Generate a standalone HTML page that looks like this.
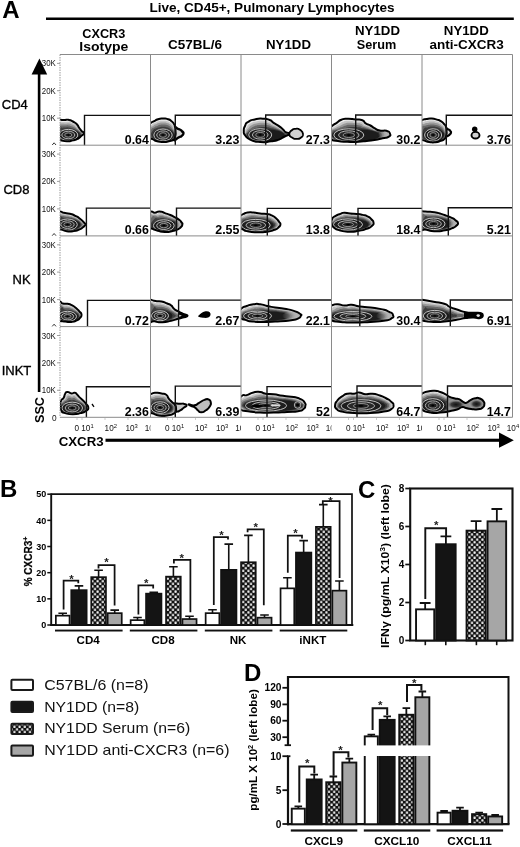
<!DOCTYPE html>
<html><head><meta charset="utf-8"><title>Figure</title>
<style>html,body{margin:0;padding:0;background:#fff}svg{display:block;will-change:transform}text{font-family:"Liberation Sans", sans-serif}</style></head><body>
<svg width="520" height="847" viewBox="0 0 520 847">
<rect width="520" height="847" fill="#fff"/>
<defs>
<pattern id="chk" width="5.2" height="5.2" patternUnits="userSpaceOnUse"><rect width="5.2" height="5.2" fill="#111"/><rect x="0.3" y="0.3" width="2.2" height="2.2" rx="0.6" fill="#f0f0f0"/><rect x="2.9" y="2.9" width="2.2" height="2.2" rx="0.6" fill="#f0f0f0"/></pattern>
<clipPath id="cp00"><rect x="60.00" y="54.50" width="90.50" height="90.70"/></clipPath>
<clipPath id="cp01"><rect x="150.50" y="54.50" width="90.50" height="90.70"/></clipPath>
<clipPath id="cp02"><rect x="241.00" y="54.50" width="90.50" height="90.70"/></clipPath>
<clipPath id="cp03"><rect x="331.50" y="54.50" width="90.50" height="90.70"/></clipPath>
<clipPath id="cp04"><rect x="422.00" y="54.50" width="90.50" height="90.70"/></clipPath>
<clipPath id="cp10"><rect x="60.00" y="145.20" width="90.50" height="90.70"/></clipPath>
<clipPath id="cp11"><rect x="150.50" y="145.20" width="90.50" height="90.70"/></clipPath>
<clipPath id="cp12"><rect x="241.00" y="145.20" width="90.50" height="90.70"/></clipPath>
<clipPath id="cp13"><rect x="331.50" y="145.20" width="90.50" height="90.70"/></clipPath>
<clipPath id="cp14"><rect x="422.00" y="145.20" width="90.50" height="90.70"/></clipPath>
<clipPath id="cp20"><rect x="60.00" y="235.90" width="90.50" height="90.70"/></clipPath>
<clipPath id="cp21"><rect x="150.50" y="235.90" width="90.50" height="90.70"/></clipPath>
<clipPath id="cp22"><rect x="241.00" y="235.90" width="90.50" height="90.70"/></clipPath>
<clipPath id="cp23"><rect x="331.50" y="235.90" width="90.50" height="90.70"/></clipPath>
<clipPath id="cp24"><rect x="422.00" y="235.90" width="90.50" height="90.70"/></clipPath>
<clipPath id="cp30"><rect x="60.00" y="326.60" width="90.50" height="90.70"/></clipPath>
<clipPath id="cp31"><rect x="150.50" y="326.60" width="90.50" height="90.70"/></clipPath>
<clipPath id="cp32"><rect x="241.00" y="326.60" width="90.50" height="90.70"/></clipPath>
<clipPath id="cp33"><rect x="331.50" y="326.60" width="90.50" height="90.70"/></clipPath>
<clipPath id="cp34"><rect x="422.00" y="326.60" width="90.50" height="90.70"/></clipPath>
<clipPath id="cl0"><rect x="58.00" y="418" width="92.50" height="16"/></clipPath>
<clipPath id="cl1"><rect x="148.50" y="418" width="92.50" height="16"/></clipPath>
<clipPath id="cl2"><rect x="239.00" y="418" width="92.50" height="16"/></clipPath>
<clipPath id="cl3"><rect x="329.50" y="418" width="92.50" height="16"/></clipPath>
<clipPath id="cl4"><rect x="420.00" y="418" width="100.00" height="16"/></clipPath>
<radialGradient id="rg"><stop offset="0" stop-color="#111"/><stop offset="0.45" stop-color="#3a3a3a"/><stop offset="1" stop-color="#c8c8c8" stop-opacity="0"/></radialGradient>
<linearGradient id="lg" x1="0" x2="1" y1="0" y2="0"><stop offset="0" stop-color="#aaa" stop-opacity="0"/><stop offset="0.8" stop-color="#b4b4b4" stop-opacity="1"/></linearGradient>
</defs>
<text x="2.3" y="18.2" font-size="24" font-weight="bold" fill="#000">A</text>
<text x="149.5" y="11.8" font-size="13" font-weight="bold" textLength="245" lengthAdjust="spacingAndGlyphs">Live, CD45+, Pulmonary Lymphocytes</text>
<rect x="46" y="17.5" width="467.8" height="2.5" fill="#000"/>
<text x="103.80" y="37.50" font-size="13" font-weight="bold" text-anchor="middle" textLength="43.0" lengthAdjust="spacingAndGlyphs" >CXCR3</text>
<text x="103.80" y="51.00" font-size="13" font-weight="bold" text-anchor="middle" textLength="49.0" lengthAdjust="spacingAndGlyphs" >Isotype</text>
<text x="195.00" y="48.80" font-size="13" font-weight="bold" text-anchor="middle" textLength="54.0" lengthAdjust="spacingAndGlyphs" >C57BL/6</text>
<text x="288.50" y="48.80" font-size="13" font-weight="bold" text-anchor="middle" textLength="45.0" lengthAdjust="spacingAndGlyphs" >NY1DD</text>
<text x="377.50" y="35.00" font-size="13" font-weight="bold" text-anchor="middle" textLength="45.0" lengthAdjust="spacingAndGlyphs" >NY1DD</text>
<text x="376.50" y="48.80" font-size="13" font-weight="bold" text-anchor="middle" textLength="39.5" lengthAdjust="spacingAndGlyphs" >Serum</text>
<text x="466.30" y="35.00" font-size="13" font-weight="bold" text-anchor="middle" textLength="45.0" lengthAdjust="spacingAndGlyphs" >NY1DD</text>
<text x="466.60" y="48.80" font-size="13" font-weight="bold" text-anchor="middle" textLength="74.3" lengthAdjust="spacingAndGlyphs" >anti-CXCR3</text>
<text x="27.8" y="108.5" font-size="13" text-anchor="end" stroke="#000" stroke-width="0.35">CD4</text>
<text x="29.4" y="193.5" font-size="13" text-anchor="end" stroke="#000" stroke-width="0.35">CD8</text>
<text x="30.6" y="283.5" font-size="13" text-anchor="end" stroke="#000" stroke-width="0.35">NK</text>
<text x="31.3" y="375.4" font-size="13" text-anchor="end" stroke="#000" stroke-width="0.35">INKT</text>
<rect x="37.8" y="72" width="2.6" height="320" fill="#000"/>
<path d="M39.4,58.5 L47.2,74.5 L31.6,74.5 Z" fill="#000"/>
<rect x="105.5" y="438.7" width="396" height="3.1" fill="#000"/>
<path d="M513.8,440.2 L499,432.6 L499,447.8 Z" fill="#000"/>
<text transform="translate(44.3,423) rotate(-90)" font-size="13" font-weight="bold" textLength="26" lengthAdjust="spacingAndGlyphs">SSC</text>
<text x="58.7" y="445.6" font-size="13" font-weight="bold" textLength="45" lengthAdjust="spacingAndGlyphs">CXCR3</text>
<g clip-path="url(#cp00)">
<clipPath id="b1"><path d="M50.0,121.0C51.3,114.8 51.4,120.1 56.0,119.8C60.6,119.5 59.6,120.0 63.7,120.0C67.8,120.0 65.2,119.3 68.3,119.8C71.4,120.3 70.1,120.0 72.9,121.5C75.7,123.0 74.7,122.1 76.8,124.2C78.9,126.3 77.6,125.5 79.1,127.7C80.6,129.9 79.8,129.0 81.4,130.8C83.0,132.6 83.9,131.4 83.9,133.1C83.9,134.8 83.3,134.0 81.4,135.8C79.5,137.6 81.1,137.0 78.3,138.5C75.5,140.0 76.7,139.5 72.9,140.4C69.1,141.3 71.1,141.3 66.8,141.2C62.5,141.1 64.9,141.1 60.0,140.2C55.1,139.3 55.3,144.9 52.0,138.5C48.7,132.1 48.7,127.2 50.0,121.0Z"/></clipPath><g clip-path="url(#b1)"><path d="M50.0,121.0C51.3,114.8 51.4,120.1 56.0,119.8C60.6,119.5 59.6,120.0 63.7,120.0C67.8,120.0 65.2,119.3 68.3,119.8C71.4,120.3 70.1,120.0 72.9,121.5C75.7,123.0 74.7,122.1 76.8,124.2C78.9,126.3 77.6,125.5 79.1,127.7C80.6,129.9 79.8,129.0 81.4,130.8C83.0,132.6 83.9,131.4 83.9,133.1C83.9,134.8 83.3,134.0 81.4,135.8C79.5,137.6 81.1,137.0 78.3,138.5C75.5,140.0 76.7,139.5 72.9,140.4C69.1,141.3 71.1,141.3 66.8,141.2C62.5,141.1 64.9,141.1 60.0,140.2C55.1,139.3 55.3,144.9 52.0,138.5C48.7,132.1 48.7,127.2 50.0,121.0Z" fill="#eeeeee"/><path d="M52.5,122.9C54.0,117.4 53.7,122.2 57.7,121.8C61.6,121.5 60.8,122.0 64.3,121.9C67.9,121.9 65.6,121.4 68.3,121.8C71.0,122.2 69.8,121.9 72.4,123.1C74.9,124.3 74.0,123.6 75.9,125.3C77.9,127.1 76.7,126.4 78.3,128.3C79.9,130.2 79.1,129.4 80.7,131.0C82.3,132.7 82.9,131.6 83.0,133.2C83.2,134.8 82.7,134.0 81.1,135.8C79.5,137.5 81.0,136.9 78.2,138.5C75.5,140.0 76.7,139.5 72.9,140.4C69.1,141.3 71.0,141.2 66.8,141.1C62.6,141.0 64.8,141.0 60.2,140.1C55.7,139.1 55.8,144.0 53.2,138.3C50.6,132.5 51.0,128.4 52.5,122.9Z" fill="#c6c6c6"/><path d="M54.7,124.6C56.3,119.8 55.8,124.0 59.1,123.7C62.5,123.4 61.8,123.7 64.9,123.7C67.9,123.6 66.0,123.2 68.3,123.5C70.7,123.8 69.6,123.7 71.9,124.6C74.2,125.6 73.3,125.0 75.2,126.4C77.0,127.8 75.9,127.2 77.5,128.8C79.2,130.4 78.5,129.7 80.1,131.3C81.6,132.8 82.0,131.8 82.3,133.3C82.5,134.8 82.2,134.1 80.8,135.8C79.5,137.5 80.8,136.9 78.2,138.5C75.5,140.0 76.7,139.5 72.9,140.4C69.1,141.2 71.0,141.2 66.8,141.0C62.7,140.9 64.7,140.9 60.4,139.9C56.2,138.9 56.1,143.2 54.2,138.1C52.3,132.9 53.1,129.4 54.7,124.6Z" fill="#989898"/><path d="M57.0,126.4C58.8,122.3 57.9,125.9 60.7,125.6C63.5,125.3 62.9,125.6 65.4,125.5C68.0,125.4 66.4,125.2 68.4,125.4C70.4,125.6 69.4,125.5 71.4,126.2C73.4,126.9 72.5,126.4 74.3,127.5C76.1,128.5 75.1,128.0 76.8,129.3C78.5,130.7 77.9,130.1 79.4,131.5C81.0,132.8 81.0,132.0 81.4,133.4C81.8,134.9 81.7,134.1 80.6,135.8C79.5,137.4 80.7,136.9 78.1,138.4C75.5,140.0 76.6,139.6 72.9,140.4C69.1,141.2 70.9,141.1 66.9,140.9C62.8,140.7 64.5,140.8 60.7,139.8C56.8,138.8 56.6,142.3 55.3,137.8C54.1,133.4 55.2,130.5 57.0,126.4Z" fill="#686868"/><path d="M59.6,128.4C61.6,125.1 60.3,128.0 62.5,127.7C64.6,127.5 64.1,127.6 66.1,127.5C68.1,127.4 66.8,127.3 68.4,127.4C70.0,127.6 69.2,127.5 70.9,127.9C72.5,128.3 71.7,128.0 73.4,128.7C75.1,129.4 74.2,128.9 75.9,130.0C77.7,131.0 77.1,130.5 78.7,131.7C80.2,132.9 80.0,132.2 80.5,133.6C81.1,134.9 81.1,134.1 80.3,135.7C79.4,137.4 80.5,136.9 78.0,138.4C75.6,140.0 76.6,139.6 72.9,140.4C69.2,141.2 70.9,141.1 66.9,140.8C62.9,140.6 64.4,140.8 60.9,139.7C57.5,138.6 57.0,141.3 56.6,137.6C56.1,133.8 57.7,131.7 59.6,128.4Z" fill="#3c3c3c"/><ellipse cx="68.5" cy="135.2" rx="11.5" ry="5.6" fill="#1c1c1c"/><ellipse cx="68.3" cy="135.0" rx="9.5" ry="5.6" fill="#1e1e1e" stroke="#c4c4c4" stroke-width="1.0"/><ellipse cx="68.3" cy="135.0" rx="6.5" ry="3.8" fill="#282828" stroke="#b4b4b4" stroke-width="1.0"/><ellipse cx="68.3" cy="135.0" rx="3.6" ry="2.1" fill="#1e1e1e" stroke="#9c9c9c" stroke-width="0.9"/><ellipse cx="68.3" cy="135.0" rx="1.2" ry="0.7" fill="#000"/></g><path d="M50.0,121.0C51.3,114.8 51.4,120.1 56.0,119.8C60.6,119.5 59.6,120.0 63.7,120.0C67.8,120.0 65.2,119.3 68.3,119.8C71.4,120.3 70.1,120.0 72.9,121.5C75.7,123.0 74.7,122.1 76.8,124.2C78.9,126.3 77.6,125.5 79.1,127.7C80.6,129.9 79.8,129.0 81.4,130.8C83.0,132.6 83.9,131.4 83.9,133.1C83.9,134.8 83.3,134.0 81.4,135.8C79.5,137.6 81.1,137.0 78.3,138.5C75.5,140.0 76.7,139.5 72.9,140.4C69.1,141.3 71.1,141.3 66.8,141.2C62.5,141.1 64.9,141.1 60.0,140.2C55.1,139.3 55.3,144.9 52.0,138.5C48.7,132.1 48.7,127.2 50.0,121.0Z" fill="none" stroke="#000" stroke-width="2" stroke-linejoin="round"/>
</g>
<path d="M84.50,145.20 V115.40 H150.50" fill="none" stroke="#111" stroke-width="1.4"/>
<text x="148.90" y="143.70" font-size="12.4" font-weight="bold" text-anchor="end">0.64</text>
<g clip-path="url(#cp01)">
<path d="M173.0,128.0C174.9,124.7 175.7,128.0 178.8,129.2C181.9,130.4 180.7,130.1 182.2,131.5C183.7,132.9 183.5,132.1 183.4,133.5C183.3,134.9 183.3,134.5 181.8,135.8C180.3,137.1 181.7,136.2 178.8,137.3C175.9,138.4 174.9,142.1 173.0,139.0C171.1,135.9 171.1,131.3 173.0,128.0Z" fill="#d4d4d4" stroke="#000" stroke-width="2.40" stroke-linejoin="round"/>
<clipPath id="b2"><path d="M146.0,128.0C147.2,123.7 148.0,125.4 150.7,123.1C153.4,120.8 151.8,122.5 154.2,121.2C156.6,119.9 154.9,120.1 158.0,119.2C161.1,118.3 160.1,118.6 163.4,118.6C166.7,118.6 165.3,118.3 168.0,119.2C170.7,120.1 169.6,119.7 171.5,121.2C173.4,122.7 172.6,121.9 173.8,123.8C175.0,125.7 174.4,124.6 175.0,127.0C175.6,129.4 175.4,128.0 175.5,131.0C175.6,134.0 176.0,133.1 175.3,136.0C174.6,138.9 175.6,137.9 173.4,139.6C171.2,141.3 172.1,140.4 168.8,141.2C165.5,142.0 167.3,141.9 163.4,141.9C159.5,141.9 160.8,142.1 157.2,141.2C153.6,140.3 156.0,140.9 152.6,139.2C149.2,137.5 149.2,139.7 147.0,136.0C144.8,132.3 144.8,132.3 146.0,128.0Z"/></clipPath><g clip-path="url(#b2)"><path d="M146.0,128.0C147.2,123.7 148.0,125.4 150.7,123.1C153.4,120.8 151.8,122.5 154.2,121.2C156.6,119.9 154.9,120.1 158.0,119.2C161.1,118.3 160.1,118.6 163.4,118.6C166.7,118.6 165.3,118.3 168.0,119.2C170.7,120.1 169.6,119.7 171.5,121.2C173.4,122.7 172.6,121.9 173.8,123.8C175.0,125.7 174.4,124.6 175.0,127.0C175.6,129.4 175.4,128.0 175.5,131.0C175.6,134.0 176.0,133.1 175.3,136.0C174.6,138.9 175.6,137.9 173.4,139.6C171.2,141.3 172.1,140.4 168.8,141.2C165.5,142.0 167.3,141.9 163.4,141.9C159.5,141.9 160.8,142.1 157.2,141.2C153.6,140.3 156.0,140.9 152.6,139.2C149.2,137.5 149.2,139.7 147.0,136.0C144.8,132.3 144.8,132.3 146.0,128.0Z" fill="#eeeeee"/><path d="M147.7,128.7C149.1,124.9 149.6,126.4 152.1,124.4C154.6,122.5 153.1,123.9 155.3,122.8C157.5,121.7 156.0,121.9 158.7,121.2C161.4,120.5 160.5,120.7 163.4,120.7C166.3,120.7 165.0,120.5 167.4,121.2C169.8,121.9 168.8,121.6 170.5,122.8C172.3,124.1 171.5,123.4 172.7,125.0C173.9,126.6 173.3,125.6 174.0,127.7C174.8,129.7 174.6,128.4 174.9,131.2C175.3,134.0 175.7,133.2 175.0,136.0C174.4,138.7 175.2,137.8 173.1,139.4C170.9,141.1 171.9,140.3 168.7,141.0C165.4,141.8 167.2,141.7 163.4,141.7C159.6,141.7 160.9,141.9 157.4,141.0C153.9,140.1 156.1,140.7 153.0,139.1C149.9,137.4 149.9,139.4 148.1,135.9C146.4,132.5 146.4,132.5 147.7,128.7Z" fill="#c6c6c6"/><path d="M149.3,129.3C150.7,125.9 151.1,127.3 153.4,125.7C155.7,124.0 154.3,125.2 156.2,124.3C158.2,123.4 156.9,123.5 159.3,123.0C161.6,122.4 160.8,122.6 163.4,122.6C165.9,122.5 164.8,122.4 166.9,123.0C169.0,123.5 168.1,123.3 169.7,124.3C171.3,125.3 170.5,124.7 171.7,126.0C172.9,127.4 172.2,126.5 173.1,128.3C174.0,130.0 173.8,128.8 174.4,131.4C175.0,133.9 175.4,133.3 174.8,136.0C174.2,138.6 174.8,137.7 172.7,139.3C170.6,140.9 171.6,140.1 168.5,140.9C165.4,141.6 167.1,141.6 163.4,141.6C159.7,141.5 160.9,141.7 157.5,140.8C154.2,140.0 156.1,140.6 153.3,138.9C150.5,137.3 150.5,139.1 149.1,135.9C147.8,132.7 147.8,132.7 149.3,129.3Z" fill="#989898"/><path d="M150.9,130.0C152.4,127.0 152.6,128.3 154.8,126.9C156.9,125.6 155.6,126.6 157.3,125.9C159.0,125.2 157.9,125.3 159.9,124.8C161.9,124.4 161.2,124.5 163.4,124.5C165.5,124.5 164.5,124.4 166.3,124.8C168.1,125.3 167.3,125.0 168.8,125.8C170.2,126.6 169.5,126.1 170.7,127.2C171.8,128.2 171.1,127.4 172.2,128.9C173.3,130.4 173.1,129.2 173.8,131.5C174.6,133.9 175.0,133.4 174.5,135.9C174.1,138.5 174.5,137.5 172.4,139.1C170.3,140.7 171.4,140.0 168.4,140.7C165.4,141.5 166.9,141.4 163.4,141.4C159.8,141.4 161.0,141.5 157.7,140.7C154.5,139.8 156.2,140.4 153.7,138.8C151.2,137.2 151.1,138.7 150.2,135.8C149.2,132.9 149.4,132.9 150.9,130.0Z" fill="#686868"/><path d="M152.7,130.7C154.3,128.2 154.4,129.4 156.3,128.3C158.2,127.3 157.0,128.0 158.4,127.6C159.8,127.1 158.9,127.2 160.6,126.9C162.2,126.6 161.6,126.7 163.4,126.7C165.1,126.7 164.2,126.6 165.7,126.9C167.2,127.2 166.5,127.0 167.7,127.5C169.0,128.0 168.4,127.7 169.5,128.4C170.6,129.1 169.9,128.5 171.2,129.6C172.4,130.7 172.2,129.6 173.2,131.7C174.3,133.8 174.7,133.5 174.3,135.9C173.9,138.3 174.0,137.4 172.0,139.0C170.0,140.5 171.1,139.8 168.2,140.6C165.4,141.3 166.8,141.2 163.4,141.2C160.0,141.2 161.0,141.3 157.9,140.5C154.8,139.6 156.3,140.2 154.1,138.6C151.9,137.0 151.8,138.4 151.3,135.7C150.9,133.1 151.0,133.2 152.7,130.7Z" fill="#3c3c3c"/><ellipse cx="163.3" cy="135.0" rx="10.8" ry="6.0" fill="#1c1c1c"/><ellipse cx="163.0" cy="135.0" rx="9.2" ry="6.0" fill="#1e1e1e" stroke="#c4c4c4" stroke-width="1.0"/><ellipse cx="163.0" cy="135.0" rx="6.3" ry="4.1" fill="#282828" stroke="#b4b4b4" stroke-width="1.0"/><ellipse cx="163.0" cy="135.0" rx="3.5" ry="2.3" fill="#1e1e1e" stroke="#9c9c9c" stroke-width="0.9"/><ellipse cx="163.0" cy="135.0" rx="1.2" ry="0.8" fill="#000"/></g><path d="M146.0,128.0C147.2,123.7 148.0,125.4 150.7,123.1C153.4,120.8 151.8,122.5 154.2,121.2C156.6,119.9 154.9,120.1 158.0,119.2C161.1,118.3 160.1,118.6 163.4,118.6C166.7,118.6 165.3,118.3 168.0,119.2C170.7,120.1 169.6,119.7 171.5,121.2C173.4,122.7 172.6,121.9 173.8,123.8C175.0,125.7 174.4,124.6 175.0,127.0C175.6,129.4 175.4,128.0 175.5,131.0C175.6,134.0 176.0,133.1 175.3,136.0C174.6,138.9 175.6,137.9 173.4,139.6C171.2,141.3 172.1,140.4 168.8,141.2C165.5,142.0 167.3,141.9 163.4,141.9C159.5,141.9 160.8,142.1 157.2,141.2C153.6,140.3 156.0,140.9 152.6,139.2C149.2,137.5 149.2,139.7 147.0,136.0C144.8,132.3 144.8,132.3 146.0,128.0Z" fill="none" stroke="#000" stroke-width="2" stroke-linejoin="round"/>
</g>
<path d="M175.30,145.20 V115.20 H241.00" fill="none" stroke="#111" stroke-width="1.4"/>
<text x="239.40" y="143.70" font-size="12.4" font-weight="bold" text-anchor="end">3.23</text>
<g clip-path="url(#cp02)">
<clipPath id="b3"><path d="M243.8,131.0C243.7,127.8 243.6,129.0 245.0,126.0C246.4,123.0 244.7,124.2 248.0,122.0C251.3,119.8 249.8,120.5 254.8,119.4C259.8,118.3 258.0,118.5 262.9,118.7C267.8,118.9 266.0,118.6 269.6,120.0C273.2,121.4 270.5,120.8 273.6,122.8C276.7,124.8 275.9,123.9 279.0,126.1C282.1,128.3 280.8,127.5 283.0,129.5C285.2,131.5 283.7,131.0 285.5,132.2C287.3,133.4 286.8,132.4 288.5,133.0C290.2,133.6 290.7,133.3 290.5,134.0C290.3,134.7 290.3,134.0 288.0,135.0C285.7,136.0 286.7,135.5 283.7,137.0C280.7,138.5 283.2,138.2 279.0,139.6C274.8,141.0 277.3,140.5 271.0,141.3C264.7,142.1 266.9,142.5 260.2,142.0C253.5,141.5 255.7,141.9 250.8,139.8C245.9,137.7 247.7,138.5 245.4,135.6C243.1,132.7 243.9,134.2 243.8,131.0Z"/></clipPath><g clip-path="url(#b3)"><path d="M243.8,131.0C243.7,127.8 243.6,129.0 245.0,126.0C246.4,123.0 244.7,124.2 248.0,122.0C251.3,119.8 249.8,120.5 254.8,119.4C259.8,118.3 258.0,118.5 262.9,118.7C267.8,118.9 266.0,118.6 269.6,120.0C273.2,121.4 270.5,120.8 273.6,122.8C276.7,124.8 275.9,123.9 279.0,126.1C282.1,128.3 280.8,127.5 283.0,129.5C285.2,131.5 283.7,131.0 285.5,132.2C287.3,133.4 286.8,132.4 288.5,133.0C290.2,133.6 290.7,133.3 290.5,134.0C290.3,134.7 290.3,134.0 288.0,135.0C285.7,136.0 286.7,135.5 283.7,137.0C280.7,138.5 283.2,138.2 279.0,139.6C274.8,141.0 277.3,140.5 271.0,141.3C264.7,142.1 266.9,142.5 260.2,142.0C253.5,141.5 255.7,141.9 250.8,139.8C245.9,137.7 247.7,138.5 245.4,135.6C243.1,132.7 243.9,134.2 243.8,131.0Z" fill="#eeeeee"/><path d="M245.1,131.2C245.5,128.3 245.3,129.5 247.0,126.9C248.7,124.3 247.0,125.4 250.1,123.6C253.2,121.7 251.8,122.3 256.2,121.4C260.6,120.5 259.0,120.7 263.3,120.8C267.6,121.0 266.0,120.8 269.2,121.9C272.3,123.0 269.9,122.5 272.8,124.1C275.7,125.8 274.8,125.0 277.9,126.8C281.1,128.7 279.8,128.0 282.1,129.8C284.5,131.6 283.1,131.2 284.9,132.3C286.7,133.4 286.1,132.5 287.5,133.1C289.0,133.7 289.3,133.4 289.3,134.1C289.2,134.7 289.1,134.0 287.3,135.0C285.4,136.0 286.5,135.5 283.7,137.0C280.9,138.5 283.2,138.2 279.0,139.6C274.7,141.0 277.2,140.5 271.0,141.3C264.8,142.0 267.0,142.3 260.4,141.8C253.7,141.3 256.0,141.8 251.1,139.7C246.3,137.6 247.8,138.4 245.8,135.6C243.8,132.8 244.7,134.1 245.1,131.2Z" fill="#c6c6c6"/><path d="M246.2,131.5C247.1,128.8 246.9,129.9 248.8,127.7C250.8,125.5 249.1,126.5 252.0,125.0C254.9,123.5 253.6,124.0 257.5,123.2C261.4,122.5 259.9,122.6 263.7,122.7C267.4,122.8 266.0,122.7 268.8,123.5C271.6,124.4 269.3,124.0 272.1,125.3C274.8,126.6 273.9,125.9 277.0,127.5C280.1,129.1 278.9,128.4 281.4,130.1C283.9,131.7 282.6,131.3 284.4,132.4C286.2,133.4 285.4,132.6 286.7,133.2C287.9,133.8 288.1,133.5 288.1,134.1C288.1,134.7 288.1,134.1 286.7,135.0C285.2,136.0 286.3,135.5 283.7,137.0C281.2,138.5 283.2,138.2 279.0,139.6C274.7,141.0 277.1,140.5 270.9,141.2C264.8,141.9 267.0,142.2 260.5,141.6C254.0,141.1 256.2,141.6 251.4,139.6C246.6,137.6 247.9,138.3 246.2,135.6C244.5,132.9 245.3,134.1 246.2,131.5Z" fill="#989898"/><path d="M247.4,131.7C248.8,129.4 248.5,130.3 250.7,128.5C252.9,126.8 251.3,127.6 254.0,126.4C256.7,125.3 255.5,125.7 258.8,125.1C262.2,124.6 260.9,124.7 264.0,124.7C267.2,124.8 265.9,124.7 268.4,125.3C270.8,125.9 268.8,125.6 271.3,126.6C273.9,127.5 272.9,127.0 276.0,128.2C279.1,129.5 278.0,128.9 280.6,130.3C283.2,131.7 282.1,131.5 283.9,132.5C285.6,133.4 284.7,132.7 285.7,133.3C286.8,133.9 286.9,133.6 286.9,134.2C287.0,134.8 287.1,134.1 286.0,135.0C284.9,136.0 286.1,135.5 283.7,137.0C281.4,138.5 283.2,138.2 279.0,139.6C274.7,141.0 277.0,140.6 270.9,141.2C264.8,141.8 267.1,142.0 260.7,141.5C254.2,140.9 256.4,141.5 251.7,139.5C247.0,137.6 248.0,138.2 246.6,135.6C245.2,133.0 246.0,134.0 247.4,131.7Z" fill="#686868"/><path d="M248.7,132.0C250.7,129.9 250.3,130.8 252.9,129.5C255.4,128.2 253.8,128.8 256.2,128.1C258.7,127.3 257.6,127.6 260.3,127.2C263.1,126.9 261.9,127.0 264.4,127.0C267.0,127.0 265.9,126.9 267.9,127.3C269.9,127.6 268.1,127.4 270.5,128.0C272.8,128.5 271.8,128.1 274.9,129.0C277.9,129.9 276.9,129.5 279.7,130.6C282.5,131.8 281.6,131.6 283.2,132.6C284.9,133.5 283.9,132.8 284.7,133.4C285.5,134.0 285.4,133.7 285.6,134.3C285.8,134.8 285.9,134.1 285.3,135.0C284.6,136.0 285.8,135.5 283.7,137.0C281.6,138.5 283.3,138.2 279.0,139.6C274.7,141.0 276.9,140.6 270.9,141.1C264.8,141.7 267.1,141.8 260.8,141.3C254.5,140.7 256.6,141.3 252.0,139.4C247.4,137.5 248.1,138.1 247.1,135.6C246.0,133.1 246.8,134.0 248.7,132.0Z" fill="#3c3c3c"/><ellipse cx="266.0" cy="135.3" rx="18.5" ry="6.0" fill="#1c1c1c"/><ellipse cx="260.2" cy="134.9" rx="11.5" ry="6.2" fill="#1e1e1e" stroke="#c4c4c4" stroke-width="1.0"/><ellipse cx="260.2" cy="134.9" rx="7.8" ry="4.2" fill="#282828" stroke="#b4b4b4" stroke-width="1.0"/><ellipse cx="260.2" cy="134.9" rx="4.4" ry="2.4" fill="#1e1e1e" stroke="#9c9c9c" stroke-width="0.9"/><ellipse cx="260.2" cy="134.9" rx="1.5" ry="0.8" fill="#000"/></g><path d="M243.8,131.0C243.7,127.8 243.6,129.0 245.0,126.0C246.4,123.0 244.7,124.2 248.0,122.0C251.3,119.8 249.8,120.5 254.8,119.4C259.8,118.3 258.0,118.5 262.9,118.7C267.8,118.9 266.0,118.6 269.6,120.0C273.2,121.4 270.5,120.8 273.6,122.8C276.7,124.8 275.9,123.9 279.0,126.1C282.1,128.3 280.8,127.5 283.0,129.5C285.2,131.5 283.7,131.0 285.5,132.2C287.3,133.4 286.8,132.4 288.5,133.0C290.2,133.6 290.7,133.3 290.5,134.0C290.3,134.7 290.3,134.0 288.0,135.0C285.7,136.0 286.7,135.5 283.7,137.0C280.7,138.5 283.2,138.2 279.0,139.6C274.8,141.0 277.3,140.5 271.0,141.3C264.7,142.1 266.9,142.5 260.2,142.0C253.5,141.5 255.7,141.9 250.8,139.8C245.9,137.7 247.7,138.5 245.4,135.6C243.1,132.7 243.9,134.2 243.8,131.0Z" fill="none" stroke="#000" stroke-width="2" stroke-linejoin="round"/>
<path d="M289.3,134.3C289.1,132.0 289.4,132.3 291.5,130.5C293.6,128.7 292.7,129.0 295.5,128.8C298.3,128.6 297.5,128.1 300.0,129.8C302.5,131.5 302.7,131.2 303.0,133.8C303.3,136.4 303.2,135.8 301.0,137.5C298.8,139.2 299.5,138.9 296.5,138.9C293.5,138.9 294.4,139.0 292.0,137.5C289.6,136.0 289.5,136.6 289.3,134.3Z" fill="#d0d0d0" stroke="#000" stroke-width="1.80" stroke-linejoin="round"/>
</g>
<path d="M265.70,145.20 V115.00 H331.50" fill="none" stroke="#111" stroke-width="1.4"/>
<text x="329.90" y="143.70" font-size="12.4" font-weight="bold" text-anchor="end">27.3</text>
<g clip-path="url(#cp03)">
<clipPath id="b4"><path d="M326.0,132.0C326.7,127.9 328.4,129.2 332.0,126.1C335.6,123.0 333.6,124.9 336.7,122.8C339.8,120.7 337.8,121.2 341.4,119.8C345.0,118.4 342.8,118.8 347.5,118.7C352.2,118.6 350.7,118.9 355.6,119.4C360.5,119.9 358.9,119.0 362.3,120.3C365.7,121.6 363.0,121.7 365.7,123.4C368.4,125.1 367.5,123.9 370.4,125.5C373.3,127.1 371.3,126.5 374.4,128.2C377.5,129.9 375.8,129.7 379.8,130.6C383.8,131.5 383.1,129.8 386.5,130.8C389.9,131.8 389.2,131.5 389.9,133.5C390.6,135.5 391.0,135.3 388.5,136.9C386.0,138.5 387.2,137.2 382.5,138.2C377.8,139.2 380.7,139.0 374.4,140.0C368.1,141.0 371.7,140.7 363.6,141.3C355.5,141.9 358.7,142.0 350.2,141.9C341.7,141.8 344.7,142.0 338.0,140.9C331.3,139.8 334.0,141.5 330.0,138.5C326.0,135.5 325.3,136.1 326.0,132.0Z"/></clipPath><g clip-path="url(#b4)"><path d="M326.0,132.0C326.7,127.9 328.4,129.2 332.0,126.1C335.6,123.0 333.6,124.9 336.7,122.8C339.8,120.7 337.8,121.2 341.4,119.8C345.0,118.4 342.8,118.8 347.5,118.7C352.2,118.6 350.7,118.9 355.6,119.4C360.5,119.9 358.9,119.0 362.3,120.3C365.7,121.6 363.0,121.7 365.7,123.4C368.4,125.1 367.5,123.9 370.4,125.5C373.3,127.1 371.3,126.5 374.4,128.2C377.5,129.9 375.8,129.7 379.8,130.6C383.8,131.5 383.1,129.8 386.5,130.8C389.9,131.8 389.2,131.5 389.9,133.5C390.6,135.5 391.0,135.3 388.5,136.9C386.0,138.5 387.2,137.2 382.5,138.2C377.8,139.2 380.7,139.0 374.4,140.0C368.1,141.0 371.7,140.7 363.6,141.3C355.5,141.9 358.7,142.0 350.2,141.9C341.7,141.8 344.7,142.0 338.0,140.9C331.3,139.8 334.0,141.5 330.0,138.5C326.0,135.5 325.3,136.1 326.0,132.0Z" fill="#eeeeee"/><path d="M327.6,132.2C328.7,128.4 330.4,129.6 334.2,126.9C337.9,124.3 335.8,125.9 338.8,124.2C341.8,122.4 340.0,122.8 343.2,121.7C346.5,120.6 344.4,120.9 348.6,120.8C352.7,120.7 351.3,121.0 355.6,121.4C360.0,121.8 358.5,121.0 361.5,122.1C364.6,123.2 362.2,123.2 364.7,124.6C367.3,126.0 366.3,125.0 369.2,126.3C372.0,127.7 370.1,127.1 373.3,128.6C376.5,130.1 375.1,130.0 378.8,130.8C382.5,131.6 381.5,130.2 384.5,131.1C387.5,132.0 387.1,131.7 387.8,133.6C388.5,135.5 388.8,135.3 386.7,136.8C384.6,138.3 385.8,137.1 381.6,138.1C377.4,139.1 380.1,138.9 374.1,139.9C368.1,141.0 371.4,140.6 363.5,141.2C355.6,141.9 358.6,141.9 350.3,141.8C342.0,141.6 345.1,141.8 338.6,140.7C332.1,139.6 334.6,141.2 330.9,138.4C327.2,135.5 326.5,136.0 327.6,132.2Z" fill="#c6c6c6"/><path d="M329.1,132.3C330.5,128.8 332.2,130.0 336.1,127.7C340.0,125.4 337.8,126.8 340.7,125.4C343.7,124.0 341.9,124.4 344.9,123.5C347.8,122.6 346.0,122.8 349.6,122.7C353.2,122.6 351.9,122.8 355.7,123.2C359.5,123.5 358.1,122.9 360.9,123.7C363.6,124.6 361.4,124.6 363.8,125.7C366.2,126.8 365.2,126.0 368.1,127.1C370.9,128.2 369.1,127.7 372.4,129.0C375.6,130.3 374.4,130.2 377.9,131.0C381.4,131.8 380.1,130.4 382.8,131.4C385.4,132.3 385.2,131.9 385.9,133.7C386.7,135.5 386.8,135.3 385.1,136.7C383.4,138.2 384.6,137.0 380.8,138.0C377.0,139.0 379.6,138.8 373.8,139.8C368.0,140.9 371.2,140.6 363.5,141.2C355.7,141.8 358.6,141.8 350.4,141.6C342.3,141.4 345.4,141.7 339.1,140.5C332.9,139.4 335.1,141.0 331.7,138.3C328.3,135.6 327.6,135.9 329.1,132.3Z" fill="#989898"/><path d="M330.6,132.5C332.5,129.3 334.1,130.4 338.2,128.5C342.3,126.6 340.0,127.8 342.8,126.7C345.6,125.7 344.0,126.0 346.6,125.3C349.2,124.7 347.6,124.9 350.6,124.8C353.7,124.7 352.6,124.8 355.7,125.0C358.9,125.3 357.8,124.9 360.1,125.4C362.5,126.0 360.6,126.0 362.9,126.8C365.2,127.6 364.1,127.0 366.9,127.9C369.7,128.7 368.0,128.3 371.4,129.4C374.7,130.5 373.8,130.4 377.0,131.2C380.2,131.9 378.6,130.7 380.9,131.6C383.2,132.5 383.1,132.1 384.0,133.8C384.8,135.5 384.7,135.3 383.4,136.6C382.1,138.0 383.2,136.9 379.9,137.9C376.6,139.0 379.0,138.7 373.5,139.8C368.0,140.8 371.0,140.6 363.4,141.1C355.8,141.7 358.5,141.7 350.6,141.5C342.7,141.2 345.7,141.5 339.7,140.4C333.7,139.3 335.6,140.8 332.5,138.2C329.5,135.6 328.7,135.7 330.6,132.5Z" fill="#686868"/><path d="M332.3,132.7C334.6,129.8 336.2,130.9 340.5,129.4C344.7,127.9 342.3,128.9 345.0,128.2C347.7,127.5 346.3,127.7 348.5,127.3C350.7,126.9 349.3,127.1 351.8,127.0C354.2,126.9 353.3,127.0 355.8,127.1C358.3,127.2 357.3,127.0 359.3,127.3C361.4,127.7 359.8,127.6 361.9,128.1C364.0,128.6 362.8,128.2 365.6,128.8C368.4,129.3 366.8,128.9 370.2,129.8C373.7,130.7 373.1,130.7 375.9,131.4C378.8,132.1 376.9,131.1 378.8,131.9C380.8,132.8 380.9,132.4 381.8,133.9C382.7,135.5 382.4,135.3 381.5,136.6C380.6,137.9 381.8,136.8 379.0,137.8C376.2,138.9 378.4,138.6 373.1,139.7C367.9,140.8 370.8,140.5 363.3,141.1C355.8,141.6 358.4,141.6 350.7,141.3C343.0,141.0 346.1,141.3 340.3,140.2C334.6,139.1 336.2,140.6 333.5,138.1C330.8,135.6 329.9,135.6 332.3,132.7Z" fill="#3c3c3c"/><ellipse cx="356.0" cy="135.3" rx="24.0" ry="6.0" fill="#1c1c1c"/><ellipse cx="348.8" cy="135.1" rx="15.0" ry="6.3" fill="#1e1e1e" stroke="#c4c4c4" stroke-width="1.0"/><ellipse cx="348.8" cy="135.1" rx="10.2" ry="4.3" fill="#282828" stroke="#b4b4b4" stroke-width="1.0"/><ellipse cx="348.8" cy="135.1" rx="5.7" ry="2.4" fill="#1e1e1e" stroke="#9c9c9c" stroke-width="0.9"/><ellipse cx="348.8" cy="135.1" rx="2.0" ry="0.8" fill="#000"/><ellipse cx="383.5" cy="134.5" rx="5.5" ry="3.2" fill="url(#lg)"/></g><path d="M326.0,132.0C326.7,127.9 328.4,129.2 332.0,126.1C335.6,123.0 333.6,124.9 336.7,122.8C339.8,120.7 337.8,121.2 341.4,119.8C345.0,118.4 342.8,118.8 347.5,118.7C352.2,118.6 350.7,118.9 355.6,119.4C360.5,119.9 358.9,119.0 362.3,120.3C365.7,121.6 363.0,121.7 365.7,123.4C368.4,125.1 367.5,123.9 370.4,125.5C373.3,127.1 371.3,126.5 374.4,128.2C377.5,129.9 375.8,129.7 379.8,130.6C383.8,131.5 383.1,129.8 386.5,130.8C389.9,131.8 389.2,131.5 389.9,133.5C390.6,135.5 391.0,135.3 388.5,136.9C386.0,138.5 387.2,137.2 382.5,138.2C377.8,139.2 380.7,139.0 374.4,140.0C368.1,141.0 371.7,140.7 363.6,141.3C355.5,141.9 358.7,142.0 350.2,141.9C341.7,141.8 344.7,142.0 338.0,140.9C331.3,139.8 334.0,141.5 330.0,138.5C326.0,135.5 325.3,136.1 326.0,132.0Z" fill="none" stroke="#000" stroke-width="2" stroke-linejoin="round"/>
</g>
<path d="M355.70,145.20 V115.00 H422.00" fill="none" stroke="#111" stroke-width="1.4"/>
<text x="420.40" y="143.70" font-size="12.4" font-weight="bold" text-anchor="end">30.2</text>
<g clip-path="url(#cp04)">
<path d="M444.0,128.5C445.5,126.0 446.4,128.7 448.5,129.6C450.6,130.5 449.6,130.1 450.4,131.2C451.2,132.3 451.2,131.7 450.9,132.8C450.6,133.9 450.9,133.4 449.6,134.6C448.3,135.8 448.9,135.5 447.0,136.3C445.1,137.1 445.0,139.6 444.0,137.0C443.0,134.4 442.5,131.0 444.0,128.5Z" fill="#dcdcdc" stroke="#000" stroke-width="2.20" stroke-linejoin="round"/>
<clipPath id="b5"><path d="M415.0,124.0C416.9,118.5 418.0,122.0 421.7,120.4C425.4,118.8 422.9,119.7 426.2,119.1C429.5,118.5 427.9,118.4 431.5,118.6C435.1,118.8 433.8,118.7 436.9,119.6C440.0,120.5 438.5,119.8 440.8,121.2C443.1,122.6 442.1,122.0 443.8,123.8C445.5,125.6 444.9,124.1 445.8,126.5C446.7,128.9 446.3,128.2 446.5,131.0C446.7,133.8 446.9,132.4 446.3,135.0C445.7,137.6 446.4,136.9 444.6,138.8C442.8,140.7 443.9,139.7 440.8,140.8C437.7,141.9 439.3,141.8 435.4,142.2C431.5,142.6 433.1,142.5 429.2,141.9C425.3,141.3 428.2,142.0 423.8,140.4C419.4,138.8 418.9,142.5 416.0,137.0C413.1,131.5 413.1,129.5 415.0,124.0Z"/></clipPath><g clip-path="url(#b5)"><path d="M415.0,124.0C416.9,118.5 418.0,122.0 421.7,120.4C425.4,118.8 422.9,119.7 426.2,119.1C429.5,118.5 427.9,118.4 431.5,118.6C435.1,118.8 433.8,118.7 436.9,119.6C440.0,120.5 438.5,119.8 440.8,121.2C443.1,122.6 442.1,122.0 443.8,123.8C445.5,125.6 444.9,124.1 445.8,126.5C446.7,128.9 446.3,128.2 446.5,131.0C446.7,133.8 446.9,132.4 446.3,135.0C445.7,137.6 446.4,136.9 444.6,138.8C442.8,140.7 443.9,139.7 440.8,140.8C437.7,141.9 439.3,141.8 435.4,142.2C431.5,142.6 433.1,142.5 429.2,141.9C425.3,141.3 428.2,142.0 423.8,140.4C419.4,138.8 418.9,142.5 416.0,137.0C413.1,131.5 413.1,129.5 415.0,124.0Z" fill="#eeeeee"/><path d="M417.2,125.3C419.1,120.4 419.9,123.6 423.2,122.2C426.5,120.8 424.2,121.6 427.1,121.1C430.0,120.6 428.6,120.5 431.7,120.6C434.9,120.8 433.8,120.7 436.5,121.5C439.2,122.2 437.9,121.6 440.0,122.8C442.0,123.9 441.2,123.5 442.7,125.0C444.3,126.4 443.7,125.2 444.7,127.3C445.7,129.3 445.4,128.6 445.8,131.2C446.1,133.8 446.4,132.5 445.8,135.0C445.3,137.5 445.9,136.8 444.2,138.7C442.4,140.5 443.5,139.5 440.6,140.6C437.6,141.7 439.1,141.6 435.3,142.0C431.6,142.3 433.0,142.3 429.3,141.7C425.6,141.1 428.2,141.8 424.2,140.2C420.2,138.6 419.8,141.8 417.4,136.8C415.1,131.9 415.3,130.2 417.2,125.3Z" fill="#c6c6c6"/><path d="M419.2,126.5C421.1,122.2 421.6,125.0 424.5,123.8C427.4,122.6 425.4,123.3 427.9,122.9C430.4,122.4 429.2,122.4 432.0,122.5C434.7,122.6 433.7,122.5 436.1,123.1C438.5,123.7 437.3,123.2 439.2,124.2C441.1,125.2 440.3,124.7 441.8,126.0C443.3,127.2 442.6,126.1 443.7,127.9C444.8,129.8 444.5,129.1 445.1,131.4C445.7,133.8 445.8,132.6 445.4,135.0C445.0,137.4 445.5,136.7 443.8,138.5C442.2,140.4 443.3,139.4 440.4,140.5C437.6,141.6 438.9,141.5 435.3,141.8C431.6,142.1 433.0,142.1 429.5,141.5C425.9,140.9 428.2,141.6 424.6,140.0C421.0,138.4 420.5,141.2 418.7,136.7C416.9,132.2 417.3,130.8 419.2,126.5Z" fill="#989898"/><path d="M421.3,127.8C423.2,124.1 423.4,126.5 425.8,125.5C428.3,124.5 426.7,125.1 428.8,124.8C430.9,124.4 429.9,124.4 432.2,124.4C434.5,124.5 433.7,124.5 435.7,124.9C437.8,125.3 436.7,125.0 438.4,125.7C440.1,126.4 439.4,126.1 440.8,127.1C442.2,128.1 441.5,127.1 442.7,128.7C443.9,130.2 443.6,129.5 444.4,131.6C445.2,133.8 445.3,132.7 445.0,135.0C444.7,137.3 445.0,136.6 443.5,138.4C441.9,140.2 442.9,139.3 440.2,140.3C437.5,141.4 438.8,141.3 435.2,141.6C431.7,141.9 433.0,141.9 429.6,141.3C426.2,140.7 428.1,141.3 425.0,139.7C421.8,138.2 421.3,140.5 420.1,136.5C418.9,132.5 419.4,131.4 421.3,127.8Z" fill="#686868"/><path d="M423.7,129.1C425.6,126.2 425.3,128.2 427.4,127.4C429.4,126.7 428.1,127.1 429.8,126.8C431.4,126.5 430.6,126.6 432.5,126.6C434.3,126.6 433.6,126.6 435.3,126.8C437.0,127.1 436.1,126.9 437.5,127.3C439.0,127.8 438.3,127.6 439.7,128.3C441.0,129.0 440.2,128.3 441.5,129.5C442.8,130.7 442.6,130.0 443.6,131.9C444.6,133.7 444.7,132.9 444.5,135.0C444.3,137.1 444.5,136.5 443.0,138.3C441.5,140.0 442.6,139.1 440.0,140.2C437.4,141.2 438.6,141.1 435.2,141.4C431.8,141.7 433.0,141.7 429.7,141.1C426.5,140.4 428.1,141.1 425.4,139.5C422.7,137.9 422.2,139.8 421.6,136.4C421.0,132.9 421.7,132.1 423.7,129.1Z" fill="#3c3c3c"/><ellipse cx="433.5" cy="135.0" rx="10.5" ry="6.2" fill="#1c1c1c"/><ellipse cx="433.1" cy="135.0" rx="8.5" ry="6.2" fill="#1e1e1e" stroke="#c4c4c4" stroke-width="1.0"/><ellipse cx="433.1" cy="135.0" rx="5.8" ry="4.2" fill="#282828" stroke="#b4b4b4" stroke-width="1.0"/><ellipse cx="433.1" cy="135.0" rx="3.2" ry="2.4" fill="#1e1e1e" stroke="#9c9c9c" stroke-width="0.9"/><ellipse cx="433.1" cy="135.0" rx="1.1" ry="0.8" fill="#000"/></g><path d="M415.0,124.0C416.9,118.5 418.0,122.0 421.7,120.4C425.4,118.8 422.9,119.7 426.2,119.1C429.5,118.5 427.9,118.4 431.5,118.6C435.1,118.8 433.8,118.7 436.9,119.6C440.0,120.5 438.5,119.8 440.8,121.2C443.1,122.6 442.1,122.0 443.8,123.8C445.5,125.6 444.9,124.1 445.8,126.5C446.7,128.9 446.3,128.2 446.5,131.0C446.7,133.8 446.9,132.4 446.3,135.0C445.7,137.6 446.4,136.9 444.6,138.8C442.8,140.7 443.9,139.7 440.8,140.8C437.7,141.9 439.3,141.8 435.4,142.2C431.5,142.6 433.1,142.5 429.2,141.9C425.3,141.3 428.2,142.0 423.8,140.4C419.4,138.8 418.9,142.5 416.0,137.0C413.1,131.5 413.1,129.5 415.0,124.0Z" fill="none" stroke="#000" stroke-width="2" stroke-linejoin="round"/>
<ellipse cx="475.5" cy="135.2" rx="4" ry="3.3" fill="#d0d0d0" stroke="#000" stroke-width="1.9"/><circle cx="474.7" cy="129.3" r="2.7" fill="#000"/>
</g>
<path d="M446.30,145.20 V115.20 H512.50" fill="none" stroke="#111" stroke-width="1.4"/>
<text x="510.90" y="143.70" font-size="12.4" font-weight="bold" text-anchor="end">3.76</text>
<g clip-path="url(#cp10)">
<clipPath id="b6"><path d="M50.0,210.5C52.5,205.3 54.9,210.8 59.5,211.5C64.1,212.2 60.3,211.9 63.7,212.7C67.1,213.5 66.0,212.8 69.8,213.8C73.6,214.8 71.6,214.0 75.2,215.8C78.8,217.6 77.5,216.8 80.6,219.2C83.7,221.6 82.8,221.4 84.5,223.1C86.2,224.8 86.3,222.8 85.8,224.2C85.3,225.6 85.1,225.5 82.9,227.3C80.7,229.1 82.4,228.3 79.1,229.6C75.8,230.9 77.0,230.7 72.9,231.2C68.8,231.7 70.6,231.7 66.8,231.2C63.0,230.7 66.3,231.0 61.4,229.6C56.5,228.2 55.8,233.4 52.0,227.0C48.2,220.6 47.5,215.7 50.0,210.5Z"/></clipPath><g clip-path="url(#b6)"><path d="M50.0,210.5C52.5,205.3 54.9,210.8 59.5,211.5C64.1,212.2 60.3,211.9 63.7,212.7C67.1,213.5 66.0,212.8 69.8,213.8C73.6,214.8 71.6,214.0 75.2,215.8C78.8,217.6 77.5,216.8 80.6,219.2C83.7,221.6 82.8,221.4 84.5,223.1C86.2,224.8 86.3,222.8 85.8,224.2C85.3,225.6 85.1,225.5 82.9,227.3C80.7,229.1 82.4,228.3 79.1,229.6C75.8,230.9 77.0,230.7 72.9,231.2C68.8,231.7 70.6,231.7 66.8,231.2C63.0,230.7 66.3,231.0 61.4,229.6C56.5,228.2 55.8,233.4 52.0,227.0C48.2,220.6 47.5,215.7 50.0,210.5Z" fill="#eeeeee"/><path d="M52.4,212.4C54.9,207.8 56.6,212.5 60.5,213.1C64.4,213.6 61.1,213.4 64.2,214.0C67.2,214.6 66.1,214.0 69.6,214.9C73.1,215.7 71.2,215.0 74.6,216.6C78.0,218.1 76.8,217.3 79.8,219.5C82.8,221.8 81.9,221.6 83.5,223.2C85.1,224.8 85.1,222.9 84.6,224.2C84.2,225.6 84.2,225.5 82.2,227.2C80.2,228.9 81.8,228.1 78.6,229.4C75.5,230.7 76.7,230.4 72.7,231.0C68.8,231.5 70.6,231.5 66.8,231.0C63.1,230.6 66.1,231.0 61.4,229.6C56.8,228.2 55.9,232.6 52.9,226.9C49.9,221.1 49.8,217.0 52.4,212.4Z" fill="#c6c6c6"/><path d="M54.5,214.1C57.1,210.0 58.1,214.1 61.4,214.5C64.8,214.9 61.9,214.8 64.6,215.2C67.3,215.6 66.3,215.2 69.5,215.9C72.6,216.5 70.8,215.9 74.1,217.2C77.3,218.6 76.2,217.8 79.1,219.9C82.0,221.9 81.2,221.8 82.7,223.3C84.2,224.8 84.0,223.0 83.6,224.3C83.2,225.5 83.3,225.4 81.5,227.1C79.7,228.7 81.2,228.0 78.2,229.2C75.2,230.5 76.4,230.2 72.6,230.8C68.8,231.3 70.6,231.3 66.9,230.9C63.1,230.5 65.8,230.9 61.4,229.6C57.1,228.2 56.0,231.9 53.7,226.8C51.4,221.6 52.0,218.2 54.5,214.1Z" fill="#989898"/><path d="M56.8,215.9C59.4,212.4 59.6,215.8 62.4,216.0C65.1,216.2 62.7,216.2 65.0,216.4C67.3,216.7 66.5,216.4 69.3,216.9C72.1,217.4 70.5,216.8 73.5,217.9C76.5,219.0 75.6,218.4 78.4,220.2C81.1,222.0 80.4,222.0 81.8,223.4C83.1,224.8 82.8,223.1 82.5,224.3C82.2,225.5 82.4,225.4 80.8,227.0C79.3,228.5 80.6,227.8 77.8,229.0C75.0,230.2 76.0,230.0 72.4,230.6C68.8,231.1 70.5,231.1 66.9,230.7C63.2,230.4 65.6,230.9 61.5,229.6C57.4,228.2 56.1,231.2 54.6,226.6C53.0,222.1 54.2,219.4 56.8,215.9Z" fill="#686868"/><path d="M59.3,217.9C62.0,214.9 61.4,217.7 63.5,217.7C65.5,217.7 63.6,217.7 65.5,217.8C67.4,217.9 66.7,217.7 69.1,218.0C71.6,218.3 70.0,217.9 72.9,218.7C75.7,219.6 74.9,219.0 77.5,220.6C80.2,222.1 79.5,222.2 80.8,223.5C82.0,224.8 81.5,223.2 81.3,224.4C81.0,225.5 81.4,225.3 80.1,226.8C78.8,228.3 79.9,227.7 77.3,228.8C74.7,230.0 75.7,229.7 72.2,230.3C68.8,230.9 70.5,230.8 66.9,230.6C63.3,230.3 65.3,230.9 61.5,229.5C57.7,228.2 56.2,230.4 55.5,226.5C54.8,222.6 56.6,220.8 59.3,217.9Z" fill="#3c3c3c"/><ellipse cx="68.0" cy="224.8" rx="12.0" ry="5.6" fill="#1c1c1c"/><ellipse cx="67.5" cy="224.6" rx="9.8" ry="5.6" fill="#1e1e1e" stroke="#c4c4c4" stroke-width="1.0"/><ellipse cx="67.5" cy="224.6" rx="6.7" ry="3.8" fill="#282828" stroke="#b4b4b4" stroke-width="1.0"/><ellipse cx="67.5" cy="224.6" rx="3.7" ry="2.1" fill="#1e1e1e" stroke="#9c9c9c" stroke-width="0.9"/><ellipse cx="67.5" cy="224.6" rx="1.3" ry="0.7" fill="#000"/></g><path d="M50.0,210.5C52.5,205.3 54.9,210.8 59.5,211.5C64.1,212.2 60.3,211.9 63.7,212.7C67.1,213.5 66.0,212.8 69.8,213.8C73.6,214.8 71.6,214.0 75.2,215.8C78.8,217.6 77.5,216.8 80.6,219.2C83.7,221.6 82.8,221.4 84.5,223.1C86.2,224.8 86.3,222.8 85.8,224.2C85.3,225.6 85.1,225.5 82.9,227.3C80.7,229.1 82.4,228.3 79.1,229.6C75.8,230.9 77.0,230.7 72.9,231.2C68.8,231.7 70.6,231.7 66.8,231.2C63.0,230.7 66.3,231.0 61.4,229.6C56.5,228.2 55.8,233.4 52.0,227.0C48.2,220.6 47.5,215.7 50.0,210.5Z" fill="none" stroke="#000" stroke-width="2" stroke-linejoin="round"/>
</g>
<path d="M86.40,235.90 V208.10 H150.50" fill="none" stroke="#111" stroke-width="1.4"/>
<text x="148.90" y="234.40" font-size="12.4" font-weight="bold" text-anchor="end">0.66</text>
<g clip-path="url(#cp11)">
<clipPath id="b7"><path d="M144.0,213.0C145.9,208.3 147.1,211.6 150.7,211.5C154.3,211.4 152.0,212.7 154.9,212.7C157.8,212.7 156.2,211.3 159.5,211.4C162.8,211.5 161.3,211.9 164.9,213.1C168.5,214.3 167.0,213.6 170.3,215.0C173.6,216.4 172.1,215.8 174.9,217.3C177.7,218.8 176.6,217.9 178.8,219.6C181.0,221.3 180.3,220.6 181.5,222.3C182.7,224.0 182.6,222.9 182.3,224.6C182.0,226.3 182.4,225.6 180.7,227.3C179.0,229.0 180.2,228.3 177.2,229.6C174.2,230.9 175.9,230.4 171.8,231.2C167.7,232.0 169.5,232.0 164.9,231.9C160.3,231.8 162.1,231.8 158.0,230.8C153.9,229.8 156.9,230.6 152.6,228.8C148.3,227.0 147.9,230.8 145.0,225.5C142.1,220.2 142.1,217.7 144.0,213.0Z"/></clipPath><g clip-path="url(#b7)"><path d="M144.0,213.0C145.9,208.3 147.1,211.6 150.7,211.5C154.3,211.4 152.0,212.7 154.9,212.7C157.8,212.7 156.2,211.3 159.5,211.4C162.8,211.5 161.3,211.9 164.9,213.1C168.5,214.3 167.0,213.6 170.3,215.0C173.6,216.4 172.1,215.8 174.9,217.3C177.7,218.8 176.6,217.9 178.8,219.6C181.0,221.3 180.3,220.6 181.5,222.3C182.7,224.0 182.6,222.9 182.3,224.6C182.0,226.3 182.4,225.6 180.7,227.3C179.0,229.0 180.2,228.3 177.2,229.6C174.2,230.9 175.9,230.4 171.8,231.2C167.7,232.0 169.5,232.0 164.9,231.9C160.3,231.8 162.1,231.8 158.0,230.8C153.9,229.8 156.9,230.6 152.6,228.8C148.3,227.0 147.9,230.8 145.0,225.5C142.1,220.2 142.1,217.7 144.0,213.0Z" fill="#eeeeee"/><path d="M146.6,214.6C148.6,210.5 149.3,213.4 152.5,213.3C155.6,213.1 153.5,214.3 156.0,214.2C158.6,214.1 157.2,213.0 160.1,213.1C163.1,213.2 161.6,213.5 164.9,214.5C168.1,215.4 166.7,214.8 169.7,216.0C172.8,217.2 171.4,216.6 174.1,218.0C176.7,219.3 175.7,218.5 177.8,220.0C179.9,221.5 179.3,221.0 180.4,222.5C181.6,224.1 181.4,223.1 181.2,224.7C181.1,226.2 181.4,225.6 179.9,227.2C178.4,228.8 179.5,228.2 176.7,229.4C173.9,230.7 175.5,230.3 171.6,231.0C167.7,231.8 169.4,231.8 164.9,231.7C160.4,231.6 162.1,231.7 158.1,230.7C154.1,229.7 156.8,230.5 152.9,228.7C149.0,227.0 148.5,230.2 146.4,225.5C144.3,220.8 144.6,218.7 146.6,214.6Z" fill="#c6c6c6"/><path d="M149.0,216.0C151.1,212.5 151.3,215.0 154.0,214.9C156.7,214.7 154.8,215.6 157.0,215.5C159.2,215.5 158.1,214.6 160.7,214.7C163.2,214.7 162.0,214.9 164.8,215.7C167.7,216.4 166.4,216.0 169.2,216.9C172.1,217.9 170.8,217.4 173.3,218.6C175.8,219.7 174.8,219.0 176.9,220.4C178.9,221.8 178.3,221.3 179.4,222.7C180.6,224.1 180.3,223.2 180.3,224.7C180.2,226.2 180.5,225.6 179.2,227.1C177.8,228.7 178.8,228.0 176.2,229.3C173.6,230.5 175.2,230.1 171.4,230.9C167.6,231.6 169.3,231.7 164.9,231.6C160.5,231.5 162.1,231.6 158.2,230.7C154.3,229.7 156.6,230.4 153.1,228.7C149.6,226.9 149.0,229.7 147.7,225.5C146.3,221.3 146.9,219.6 149.0,216.0Z" fill="#989898"/><path d="M151.5,217.6C153.7,214.6 153.5,216.8 155.7,216.6C157.9,216.4 156.3,217.1 158.1,217.0C160.0,216.9 159.0,216.3 161.2,216.3C163.5,216.3 162.3,216.4 164.8,217.0C167.3,217.5 166.1,217.1 168.7,217.9C171.3,218.6 170.1,218.2 172.5,219.2C174.9,220.2 173.9,219.6 175.9,220.8C177.9,222.0 177.3,221.6 178.4,222.9C179.5,224.2 179.2,223.4 179.2,224.8C179.2,226.1 179.5,225.6 178.4,227.0C177.2,228.5 178.1,227.9 175.7,229.1C173.3,230.4 174.8,229.9 171.2,230.7C167.6,231.5 169.2,231.5 164.9,231.4C160.6,231.4 162.1,231.5 158.3,230.6C154.4,229.6 156.4,230.3 153.3,228.6C150.2,226.9 149.6,229.2 149.0,225.5C148.4,221.8 149.2,220.5 151.5,217.6Z" fill="#686868"/><path d="M154.2,219.2C156.6,216.9 155.8,218.7 157.5,218.4C159.2,218.2 157.8,218.7 159.3,218.5C160.7,218.4 160.1,218.1 161.9,218.1C163.7,218.0 162.6,218.1 164.7,218.4C166.8,218.7 165.8,218.5 168.1,218.9C170.4,219.4 169.4,219.1 171.6,219.9C173.8,220.7 172.9,220.2 174.8,221.2C176.7,222.3 176.1,221.9 177.2,223.1C178.3,224.3 178.0,223.5 178.1,224.8C178.2,226.1 178.5,225.6 177.5,226.9C176.6,228.3 177.4,227.8 175.2,229.0C173.0,230.2 174.4,229.8 171.0,230.5C167.5,231.3 169.1,231.3 164.9,231.3C160.7,231.3 162.1,231.4 158.4,230.5C154.6,229.6 156.2,230.2 153.6,228.5C151.0,226.9 150.3,228.6 150.5,225.5C150.7,222.4 151.9,221.6 154.2,219.2Z" fill="#3c3c3c"/><ellipse cx="164.5" cy="225.5" rx="12.5" ry="5.6" fill="#1c1c1c"/><ellipse cx="163.8" cy="225.6" rx="10.4" ry="5.8" fill="#1e1e1e" stroke="#c4c4c4" stroke-width="1.0"/><ellipse cx="163.8" cy="225.6" rx="7.1" ry="3.9" fill="#282828" stroke="#b4b4b4" stroke-width="1.0"/><ellipse cx="163.8" cy="225.6" rx="4.0" ry="2.2" fill="#1e1e1e" stroke="#9c9c9c" stroke-width="0.9"/><ellipse cx="163.8" cy="225.6" rx="1.4" ry="0.8" fill="#000"/><ellipse cx="178.0" cy="224.8" rx="4.0" ry="3.6" fill="url(#lg)"/></g><path d="M144.0,213.0C145.9,208.3 147.1,211.6 150.7,211.5C154.3,211.4 152.0,212.7 154.9,212.7C157.8,212.7 156.2,211.3 159.5,211.4C162.8,211.5 161.3,211.9 164.9,213.1C168.5,214.3 167.0,213.6 170.3,215.0C173.6,216.4 172.1,215.8 174.9,217.3C177.7,218.8 176.6,217.9 178.8,219.6C181.0,221.3 180.3,220.6 181.5,222.3C182.7,224.0 182.6,222.9 182.3,224.6C182.0,226.3 182.4,225.6 180.7,227.3C179.0,229.0 180.2,228.3 177.2,229.6C174.2,230.9 175.9,230.4 171.8,231.2C167.7,232.0 169.5,232.0 164.9,231.9C160.3,231.8 162.1,231.8 158.0,230.8C153.9,229.8 156.9,230.6 152.6,228.8C148.3,227.0 147.9,230.8 145.0,225.5C142.1,220.2 142.1,217.7 144.0,213.0Z" fill="none" stroke="#000" stroke-width="2" stroke-linejoin="round"/>
</g>
<path d="M176.50,235.90 V208.10 H241.00" fill="none" stroke="#111" stroke-width="1.4"/>
<text x="239.40" y="234.40" font-size="12.4" font-weight="bold" text-anchor="end">2.55</text>
<g clip-path="url(#cp12)">
<clipPath id="b8"><path d="M236.0,219.0C237.3,215.5 238.3,217.1 240.9,215.4C243.5,213.7 241.6,214.9 243.8,213.9C246.0,212.9 244.4,213.0 247.6,212.5C250.8,212.0 249.2,212.2 253.4,212.5C257.6,212.8 255.6,213.0 260.1,213.5C264.6,214.0 262.9,213.3 266.8,213.9C270.7,214.5 268.6,213.9 271.7,215.4C274.8,216.9 273.6,216.2 276.0,218.3C278.4,220.4 277.4,219.5 278.9,221.6C280.4,223.7 280.6,222.6 280.4,224.5C280.2,226.4 280.4,225.6 278.4,227.4C276.4,229.2 278.4,228.4 274.5,229.8C270.6,231.2 272.6,230.9 266.8,231.7C261.0,232.5 263.6,232.3 257.2,232.2C250.8,232.1 252.4,232.3 247.6,231.3C242.8,230.3 246.3,231.1 242.8,229.3C239.3,227.5 239.3,229.4 237.0,226.0C234.7,222.6 234.7,222.5 236.0,219.0Z"/></clipPath><g clip-path="url(#b8)"><path d="M236.0,219.0C237.3,215.5 238.3,217.1 240.9,215.4C243.5,213.7 241.6,214.9 243.8,213.9C246.0,212.9 244.4,213.0 247.6,212.5C250.8,212.0 249.2,212.2 253.4,212.5C257.6,212.8 255.6,213.0 260.1,213.5C264.6,214.0 262.9,213.3 266.8,213.9C270.7,214.5 268.6,213.9 271.7,215.4C274.8,216.9 273.6,216.2 276.0,218.3C278.4,220.4 277.4,219.5 278.9,221.6C280.4,223.7 280.6,222.6 280.4,224.5C280.2,226.4 280.4,225.6 278.4,227.4C276.4,229.2 278.4,228.4 274.5,229.8C270.6,231.2 272.6,230.9 266.8,231.7C261.0,232.5 263.6,232.3 257.2,232.2C250.8,232.1 252.4,232.3 247.6,231.3C242.8,230.3 246.3,231.1 242.8,229.3C239.3,227.5 239.3,229.4 237.0,226.0C234.7,222.6 234.7,222.5 236.0,219.0Z" fill="#eeeeee"/><path d="M237.7,219.5C239.3,216.3 240.0,217.8 242.5,216.4C245.0,214.9 243.1,215.9 245.2,215.1C247.2,214.3 245.8,214.3 248.6,213.9C251.5,213.5 250.1,213.6 253.8,213.9C257.5,214.1 255.8,214.3 259.8,214.7C263.8,215.1 262.3,214.5 265.8,215.1C269.3,215.6 267.4,215.1 270.3,216.3C273.2,217.6 272.1,217.0 274.5,218.8C276.9,220.7 276.0,219.9 277.5,221.8C279.0,223.7 279.1,222.7 279.0,224.5C278.9,226.4 279.1,225.6 277.3,227.3C275.5,229.0 277.3,228.2 273.6,229.6C270.0,231.0 271.9,230.6 266.4,231.4C260.9,232.2 263.4,232.1 257.2,232.0C251.0,231.9 252.6,232.0 247.9,231.1C243.2,230.2 246.5,230.9 243.1,229.2C239.7,227.5 239.5,229.2 237.7,226.0C235.9,222.7 236.1,222.7 237.7,219.5Z" fill="#c6c6c6"/><path d="M239.2,219.9C241.0,217.0 241.5,218.5 243.9,217.2C246.3,216.0 244.5,216.8 246.4,216.2C248.3,215.5 247.0,215.5 249.6,215.2C252.2,214.9 250.8,214.9 254.1,215.1C257.4,215.3 255.9,215.4 259.5,215.8C263.1,216.1 261.7,215.6 264.9,216.1C268.1,216.6 266.3,216.1 269.0,217.2C271.8,218.3 270.7,217.7 273.1,219.3C275.5,221.0 274.7,220.3 276.3,222.0C277.8,223.8 277.7,222.9 277.8,224.6C277.8,226.3 277.9,225.6 276.3,227.2C274.7,228.8 276.3,228.0 272.9,229.4C269.4,230.7 271.2,230.4 266.0,231.2C260.8,232.0 263.1,231.8 257.2,231.7C251.2,231.7 252.8,231.8 248.2,230.9C243.6,230.1 246.6,230.8 243.4,229.1C240.1,227.5 239.8,229.0 238.4,225.9C237.0,222.9 237.3,222.8 239.2,219.9Z" fill="#989898"/><path d="M240.8,220.4C242.9,217.8 243.0,219.2 245.4,218.1C247.7,217.1 246.0,217.8 247.8,217.3C249.5,216.8 248.3,216.8 250.6,216.5C252.8,216.3 251.6,216.3 254.5,216.4C257.4,216.6 256.1,216.6 259.2,216.9C262.4,217.1 261.1,216.8 264.0,217.2C266.8,217.6 265.1,217.2 267.7,218.1C270.3,219.0 269.3,218.5 271.7,219.9C274.1,221.3 273.4,220.7 274.9,222.3C276.5,223.8 276.3,223.0 276.4,224.6C276.5,226.2 276.7,225.6 275.2,227.1C273.8,228.6 275.3,227.9 272.1,229.2C268.9,230.4 270.6,230.1 265.6,230.9C260.7,231.7 262.9,231.6 257.2,231.5C251.5,231.5 253.0,231.5 248.5,230.7C244.0,229.9 246.8,230.7 243.6,229.1C240.5,227.5 240.0,228.8 239.1,225.9C238.1,223.0 238.7,223.0 240.8,220.4Z" fill="#686868"/><path d="M242.5,220.9C244.9,218.7 244.8,219.9 247.0,219.1C249.2,218.3 247.7,218.9 249.2,218.5C250.8,218.2 249.8,218.2 251.7,218.0C253.6,217.8 252.5,217.9 254.9,217.9C257.3,217.9 256.2,218.0 258.9,218.1C261.5,218.3 260.5,218.1 262.9,218.4C265.4,218.7 263.8,218.4 266.2,219.0C268.6,219.7 267.7,219.3 270.1,220.4C272.5,221.6 271.9,221.1 273.5,222.5C275.1,223.9 274.8,223.2 275.0,224.7C275.2,226.1 275.3,225.5 274.1,227.0C272.8,228.4 274.1,227.7 271.2,228.9C268.2,230.1 269.8,229.8 265.2,230.6C260.5,231.4 262.6,231.3 257.2,231.3C251.7,231.2 253.2,231.3 248.8,230.5C244.4,229.8 246.9,230.5 243.9,229.0C240.9,227.4 240.3,228.6 239.8,225.9C239.3,223.2 240.1,223.2 242.5,220.9Z" fill="#3c3c3c"/><ellipse cx="257.0" cy="225.2" rx="16.5" ry="5.8" fill="#1c1c1c"/><ellipse cx="255.8" cy="225.2" rx="14.4" ry="5.8" fill="#1e1e1e" stroke="#c4c4c4" stroke-width="1.0"/><ellipse cx="255.8" cy="225.2" rx="9.8" ry="3.9" fill="#282828" stroke="#b4b4b4" stroke-width="1.0"/><ellipse cx="255.8" cy="225.2" rx="5.5" ry="2.2" fill="#1e1e1e" stroke="#9c9c9c" stroke-width="0.9"/><ellipse cx="255.8" cy="225.2" rx="1.9" ry="0.8" fill="#000"/></g><path d="M236.0,219.0C237.3,215.5 238.3,217.1 240.9,215.4C243.5,213.7 241.6,214.9 243.8,213.9C246.0,212.9 244.4,213.0 247.6,212.5C250.8,212.0 249.2,212.2 253.4,212.5C257.6,212.8 255.6,213.0 260.1,213.5C264.6,214.0 262.9,213.3 266.8,213.9C270.7,214.5 268.6,213.9 271.7,215.4C274.8,216.9 273.6,216.2 276.0,218.3C278.4,220.4 277.4,219.5 278.9,221.6C280.4,223.7 280.6,222.6 280.4,224.5C280.2,226.4 280.4,225.6 278.4,227.4C276.4,229.2 278.4,228.4 274.5,229.8C270.6,231.2 272.6,230.9 266.8,231.7C261.0,232.5 263.6,232.3 257.2,232.2C250.8,232.1 252.4,232.3 247.6,231.3C242.8,230.3 246.3,231.1 242.8,229.3C239.3,227.5 239.3,229.4 237.0,226.0C234.7,222.6 234.7,222.5 236.0,219.0Z" fill="none" stroke="#000" stroke-width="2" stroke-linejoin="round"/>
</g>
<path d="M267.30,235.90 V208.40 H331.50" fill="none" stroke="#111" stroke-width="1.4"/>
<text x="329.90" y="234.40" font-size="12.4" font-weight="bold" text-anchor="end">13.8</text>
<g clip-path="url(#cp13)">
<clipPath id="b9"><path d="M332.0,219.2C333.3,216.5 332.9,217.7 335.7,215.9C338.5,214.1 337.6,215.0 340.5,213.9C343.4,212.8 341.1,212.8 344.3,212.7C347.5,212.6 345.9,213.1 350.1,213.5C354.3,213.9 352.6,213.4 356.8,213.9C361.0,214.4 359.1,214.1 362.6,214.9C366.1,215.7 364.5,214.9 367.4,216.3C370.3,217.7 369.3,217.1 371.3,219.2C373.3,221.3 373.3,220.3 373.5,222.6C373.7,224.9 374.1,223.9 371.8,226.0C369.5,228.1 370.8,227.2 366.5,228.8C362.2,230.4 364.6,229.8 358.8,230.8C353.0,231.8 355.6,231.9 349.2,231.7C342.8,231.5 344.6,231.7 339.5,230.3C334.4,228.9 336.4,229.5 333.8,227.4C331.2,225.3 332.4,226.7 331.8,224.0C331.2,221.3 330.7,221.9 332.0,219.2Z"/></clipPath><g clip-path="url(#b9)"><path d="M332.0,219.2C333.3,216.5 332.9,217.7 335.7,215.9C338.5,214.1 337.6,215.0 340.5,213.9C343.4,212.8 341.1,212.8 344.3,212.7C347.5,212.6 345.9,213.1 350.1,213.5C354.3,213.9 352.6,213.4 356.8,213.9C361.0,214.4 359.1,214.1 362.6,214.9C366.1,215.7 364.5,214.9 367.4,216.3C370.3,217.7 369.3,217.1 371.3,219.2C373.3,221.3 373.3,220.3 373.5,222.6C373.7,224.9 374.1,223.9 371.8,226.0C369.5,228.1 370.8,227.2 366.5,228.8C362.2,230.4 364.6,229.8 358.8,230.8C353.0,231.8 355.6,231.9 349.2,231.7C342.8,231.5 344.6,231.7 339.5,230.3C334.4,228.9 336.4,229.5 333.8,227.4C331.2,225.3 332.4,226.7 331.8,224.0C331.2,221.3 330.7,221.9 332.0,219.2Z" fill="#eeeeee"/><path d="M333.1,219.5C334.8,217.1 334.2,218.2 337.0,216.6C339.8,215.1 338.9,215.8 341.5,214.9C344.2,214.0 342.1,214.1 345.0,213.9C347.9,213.8 346.4,214.2 350.2,214.6C353.9,214.9 352.5,214.5 356.2,214.9C360.0,215.3 358.3,215.1 361.6,215.8C364.8,216.5 363.2,215.7 366.0,217.0C368.8,218.2 367.8,217.6 370.0,219.5C372.1,221.4 372.0,220.6 372.4,222.7C372.8,224.8 373.2,224.0 371.0,225.9C368.9,227.9 370.2,227.1 366.0,228.7C361.8,230.2 364.1,229.7 358.5,230.6C352.9,231.5 355.5,231.5 349.3,231.4C343.1,231.2 345.0,231.4 339.9,230.1C334.9,228.7 336.8,229.4 334.2,227.3C331.6,225.3 332.5,226.6 332.1,224.0C331.8,221.4 331.5,222.0 333.1,219.5Z" fill="#c6c6c6"/><path d="M334.2,219.8C336.1,217.6 335.4,218.6 338.2,217.3C341.0,216.0 340.0,216.6 342.5,215.9C344.9,215.1 343.0,215.2 345.6,215.1C348.2,214.9 346.9,215.3 350.3,215.5C353.6,215.8 352.3,215.5 355.8,215.8C359.2,216.1 357.6,215.9 360.6,216.5C363.6,217.1 362.1,216.5 364.8,217.6C367.5,218.7 366.6,218.1 368.8,219.8C371.0,221.6 370.9,220.8 371.4,222.8C371.9,224.8 372.3,224.0 370.4,225.9C368.4,227.8 369.6,227.1 365.6,228.5C361.5,230.0 363.7,229.5 358.3,230.4C352.8,231.2 355.3,231.2 349.4,231.0C343.4,230.9 345.3,231.1 340.4,229.9C335.4,228.6 337.1,229.2 334.5,227.3C331.9,225.3 332.6,226.5 332.5,224.0C332.3,221.5 332.3,222.0 334.2,219.8Z" fill="#989898"/><path d="M335.2,220.1C337.5,218.1 336.7,219.1 339.4,218.0C342.2,216.9 341.2,217.4 343.4,216.8C345.7,216.3 344.0,216.3 346.3,216.2C348.6,216.1 347.4,216.4 350.3,216.5C353.3,216.7 352.1,216.5 355.2,216.7C358.3,217.0 356.9,216.8 359.6,217.3C362.4,217.8 360.8,217.3 363.5,218.2C366.1,219.2 365.2,218.6 367.5,220.2C369.8,221.7 369.6,221.0 370.4,222.9C371.1,224.7 371.4,224.0 369.6,225.8C367.9,227.7 369.0,227.0 365.1,228.4C361.2,229.8 363.2,229.4 358.0,230.1C352.7,230.9 355.2,230.9 349.4,230.7C343.7,230.6 345.6,230.8 340.8,229.6C335.9,228.5 337.5,229.1 334.8,227.2C332.2,225.3 332.7,226.4 332.8,224.0C332.9,221.6 333.0,222.1 335.2,220.1Z" fill="#686868"/><path d="M336.4,220.4C339.0,218.7 338.1,219.6 340.8,218.7C343.5,217.9 342.4,218.3 344.5,217.9C346.6,217.5 345.1,217.6 347.1,217.5C349.0,217.4 347.9,217.5 350.4,217.6C353.0,217.7 352.0,217.6 354.7,217.8C357.3,218.0 356.1,217.9 358.5,218.2C361.0,218.6 359.5,218.2 362.0,219.0C364.6,219.7 363.7,219.2 366.1,220.5C368.5,221.9 368.3,221.2 369.2,222.9C370.1,224.7 370.4,224.0 368.8,225.8C367.3,227.5 368.3,226.9 364.6,228.3C360.9,229.6 362.7,229.2 357.7,229.9C352.6,230.6 355.0,230.5 349.5,230.4C344.1,230.2 346.0,230.5 341.2,229.4C336.5,228.3 337.9,228.9 335.2,227.2C332.5,225.4 332.7,226.3 333.2,224.0C333.6,221.8 333.9,222.2 336.4,220.4Z" fill="#3c3c3c"/><ellipse cx="351.0" cy="224.4" rx="17.5" ry="5.6" fill="#1c1c1c"/><ellipse cx="348.0" cy="224.5" rx="14.5" ry="5.6" fill="#1e1e1e" stroke="#c4c4c4" stroke-width="1.0"/><ellipse cx="348.0" cy="224.5" rx="9.9" ry="3.8" fill="#282828" stroke="#b4b4b4" stroke-width="1.0"/><ellipse cx="348.0" cy="224.5" rx="5.5" ry="2.1" fill="#1e1e1e" stroke="#9c9c9c" stroke-width="0.9"/><ellipse cx="348.0" cy="224.5" rx="1.9" ry="0.7" fill="#000"/></g><path d="M332.0,219.2C333.3,216.5 332.9,217.7 335.7,215.9C338.5,214.1 337.6,215.0 340.5,213.9C343.4,212.8 341.1,212.8 344.3,212.7C347.5,212.6 345.9,213.1 350.1,213.5C354.3,213.9 352.6,213.4 356.8,213.9C361.0,214.4 359.1,214.1 362.6,214.9C366.1,215.7 364.5,214.9 367.4,216.3C370.3,217.7 369.3,217.1 371.3,219.2C373.3,221.3 373.3,220.3 373.5,222.6C373.7,224.9 374.1,223.9 371.8,226.0C369.5,228.1 370.8,227.2 366.5,228.8C362.2,230.4 364.6,229.8 358.8,230.8C353.0,231.8 355.6,231.9 349.2,231.7C342.8,231.5 344.6,231.7 339.5,230.3C334.4,228.9 336.4,229.5 333.8,227.4C331.2,225.3 332.4,226.7 331.8,224.0C331.2,221.3 330.7,221.9 332.0,219.2Z" fill="none" stroke="#000" stroke-width="2" stroke-linejoin="round"/>
</g>
<path d="M358.00,235.90 V208.40 H422.00" fill="none" stroke="#111" stroke-width="1.4"/>
<text x="420.40" y="234.40" font-size="12.4" font-weight="bold" text-anchor="end">18.4</text>
<g clip-path="url(#cp14)">
<clipPath id="b10"><path d="M414.0,210.5C415.3,205.3 417.5,210.9 422.0,211.3C426.5,211.7 423.5,211.4 427.6,211.7C431.7,212.0 429.8,211.6 434.3,212.3C438.8,213.0 436.9,212.7 441.1,213.9C445.3,215.1 443.3,214.6 446.8,215.9C450.3,217.2 448.8,216.4 451.7,217.8C454.6,219.2 453.4,218.4 455.5,220.2C457.6,222.0 457.8,221.2 458.0,223.1C458.2,225.0 458.1,224.2 456.0,226.0C453.9,227.8 455.4,227.0 451.7,228.4C448.0,229.8 450.4,229.4 444.9,230.3C439.4,231.2 441.4,231.4 435.3,231.2C429.2,231.0 432.5,231.2 426.7,229.8C420.9,228.4 422.2,233.4 418.0,227.0C413.8,220.6 412.7,215.7 414.0,210.5Z"/></clipPath><g clip-path="url(#b10)"><path d="M414.0,210.5C415.3,205.3 417.5,210.9 422.0,211.3C426.5,211.7 423.5,211.4 427.6,211.7C431.7,212.0 429.8,211.6 434.3,212.3C438.8,213.0 436.9,212.7 441.1,213.9C445.3,215.1 443.3,214.6 446.8,215.9C450.3,217.2 448.8,216.4 451.7,217.8C454.6,219.2 453.4,218.4 455.5,220.2C457.6,222.0 457.8,221.2 458.0,223.1C458.2,225.0 458.1,224.2 456.0,226.0C453.9,227.8 455.4,227.0 451.7,228.4C448.0,229.8 450.4,229.4 444.9,230.3C439.4,231.2 441.4,231.4 435.3,231.2C429.2,231.0 432.5,231.2 426.7,229.8C420.9,228.4 422.2,233.4 418.0,227.0C413.8,220.6 412.7,215.7 414.0,210.5Z" fill="#eeeeee"/><path d="M416.7,212.2C418.3,207.5 419.7,212.5 423.6,212.7C427.5,213.0 424.8,212.8 428.4,213.0C432.1,213.2 430.4,212.9 434.4,213.4C438.5,214.0 436.8,213.7 440.6,214.8C444.5,215.8 442.7,215.3 446.0,216.5C449.3,217.6 447.8,216.9 450.5,218.2C453.2,219.6 452.2,218.8 454.1,220.5C456.0,222.1 456.1,221.4 456.3,223.2C456.5,225.0 456.5,224.2 454.6,225.9C452.8,227.5 454.2,226.8 450.8,228.1C447.4,229.5 449.6,229.1 444.5,230.0C439.3,230.9 441.1,231.0 435.3,230.9C429.5,230.7 432.5,230.9 427.0,229.6C421.5,228.2 422.4,232.6 418.9,226.8C415.5,221.0 415.2,216.9 416.7,212.2Z" fill="#c6c6c6"/><path d="M419.2,213.7C420.9,209.5 421.6,213.9 425.0,214.0C428.3,214.2 426.0,214.0 429.2,214.2C432.4,214.3 430.9,214.0 434.5,214.5C438.2,214.9 436.6,214.7 440.2,215.5C443.7,216.4 442.1,216.0 445.2,217.0C448.3,218.0 447.0,217.4 449.5,218.6C452.0,219.8 451.0,219.2 452.8,220.7C454.5,222.2 454.6,221.5 454.8,223.2C454.9,224.9 455.0,224.2 453.4,225.7C451.8,227.3 453.0,226.6 449.9,227.9C446.8,229.2 448.9,228.8 444.1,229.7C439.2,230.6 440.9,230.7 435.3,230.6C429.7,230.5 432.5,230.7 427.3,229.4C422.1,228.1 422.5,231.9 419.8,226.7C417.1,221.4 417.5,217.9 419.2,213.7Z" fill="#989898"/><path d="M421.8,215.3C423.7,211.6 423.7,215.4 426.4,215.4C429.2,215.4 427.3,215.4 430.0,215.4C432.8,215.5 431.4,215.2 434.6,215.6C437.9,215.9 436.5,215.7 439.7,216.3C443.0,217.0 441.5,216.7 444.4,217.6C447.3,218.5 446.1,217.9 448.4,219.0C450.7,220.1 449.8,219.5 451.4,220.9C453.0,222.3 452.9,221.7 453.1,223.3C453.3,224.8 453.4,224.1 452.0,225.6C450.7,227.0 451.8,226.4 449.0,227.6C446.2,228.9 448.2,228.6 443.6,229.4C439.1,230.3 440.7,230.4 435.3,230.3C430.0,230.2 432.5,230.5 427.6,229.2C422.7,227.9 422.6,231.1 420.7,226.5C418.8,221.9 419.9,219.0 421.8,215.3Z" fill="#686868"/><path d="M424.7,217.1C426.8,214.0 426.0,217.0 428.1,216.9C430.1,216.8 428.7,216.8 430.9,216.8C433.1,216.7 432.0,216.6 434.8,216.8C437.5,216.9 436.3,216.7 439.2,217.2C442.2,217.7 440.9,217.4 443.6,218.2C446.2,218.9 445.1,218.5 447.2,219.5C449.3,220.5 448.5,219.9 449.9,221.2C451.3,222.5 451.1,221.9 451.3,223.3C451.6,224.7 451.7,224.1 450.6,225.4C449.5,226.8 450.5,226.1 448.1,227.4C445.6,228.6 447.4,228.3 443.2,229.1C438.9,230.0 440.4,230.0 435.3,230.0C430.2,229.9 432.5,230.2 427.9,229.0C423.3,227.8 422.7,230.3 421.7,226.3C420.6,222.4 422.6,220.3 424.7,217.1Z" fill="#3c3c3c"/><ellipse cx="435.5" cy="223.8" rx="14.0" ry="5.8" fill="#1c1c1c"/><ellipse cx="433.5" cy="223.8" rx="11.5" ry="5.8" fill="#1e1e1e" stroke="#c4c4c4" stroke-width="1.0"/><ellipse cx="433.5" cy="223.8" rx="7.8" ry="3.9" fill="#282828" stroke="#b4b4b4" stroke-width="1.0"/><ellipse cx="433.5" cy="223.8" rx="4.4" ry="2.2" fill="#1e1e1e" stroke="#9c9c9c" stroke-width="0.9"/><ellipse cx="433.5" cy="223.8" rx="1.5" ry="0.8" fill="#000"/><ellipse cx="452.5" cy="223.5" rx="5.0" ry="3.6" fill="url(#lg)"/></g><path d="M414.0,210.5C415.3,205.3 417.5,210.9 422.0,211.3C426.5,211.7 423.5,211.4 427.6,211.7C431.7,212.0 429.8,211.6 434.3,212.3C438.8,213.0 436.9,212.7 441.1,213.9C445.3,215.1 443.3,214.6 446.8,215.9C450.3,217.2 448.8,216.4 451.7,217.8C454.6,219.2 453.4,218.4 455.5,220.2C457.6,222.0 457.8,221.2 458.0,223.1C458.2,225.0 458.1,224.2 456.0,226.0C453.9,227.8 455.4,227.0 451.7,228.4C448.0,229.8 450.4,229.4 444.9,230.3C439.4,231.2 441.4,231.4 435.3,231.2C429.2,231.0 432.5,231.2 426.7,229.8C420.9,228.4 422.2,233.4 418.0,227.0C413.8,220.6 412.7,215.7 414.0,210.5Z" fill="none" stroke="#000" stroke-width="2" stroke-linejoin="round"/>
</g>
<path d="M448.30,235.90 V207.70 H512.50" fill="none" stroke="#111" stroke-width="1.4"/>
<text x="510.90" y="234.40" font-size="12.4" font-weight="bold" text-anchor="end">5.21</text>
<g clip-path="url(#cp20)">
<clipPath id="b11"><path d="M50.0,296.0C53.2,290.7 55.2,298.7 59.5,301.2C63.8,303.7 60.2,302.6 62.9,303.5C65.6,304.4 64.4,303.2 67.5,303.8C70.6,304.4 69.4,304.0 72.2,305.4C75.0,306.8 73.7,306.2 76.0,308.1C78.3,310.0 77.3,309.0 79.1,311.2C80.9,313.4 81.3,312.3 81.5,314.6C81.7,316.9 81.4,316.2 79.8,318.1C78.2,320.0 79.6,319.1 76.8,320.4C74.0,321.7 75.3,321.5 71.4,321.9C67.5,322.3 69.7,322.1 65.2,321.5C60.7,320.9 63.1,321.5 58.0,320.0C52.9,318.5 52.7,325.0 50.0,317.0C47.3,309.0 46.8,301.3 50.0,296.0Z"/></clipPath><g clip-path="url(#b11)"><path d="M50.0,296.0C53.2,290.7 55.2,298.7 59.5,301.2C63.8,303.7 60.2,302.6 62.9,303.5C65.6,304.4 64.4,303.2 67.5,303.8C70.6,304.4 69.4,304.0 72.2,305.4C75.0,306.8 73.7,306.2 76.0,308.1C78.3,310.0 77.3,309.0 79.1,311.2C80.9,313.4 81.3,312.3 81.5,314.6C81.7,316.9 81.4,316.2 79.8,318.1C78.2,320.0 79.6,319.1 76.8,320.4C74.0,321.7 75.3,321.5 71.4,321.9C67.5,322.3 69.7,322.1 65.2,321.5C60.7,320.9 63.1,321.5 58.0,320.0C52.9,318.5 52.7,325.0 50.0,317.0C47.3,309.0 46.8,301.3 50.0,296.0Z" fill="#eeeeee"/><path d="M52.8,299.1C55.8,294.6 57.1,301.3 60.6,303.3C64.2,305.2 61.2,304.4 63.5,305.1C65.8,305.8 64.8,304.8 67.6,305.3C70.3,305.8 69.2,305.4 71.7,306.6C74.3,307.8 73.1,307.2 75.3,308.8C77.5,310.5 76.5,309.6 78.4,311.5C80.2,313.5 80.5,312.5 80.8,314.7C81.2,316.9 80.9,316.2 79.5,318.1C78.0,319.9 79.3,319.1 76.6,320.3C73.9,321.5 75.1,321.4 71.3,321.8C67.5,322.2 69.6,322.1 65.2,321.5C60.9,320.8 62.9,321.4 58.3,319.9C53.7,318.4 53.4,323.9 51.5,316.9C49.7,310.0 49.7,303.7 52.8,299.1Z" fill="#c6c6c6"/><path d="M55.3,302.0C58.2,298.0 58.7,303.6 61.7,305.1C64.6,306.6 62.1,306.0 64.1,306.5C66.1,307.0 65.2,306.3 67.6,306.7C70.0,307.0 69.0,306.7 71.3,307.7C73.7,308.6 72.5,308.1 74.7,309.5C76.8,310.9 75.9,310.1 77.8,311.8C79.6,313.6 79.8,312.7 80.2,314.8C80.7,316.8 80.4,316.2 79.1,318.0C77.9,319.8 79.0,319.0 76.4,320.2C73.7,321.4 75.0,321.3 71.3,321.7C67.5,322.1 69.5,322.1 65.2,321.4C61.0,320.8 62.7,321.3 58.6,319.8C54.5,318.3 54.0,322.8 52.9,316.9C51.8,311.0 52.3,305.9 55.3,302.0Z" fill="#989898"/><path d="M57.9,305.0C60.7,301.7 60.5,306.0 62.8,307.1C65.0,308.1 63.0,307.7 64.7,308.0C66.3,308.3 65.6,307.8 67.7,308.1C69.7,308.3 68.8,308.1 70.9,308.8C73.0,309.5 71.9,309.1 74.0,310.2C76.0,311.3 75.2,310.6 77.1,312.1C78.9,313.7 79.0,312.9 79.6,314.9C80.2,316.8 80.0,316.2 78.8,318.0C77.7,319.7 78.7,318.9 76.2,320.1C73.6,321.3 74.8,321.1 71.2,321.5C67.5,322.0 69.4,322.0 65.3,321.4C61.2,320.8 62.5,321.2 58.9,319.7C55.2,318.2 54.6,321.8 54.3,316.9C54.0,311.9 55.1,308.2 57.9,305.0Z" fill="#686868"/><path d="M60.8,308.3C63.5,305.7 62.5,308.8 64.0,309.2C65.5,309.7 64.1,309.5 65.3,309.7C66.6,309.8 66.0,309.5 67.7,309.7C69.4,309.8 68.6,309.6 70.4,310.1C72.3,310.5 71.3,310.2 73.2,311.0C75.2,311.8 74.5,311.2 76.3,312.5C78.2,313.8 78.2,313.1 78.9,315.0C79.6,316.8 79.4,316.2 78.4,317.9C77.5,319.6 78.4,318.8 75.9,320.0C73.5,321.2 74.7,321.0 71.1,321.4C67.6,321.9 69.2,322.0 65.3,321.4C61.3,320.7 62.4,321.1 59.2,319.6C56.1,318.0 55.3,320.6 55.9,316.8C56.4,313.0 58.1,310.8 60.8,308.3Z" fill="#3c3c3c"/><ellipse cx="68.0" cy="316.4" rx="10.5" ry="5.1" fill="#1c1c1c"/><ellipse cx="67.5" cy="316.4" rx="9.0" ry="5.1" fill="#1e1e1e" stroke="#c4c4c4" stroke-width="1.0"/><ellipse cx="67.5" cy="316.4" rx="6.1" ry="3.5" fill="#282828" stroke="#b4b4b4" stroke-width="1.0"/><ellipse cx="67.5" cy="316.4" rx="3.4" ry="1.9" fill="#1e1e1e" stroke="#9c9c9c" stroke-width="0.9"/><ellipse cx="67.5" cy="316.4" rx="1.2" ry="0.7" fill="#000"/></g><path d="M50.0,296.0C53.2,290.7 55.2,298.7 59.5,301.2C63.8,303.7 60.2,302.6 62.9,303.5C65.6,304.4 64.4,303.2 67.5,303.8C70.6,304.4 69.4,304.0 72.2,305.4C75.0,306.8 73.7,306.2 76.0,308.1C78.3,310.0 77.3,309.0 79.1,311.2C80.9,313.4 81.3,312.3 81.5,314.6C81.7,316.9 81.4,316.2 79.8,318.1C78.2,320.0 79.6,319.1 76.8,320.4C74.0,321.7 75.3,321.5 71.4,321.9C67.5,322.3 69.7,322.1 65.2,321.5C60.7,320.9 63.1,321.5 58.0,320.0C52.9,318.5 52.7,325.0 50.0,317.0C47.3,309.0 46.8,301.3 50.0,296.0Z" fill="none" stroke="#000" stroke-width="2" stroke-linejoin="round"/>
</g>
<path d="M87.50,326.60 V300.40 H150.50" fill="none" stroke="#111" stroke-width="1.4"/>
<text x="148.90" y="325.10" font-size="12.4" font-weight="bold" text-anchor="end">0.72</text>
<g clip-path="url(#cp21)">
<clipPath id="b12"><path d="M142.0,297.0C143.6,290.5 146.1,298.2 150.7,299.6C155.3,301.0 152.1,300.5 155.7,301.1C159.3,301.7 157.7,300.7 161.5,301.5C165.3,302.3 164.0,302.2 167.2,303.5C170.4,304.8 168.8,303.6 171.1,305.4C173.4,307.2 171.8,306.9 174.0,308.8C176.2,310.7 174.9,309.6 177.8,311.2C180.7,312.8 179.3,312.1 182.6,313.6C185.9,315.1 187.6,314.5 187.6,315.8C187.6,317.1 185.9,316.6 182.6,317.6C179.3,318.6 181.6,317.7 177.8,318.8C174.0,319.9 176.2,319.7 171.1,320.8C166.0,321.9 167.9,322.0 162.4,322.2C156.9,322.4 160.2,322.4 154.7,321.3C149.2,320.2 150.2,327.1 146.0,319.0C141.8,310.9 140.4,303.5 142.0,297.0Z"/></clipPath><g clip-path="url(#b12)"><path d="M142.0,297.0C143.6,290.5 146.1,298.2 150.7,299.6C155.3,301.0 152.1,300.5 155.7,301.1C159.3,301.7 157.7,300.7 161.5,301.5C165.3,302.3 164.0,302.2 167.2,303.5C170.4,304.8 168.8,303.6 171.1,305.4C173.4,307.2 171.8,306.9 174.0,308.8C176.2,310.7 174.9,309.6 177.8,311.2C180.7,312.8 179.3,312.1 182.6,313.6C185.9,315.1 187.6,314.5 187.6,315.8C187.6,317.1 185.9,316.6 182.6,317.6C179.3,318.6 181.6,317.7 177.8,318.8C174.0,319.9 176.2,319.7 171.1,320.8C166.0,321.9 167.9,322.0 162.4,322.2C156.9,322.4 160.2,322.4 154.7,321.3C149.2,320.2 150.2,327.1 146.0,319.0C141.8,310.9 140.4,303.5 142.0,297.0Z" fill="#eeeeee"/><path d="M145.0,299.9C146.7,294.2 148.4,300.8 152.2,301.9C156.1,302.9 153.4,302.6 156.5,303.1C159.6,303.5 158.2,302.7 161.5,303.4C164.8,304.0 163.7,303.9 166.5,305.0C169.4,306.0 167.9,305.1 170.0,306.6C172.2,308.0 170.8,307.7 172.9,309.4C175.0,311.1 173.9,310.1 176.4,311.6C179.0,313.1 177.8,312.4 180.5,313.8C183.2,315.2 184.6,314.6 184.6,315.8C184.6,317.0 183.2,316.5 180.5,317.4C177.9,318.3 179.9,317.5 176.6,318.6C173.3,319.6 175.4,319.4 170.6,320.6C165.9,321.7 167.6,321.7 162.4,321.9C157.1,322.1 160.1,322.1 155.0,321.1C149.9,320.0 150.4,325.8 147.1,318.8C143.8,311.7 143.3,305.5 145.0,299.9Z" fill="#c6c6c6"/><path d="M147.6,302.4C149.5,297.5 150.4,303.1 153.6,303.9C156.8,304.7 154.5,304.5 157.2,304.8C159.8,305.2 158.6,304.5 161.5,305.0C164.4,305.5 163.4,305.5 165.9,306.3C168.4,307.2 167.1,306.4 169.1,307.6C171.1,308.8 169.9,308.5 171.9,310.0C173.9,311.4 172.9,310.6 175.2,311.9C177.4,313.3 176.4,312.7 178.7,314.0C180.9,315.3 181.9,314.7 181.9,315.8C181.9,316.9 180.8,316.4 178.7,317.3C176.6,318.1 178.3,317.4 175.5,318.4C172.7,319.4 174.6,319.2 170.2,320.3C165.8,321.4 167.3,321.5 162.3,321.7C157.3,321.8 160.0,321.9 155.2,320.9C150.5,319.8 150.6,324.7 148.1,318.6C145.5,312.4 145.8,307.3 147.6,302.4Z" fill="#989898"/><path d="M150.4,305.1C152.4,301.1 152.6,305.6 155.0,306.1C157.5,306.6 155.7,306.4 157.9,306.7C160.1,306.9 159.1,306.5 161.5,306.8C163.9,307.2 163.1,307.1 165.2,307.7C167.4,308.4 166.2,307.7 168.1,308.7C169.9,309.7 168.9,309.4 170.8,310.6C172.8,311.8 171.9,311.1 173.8,312.3C175.8,313.5 175.0,313.1 176.7,314.2C178.4,315.4 179.0,314.8 179.0,315.8C179.0,316.8 178.3,316.3 176.7,317.1C175.2,317.9 176.6,317.2 174.3,318.2C172.0,319.2 173.8,319.0 169.8,320.1C165.7,321.2 167.0,321.2 162.3,321.4C157.5,321.6 159.9,321.7 155.5,320.6C151.1,319.6 150.8,323.5 149.1,318.4C147.4,313.2 148.5,309.2 150.4,305.1Z" fill="#686868"/><path d="M153.6,308.1C155.7,304.9 154.9,308.3 156.6,308.5C158.4,308.7 157.1,308.6 158.7,308.7C160.3,308.8 159.6,308.6 161.5,308.8C163.4,308.9 162.7,308.9 164.5,309.3C166.3,309.7 165.2,309.3 166.9,309.9C168.6,310.6 167.8,310.3 169.7,311.2C171.5,312.2 170.8,311.7 172.4,312.7C174.0,313.8 173.4,313.4 174.5,314.4C175.7,315.5 175.8,315.0 175.8,315.8C175.8,316.6 175.5,316.2 174.6,316.9C173.6,317.6 174.8,316.9 173.0,317.9C171.3,318.9 172.9,318.8 169.3,319.8C165.7,320.9 166.7,320.9 162.2,321.1C157.8,321.3 159.8,321.4 155.8,320.4C151.8,319.4 151.0,322.2 150.3,318.1C149.5,314.0 151.4,311.3 153.6,308.1Z" fill="#3c3c3c"/><ellipse cx="161.5" cy="315.8" rx="11.0" ry="5.0" fill="#1c1c1c"/><ellipse cx="160.0" cy="315.8" rx="8.5" ry="5.0" fill="#1e1e1e" stroke="#c4c4c4" stroke-width="1.0"/><ellipse cx="160.0" cy="315.8" rx="5.8" ry="3.4" fill="#282828" stroke="#b4b4b4" stroke-width="1.0"/><ellipse cx="160.0" cy="315.8" rx="3.2" ry="1.9" fill="#1e1e1e" stroke="#9c9c9c" stroke-width="0.9"/><ellipse cx="160.0" cy="315.8" rx="1.1" ry="0.7" fill="#000"/><path d="M179,312.6 L188,315.8 L179,319 Z" fill="#000"/><path d="M178.6,314.5 L181.8,315.8 L178.6,317.1 Z" fill="#e8e8e8"/></g><path d="M142.0,297.0C143.6,290.5 146.1,298.2 150.7,299.6C155.3,301.0 152.1,300.5 155.7,301.1C159.3,301.7 157.7,300.7 161.5,301.5C165.3,302.3 164.0,302.2 167.2,303.5C170.4,304.8 168.8,303.6 171.1,305.4C173.4,307.2 171.8,306.9 174.0,308.8C176.2,310.7 174.9,309.6 177.8,311.2C180.7,312.8 179.3,312.1 182.6,313.6C185.9,315.1 187.6,314.5 187.6,315.8C187.6,317.1 185.9,316.6 182.6,317.6C179.3,318.6 181.6,317.7 177.8,318.8C174.0,319.9 176.2,319.7 171.1,320.8C166.0,321.9 167.9,322.0 162.4,322.2C156.9,322.4 160.2,322.4 154.7,321.3C149.2,320.2 150.2,327.1 146.0,319.0C141.8,310.9 140.4,303.5 142.0,297.0Z" fill="none" stroke="#000" stroke-width="2" stroke-linejoin="round"/>
<path d="M197.8,316.2 C200,314.5 202,312 205.5,311.3 C209,310.8 211,312.5 210.5,315 C210,317.5 207,318.3 203,317.8 C200.5,317.5 199,317 197.8,316.2Z" fill="#000"/>
</g>
<path d="M178.60,326.60 V300.10 H241.00" fill="none" stroke="#111" stroke-width="1.4"/>
<text x="239.40" y="325.10" font-size="12.4" font-weight="bold" text-anchor="end">2.67</text>
<g clip-path="url(#cp22)">
<clipPath id="b13"><path d="M238.0,313.0C238.5,310.0 238.6,310.8 241.5,308.5C244.4,306.2 242.7,307.4 246.7,306.0C250.7,304.6 249.0,304.8 253.5,304.2C258.0,303.6 255.7,303.6 260.2,304.2C264.7,304.8 262.1,304.9 267.0,306.0C271.9,307.1 269.2,306.5 275.0,307.4C280.8,308.3 278.1,307.5 284.4,308.7C290.7,309.9 288.6,309.2 293.8,310.9C299.0,312.6 297.6,312.1 299.9,313.8C302.2,315.5 301.5,314.3 300.8,315.9C300.1,317.5 301.1,317.1 297.9,318.6C294.7,320.1 296.9,319.4 291.1,320.3C285.3,321.2 288.4,320.7 280.4,321.2C272.4,321.7 276.0,321.8 267.0,321.9C258.0,322.0 260.7,322.3 253.5,321.6C246.3,320.9 249.9,321.3 245.4,319.9C240.9,318.5 242.5,319.8 240.0,317.5C237.5,315.2 237.5,316.0 238.0,313.0Z"/></clipPath><g clip-path="url(#b13)"><path d="M238.0,313.0C238.5,310.0 238.6,310.8 241.5,308.5C244.4,306.2 242.7,307.4 246.7,306.0C250.7,304.6 249.0,304.8 253.5,304.2C258.0,303.6 255.7,303.6 260.2,304.2C264.7,304.8 262.1,304.9 267.0,306.0C271.9,307.1 269.2,306.5 275.0,307.4C280.8,308.3 278.1,307.5 284.4,308.7C290.7,309.9 288.6,309.2 293.8,310.9C299.0,312.6 297.6,312.1 299.9,313.8C302.2,315.5 301.5,314.3 300.8,315.9C300.1,317.5 301.1,317.1 297.9,318.6C294.7,320.1 296.9,319.4 291.1,320.3C285.3,321.2 288.4,320.7 280.4,321.2C272.4,321.7 276.0,321.8 267.0,321.9C258.0,322.0 260.7,322.3 253.5,321.6C246.3,320.9 249.9,321.3 245.4,319.9C240.9,318.5 242.5,319.8 240.0,317.5C237.5,315.2 237.5,316.0 238.0,313.0Z" fill="#eeeeee"/><path d="M239.4,313.2C240.5,310.4 240.7,311.2 243.9,309.2C247.0,307.2 245.2,308.3 248.9,307.1C252.6,305.9 251.0,306.2 255.0,305.7C259.0,305.2 257.0,305.2 260.9,305.6C264.9,306.1 262.5,306.2 266.9,307.1C271.3,307.9 268.8,307.5 274.1,308.2C279.4,309.0 277.0,308.3 282.8,309.3C288.7,310.4 286.8,309.7 291.7,311.3C296.7,312.8 295.4,312.4 297.7,313.9C300.0,315.5 299.2,314.4 298.6,315.9C298.1,317.4 298.9,317.1 295.9,318.4C292.9,319.8 295.0,319.2 289.7,320.1C284.3,320.9 287.3,320.4 279.8,321.0C272.2,321.5 275.5,321.5 267.0,321.6C258.4,321.8 261.1,322.0 254.1,321.3C247.2,320.7 250.6,321.1 246.1,319.8C241.6,318.5 242.8,319.7 240.6,317.5C238.4,315.3 238.3,315.9 239.4,313.2Z" fill="#c6c6c6"/><path d="M240.7,313.3C242.3,310.8 242.6,311.6 246.0,309.9C249.4,308.2 247.4,309.1 250.9,308.2C254.4,307.2 252.9,307.4 256.4,307.0C260.0,306.6 258.1,306.6 261.5,306.9C265.0,307.3 262.9,307.4 266.8,308.1C270.7,308.7 268.5,308.3 273.4,309.0C278.2,309.6 275.9,309.0 281.4,309.9C286.9,310.8 285.1,310.2 289.8,311.6C294.6,313.0 293.4,312.6 295.7,314.1C297.9,315.5 297.2,314.5 296.7,315.9C296.2,317.3 296.9,317.0 294.2,318.3C291.4,319.6 293.4,319.0 288.4,319.8C283.4,320.7 286.4,320.2 279.2,320.8C272.1,321.3 275.1,321.3 266.9,321.4C258.7,321.5 261.4,321.7 254.7,321.1C247.9,320.5 251.2,320.9 246.7,319.6C242.2,318.4 243.2,319.6 241.1,317.4C239.1,315.3 239.1,315.8 240.7,313.3Z" fill="#989898"/><path d="M242.0,313.4C244.2,311.1 244.6,311.9 248.2,310.6C251.9,309.2 249.7,310.0 253.0,309.2C256.2,308.5 254.8,308.7 257.9,308.4C261.0,308.0 259.3,308.1 262.2,308.3C265.2,308.6 263.2,308.6 266.7,309.1C270.1,309.6 268.2,309.3 272.6,309.7C277.0,310.2 274.8,309.7 279.9,310.5C285.0,311.3 283.3,310.8 287.8,312.0C292.4,313.2 291.3,312.9 293.5,314.2C295.8,315.5 295.1,314.6 294.6,315.9C294.2,317.2 294.9,316.9 292.3,318.1C289.8,319.4 291.6,318.8 287.0,319.6C282.4,320.4 285.3,320.0 278.6,320.6C271.9,321.1 274.7,321.1 266.9,321.2C259.1,321.2 261.7,321.4 255.2,320.8C248.8,320.3 251.9,320.7 247.4,319.5C242.9,318.4 243.5,319.4 241.7,317.4C239.9,315.4 239.9,315.7 242.0,313.4Z" fill="#686868"/><path d="M243.5,313.6C246.3,311.6 246.8,312.4 250.7,311.3C254.6,310.3 252.3,310.9 255.3,310.4C258.2,310.0 257.0,310.1 259.5,309.9C262.1,309.7 260.6,309.7 263.0,309.8C265.3,309.9 263.7,310.0 266.6,310.2C269.5,310.5 267.8,310.3 271.7,310.6C275.5,310.9 273.5,310.6 278.2,311.2C282.9,311.8 281.3,311.3 285.6,312.4C290.0,313.5 288.9,313.2 291.2,314.4C293.4,315.5 292.7,314.7 292.4,315.9C292.1,317.1 292.5,316.8 290.2,318.0C287.9,319.1 289.6,318.6 285.5,319.3C281.4,320.1 284.2,319.8 277.9,320.3C271.7,320.8 274.2,320.8 266.8,320.9C259.5,321.0 262.1,321.0 255.9,320.5C249.7,320.0 252.7,320.4 248.1,319.4C243.6,318.3 243.9,319.3 242.4,317.4C240.8,315.4 240.7,315.6 243.5,313.6Z" fill="#3c3c3c"/><ellipse cx="266.0" cy="316.0" rx="24.0" ry="4.6" fill="#1c1c1c"/><ellipse cx="257.5" cy="315.9" rx="14.0" ry="4.8" fill="#1e1e1e" stroke="#c4c4c4" stroke-width="1.0"/><ellipse cx="257.5" cy="315.9" rx="9.5" ry="3.3" fill="#282828" stroke="#b4b4b4" stroke-width="1.0"/><ellipse cx="257.5" cy="315.9" rx="5.3" ry="1.8" fill="#1e1e1e" stroke="#9c9c9c" stroke-width="0.9"/><ellipse cx="257.5" cy="315.9" rx="1.8" ry="0.6" fill="#000"/><ellipse cx="291.0" cy="315.7" rx="9.0" ry="3.6" fill="url(#lg)"/></g><path d="M238.0,313.0C238.5,310.0 238.6,310.8 241.5,308.5C244.4,306.2 242.7,307.4 246.7,306.0C250.7,304.6 249.0,304.8 253.5,304.2C258.0,303.6 255.7,303.6 260.2,304.2C264.7,304.8 262.1,304.9 267.0,306.0C271.9,307.1 269.2,306.5 275.0,307.4C280.8,308.3 278.1,307.5 284.4,308.7C290.7,309.9 288.6,309.2 293.8,310.9C299.0,312.6 297.6,312.1 299.9,313.8C302.2,315.5 301.5,314.3 300.8,315.9C300.1,317.5 301.1,317.1 297.9,318.6C294.7,320.1 296.9,319.4 291.1,320.3C285.3,321.2 288.4,320.7 280.4,321.2C272.4,321.7 276.0,321.8 267.0,321.9C258.0,322.0 260.7,322.3 253.5,321.6C246.3,320.9 249.9,321.3 245.4,319.9C240.9,318.5 242.5,319.8 240.0,317.5C237.5,315.2 237.5,316.0 238.0,313.0Z" fill="none" stroke="#000" stroke-width="2" stroke-linejoin="round"/>
</g>
<path d="M268.50,326.60 V300.00 H331.50" fill="none" stroke="#111" stroke-width="1.4"/>
<text x="329.90" y="325.10" font-size="12.4" font-weight="bold" text-anchor="end">22.1</text>
<g clip-path="url(#cp23)">
<clipPath id="b14"><path d="M326.0,314.0C325.3,309.7 326.7,310.0 329.0,307.0C331.3,304.0 330.0,305.9 333.0,305.0C336.0,304.1 334.1,304.0 338.0,304.2C341.9,304.4 340.3,305.3 344.8,305.5C349.3,305.7 346.6,304.4 351.5,304.7C356.4,305.0 353.3,305.5 359.6,306.4C365.9,307.3 363.2,306.5 370.4,307.4C377.6,308.3 374.8,307.6 381.1,309.1C387.4,310.6 385.2,309.8 389.2,311.8C393.2,313.8 392.3,312.9 393.0,315.2C393.7,317.5 394.3,316.7 391.2,318.6C388.1,320.5 390.7,319.7 383.8,320.8C376.9,321.9 380.3,321.3 370.4,321.9C360.5,322.5 364.1,322.6 354.2,322.6C344.3,322.6 348.5,322.8 340.8,321.9C333.1,321.0 335.9,322.6 331.0,320.0C326.1,317.4 326.7,318.3 326.0,314.0Z"/></clipPath><g clip-path="url(#b14)"><path d="M326.0,314.0C325.3,309.7 326.7,310.0 329.0,307.0C331.3,304.0 330.0,305.9 333.0,305.0C336.0,304.1 334.1,304.0 338.0,304.2C341.9,304.4 340.3,305.3 344.8,305.5C349.3,305.7 346.6,304.4 351.5,304.7C356.4,305.0 353.3,305.5 359.6,306.4C365.9,307.3 363.2,306.5 370.4,307.4C377.6,308.3 374.8,307.6 381.1,309.1C387.4,310.6 385.2,309.8 389.2,311.8C393.2,313.8 392.3,312.9 393.0,315.2C393.7,317.5 394.3,316.7 391.2,318.6C388.1,320.5 390.7,319.7 383.8,320.8C376.9,321.9 380.3,321.3 370.4,321.9C360.5,322.5 364.1,322.6 354.2,322.6C344.3,322.6 348.5,322.8 340.8,321.9C333.1,321.0 335.9,322.6 331.0,320.0C326.1,317.4 326.7,318.3 326.0,314.0Z" fill="#eeeeee"/><path d="M327.4,314.1C327.5,310.2 329.4,310.6 332.2,308.1C335.1,305.5 333.3,307.2 336.1,306.4C338.8,305.6 337.1,305.6 340.5,305.7C343.9,305.9 342.4,306.6 346.3,306.8C350.2,306.9 347.9,305.9 352.3,306.1C356.6,306.3 353.8,306.7 359.4,307.5C365.1,308.2 362.6,307.5 369.2,308.3C375.7,309.0 373.1,308.5 379.1,309.7C385.1,311.0 383.0,310.3 387.1,312.1C391.2,314.0 390.5,313.1 391.3,315.3C392.1,317.4 392.5,316.7 389.6,318.5C386.7,320.3 389.1,319.5 382.5,320.6C375.9,321.6 379.3,321.1 369.9,321.7C360.5,322.2 363.8,322.3 354.4,322.3C345.0,322.3 349.1,322.4 341.7,321.6C334.2,320.8 336.9,322.4 332.1,319.9C327.4,317.3 327.4,318.0 327.4,314.1Z" fill="#c6c6c6"/><path d="M328.7,314.2C329.4,310.6 331.8,311.2 335.2,309.0C338.5,306.8 336.3,308.3 338.8,307.7C341.4,307.0 339.8,307.0 342.8,307.1C345.7,307.2 344.3,307.8 347.7,307.9C351.1,308.0 349.1,307.2 353.0,307.4C356.8,307.5 354.2,307.8 359.3,308.4C364.3,309.0 362.1,308.5 368.1,309.1C374.1,309.7 371.6,309.2 377.3,310.3C383.0,311.4 381.0,310.7 385.2,312.4C389.3,314.1 388.8,313.3 389.8,315.3C390.8,317.3 391.0,316.7 388.2,318.4C385.4,320.1 387.6,319.4 381.3,320.4C375.1,321.4 378.4,320.9 369.4,321.5C360.5,322.0 363.6,322.1 354.6,322.0C345.6,322.0 349.6,322.1 342.4,321.4C335.3,320.6 337.7,322.1 333.1,319.7C328.6,317.3 328.1,317.8 328.7,314.2Z" fill="#989898"/><path d="M330.1,314.3C331.5,311.1 334.4,311.8 338.2,310.0C342.1,308.2 339.5,309.5 341.8,309.0C344.1,308.5 342.7,308.5 345.2,308.6C347.6,308.6 346.3,309.1 349.1,309.1C352.0,309.1 350.4,308.6 353.7,308.7C357.0,308.8 354.7,309.0 359.1,309.4C363.5,309.8 361.5,309.4 366.9,309.9C372.3,310.4 369.9,310.0 375.4,310.9C380.8,311.8 378.9,311.2 383.2,312.7C387.4,314.2 387.0,313.5 388.1,315.4C389.3,317.2 389.3,316.7 386.7,318.3C384.0,319.9 386.0,319.2 380.1,320.2C374.2,321.2 377.4,320.7 369.0,321.3C360.5,321.8 363.3,321.8 354.7,321.7C346.2,321.7 350.1,321.8 343.2,321.1C336.4,320.4 338.6,321.8 334.2,319.6C329.8,317.3 328.7,317.5 330.1,314.3Z" fill="#686868"/><path d="M331.6,314.4C333.7,311.6 337.2,312.4 341.7,311.1C346.1,309.8 342.9,310.8 345.0,310.5C347.0,310.2 345.9,310.2 347.8,310.2C349.7,310.2 348.5,310.4 350.8,310.4C353.0,310.4 351.8,310.1 354.5,310.2C357.3,310.2 355.2,310.3 358.9,310.5C362.6,310.8 360.9,310.5 365.6,310.9C370.4,311.2 368.1,310.9 373.2,311.6C378.3,312.3 376.6,311.7 380.9,313.0C385.3,314.3 385.0,313.7 386.4,315.4C387.7,317.2 387.5,316.7 385.0,318.2C382.4,319.7 384.2,319.0 378.7,319.9C373.2,320.9 376.4,320.5 368.4,321.0C360.5,321.5 363.0,321.5 354.9,321.4C346.8,321.3 350.7,321.5 344.1,320.8C337.6,320.2 339.5,321.6 335.3,319.4C331.2,317.3 329.5,317.2 331.6,314.4Z" fill="#3c3c3c"/><ellipse cx="358.0" cy="316.4" rx="27.0" ry="4.7" fill="#1c1c1c"/><ellipse cx="352.9" cy="316.3" rx="19.0" ry="4.8" fill="#1e1e1e" stroke="#c4c4c4" stroke-width="1.0"/><ellipse cx="352.9" cy="316.3" rx="12.9" ry="3.3" fill="#282828" stroke="#b4b4b4" stroke-width="1.0"/><ellipse cx="352.9" cy="316.3" rx="7.2" ry="1.8" fill="#1e1e1e" stroke="#9c9c9c" stroke-width="0.9"/><ellipse cx="352.9" cy="316.3" rx="2.5" ry="0.6" fill="#000"/><ellipse cx="384.0" cy="315.8" rx="8.0" ry="3.6" fill="url(#lg)"/></g><path d="M326.0,314.0C325.3,309.7 326.7,310.0 329.0,307.0C331.3,304.0 330.0,305.9 333.0,305.0C336.0,304.1 334.1,304.0 338.0,304.2C341.9,304.4 340.3,305.3 344.8,305.5C349.3,305.7 346.6,304.4 351.5,304.7C356.4,305.0 353.3,305.5 359.6,306.4C365.9,307.3 363.2,306.5 370.4,307.4C377.6,308.3 374.8,307.6 381.1,309.1C387.4,310.6 385.2,309.8 389.2,311.8C393.2,313.8 392.3,312.9 393.0,315.2C393.7,317.5 394.3,316.7 391.2,318.6C388.1,320.5 390.7,319.7 383.8,320.8C376.9,321.9 380.3,321.3 370.4,321.9C360.5,322.5 364.1,322.6 354.2,322.6C344.3,322.6 348.5,322.8 340.8,321.9C333.1,321.0 335.9,322.6 331.0,320.0C326.1,317.4 326.7,318.3 326.0,314.0Z" fill="none" stroke="#000" stroke-width="2" stroke-linejoin="round"/>
</g>
<path d="M359.80,326.60 V300.00 H422.00" fill="none" stroke="#111" stroke-width="1.4"/>
<text x="420.40" y="325.10" font-size="12.4" font-weight="bold" text-anchor="end">30.4</text>
<g clip-path="url(#cp24)">
<clipPath id="b15"><path d="M408.0,297.0C409.3,290.6 411.3,297.8 416.0,298.7C420.7,299.6 416.2,298.7 422.0,299.7C427.8,300.7 426.1,300.4 433.5,301.7C440.9,303.0 438.8,302.0 444.2,303.7C449.6,305.4 445.1,304.8 449.6,306.8C454.1,308.8 452.3,308.0 457.7,309.8C463.1,311.6 460.4,311.3 465.8,312.3C471.2,313.3 469.3,312.6 474.0,312.8C478.7,313.0 477.1,312.2 480.0,313.0C482.9,313.8 482.8,313.5 482.8,315.2C482.8,316.9 483.0,317.3 480.0,318.0C477.0,318.7 478.5,317.4 473.8,317.4C469.1,317.4 471.2,317.3 465.8,318.0C460.4,318.7 464.0,318.4 457.7,319.5C451.4,320.6 455.0,320.4 446.9,321.2C438.8,322.0 441.8,322.1 433.5,321.9C425.2,321.7 429.2,321.8 422.0,320.5C414.8,319.2 416.7,325.8 412.0,318.0C407.3,310.2 406.7,303.4 408.0,297.0Z"/></clipPath><g clip-path="url(#b15)"><path d="M408.0,297.0C409.3,290.6 411.3,297.8 416.0,298.7C420.7,299.6 416.2,298.7 422.0,299.7C427.8,300.7 426.1,300.4 433.5,301.7C440.9,303.0 438.8,302.0 444.2,303.7C449.6,305.4 445.1,304.8 449.6,306.8C454.1,308.8 452.3,308.0 457.7,309.8C463.1,311.6 460.4,311.3 465.8,312.3C471.2,313.3 469.3,312.6 474.0,312.8C478.7,313.0 477.1,312.2 480.0,313.0C482.9,313.8 482.8,313.5 482.8,315.2C482.8,316.9 483.0,317.3 480.0,318.0C477.0,318.7 478.5,317.4 473.8,317.4C469.1,317.4 471.2,317.3 465.8,318.0C460.4,318.7 464.0,318.4 457.7,319.5C451.4,320.6 455.0,320.4 446.9,321.2C438.8,322.0 441.8,322.1 433.5,321.9C425.2,321.7 429.2,321.8 422.0,320.5C414.8,319.2 416.7,325.8 412.0,318.0C407.3,310.2 406.7,303.4 408.0,297.0Z" fill="#eeeeee"/><path d="M412.2,299.9C413.8,294.3 415.0,300.5 418.9,301.2C422.8,301.9 419.0,301.2 423.9,302.0C428.9,302.7 427.4,302.4 433.8,303.5C440.3,304.6 438.4,303.7 443.2,305.1C448.1,306.5 444.1,306.0 448.2,307.7C452.3,309.5 450.8,308.8 455.5,310.4C460.3,312.1 457.9,311.8 462.4,312.7C466.9,313.7 465.2,313.0 469.0,313.2C472.9,313.5 471.5,312.7 473.9,313.4C476.2,314.1 476.1,313.9 476.1,315.3C476.1,316.7 476.3,317.1 473.9,317.7C471.5,318.4 472.7,317.2 468.9,317.2C465.1,317.2 466.9,317.1 462.5,317.8C458.1,318.4 461.2,318.1 455.9,319.2C450.5,320.3 453.9,320.1 446.4,321.0C439.0,321.8 441.5,322.0 433.6,321.8C425.6,321.5 429.2,321.6 422.7,320.3C416.2,319.0 417.6,324.6 414.2,317.8C410.7,311.0 410.7,305.4 412.2,299.9Z" fill="#c6c6c6"/><path d="M416.1,302.5C417.9,297.7 418.3,302.9 421.5,303.4C424.7,303.9 421.5,303.4 425.7,304.0C429.9,304.5 428.5,304.3 434.1,305.1C439.7,305.9 438.1,305.3 442.4,306.4C446.7,307.6 443.3,307.0 447.0,308.6C450.7,310.1 449.5,309.5 453.6,311.0C457.7,312.5 455.7,312.2 459.4,313.1C463.0,314.0 461.6,313.4 464.6,313.6C467.6,313.8 466.5,313.2 468.3,313.8C470.2,314.4 470.1,314.2 470.1,315.4C470.2,316.6 470.2,316.9 468.4,317.5C466.5,318.0 467.5,317.0 464.5,317.1C461.6,317.1 463.0,317.0 459.5,317.6C456.1,318.2 458.7,317.9 454.2,318.9C449.7,320.0 452.9,319.9 446.0,320.8C439.2,321.7 441.2,321.9 433.6,321.6C426.1,321.4 429.2,321.4 423.4,320.1C417.5,318.7 418.5,323.5 416.1,317.7C413.7,311.8 414.3,307.2 416.1,302.5Z" fill="#989898"/><path d="M420.1,305.2C422.1,301.3 421.7,305.5 424.2,305.8C426.7,306.1 424.1,305.8 427.5,306.1C430.9,306.5 429.7,306.3 434.4,306.8C439.0,307.4 437.7,306.9 441.5,307.8C445.2,308.7 442.4,308.2 445.7,309.4C449.1,310.7 448.1,310.2 451.6,311.6C455.0,312.9 453.4,312.7 456.2,313.5C458.9,314.3 457.7,313.8 459.9,314.0C462.0,314.2 461.2,313.7 462.5,314.2C463.8,314.7 463.8,314.5 463.8,315.5C463.8,316.5 463.9,316.8 462.6,317.2C461.3,317.7 462.0,316.8 459.9,316.9C457.9,316.9 458.9,316.8 456.4,317.4C453.9,318.0 456.1,317.6 452.4,318.7C448.8,319.7 451.8,319.6 445.6,320.6C439.3,321.5 440.8,321.8 433.7,321.5C426.5,321.3 429.2,321.2 424.0,319.8C418.9,318.5 419.5,322.4 418.2,317.5C416.8,312.6 418.1,309.1 420.1,305.2Z" fill="#686868"/><path d="M424.6,308.2C426.8,305.3 425.6,308.3 427.2,308.4C428.9,308.5 427.1,308.4 429.6,308.5C432.0,308.6 431.1,308.5 434.7,308.7C438.4,309.0 437.3,308.7 440.5,309.3C443.7,309.9 441.3,309.4 444.3,310.4C447.2,311.4 446.5,311.0 449.3,312.2C452.1,313.4 450.8,313.2 452.6,313.9C454.4,314.7 453.5,314.2 454.7,314.4C455.8,314.7 455.3,314.2 456.1,314.6C456.8,315.0 456.8,314.9 456.8,315.6C456.8,316.4 456.8,316.6 456.1,316.9C455.5,317.3 455.9,316.6 454.8,316.7C453.7,316.8 454.4,316.6 452.9,317.1C451.5,317.7 453.1,317.3 450.5,318.3C447.9,319.4 450.7,319.3 445.1,320.3C439.5,321.3 440.5,321.6 433.7,321.4C426.9,321.1 429.2,321.0 424.8,319.6C420.3,318.2 420.5,321.1 420.4,317.3C420.4,313.5 422.3,311.2 424.6,308.2Z" fill="#3c3c3c"/><ellipse cx="436.0" cy="316.0" rx="13.5" ry="5.3" fill="#1c1c1c"/><ellipse cx="434.8" cy="315.9" rx="11.5" ry="5.5" fill="#1e1e1e" stroke="#c4c4c4" stroke-width="1.0"/><ellipse cx="434.8" cy="315.9" rx="7.8" ry="3.7" fill="#282828" stroke="#b4b4b4" stroke-width="1.0"/><ellipse cx="434.8" cy="315.9" rx="4.4" ry="2.1" fill="#1e1e1e" stroke="#9c9c9c" stroke-width="0.9"/><ellipse cx="434.8" cy="315.9" rx="1.5" ry="0.7" fill="#000"/><path d="M464,311 L474,312.2 L480,312.5 L483.5,315.2 L480,318.5 L473.8,318 L464,319 Z" fill="#000"/><ellipse cx="478.2" cy="315.6" rx="1.7" ry="1.3" fill="#e8e8e8"/></g><path d="M408.0,297.0C409.3,290.6 411.3,297.8 416.0,298.7C420.7,299.6 416.2,298.7 422.0,299.7C427.8,300.7 426.1,300.4 433.5,301.7C440.9,303.0 438.8,302.0 444.2,303.7C449.6,305.4 445.1,304.8 449.6,306.8C454.1,308.8 452.3,308.0 457.7,309.8C463.1,311.6 460.4,311.3 465.8,312.3C471.2,313.3 469.3,312.6 474.0,312.8C478.7,313.0 477.1,312.2 480.0,313.0C482.9,313.8 482.8,313.5 482.8,315.2C482.8,316.9 483.0,317.3 480.0,318.0C477.0,318.7 478.5,317.4 473.8,317.4C469.1,317.4 471.2,317.3 465.8,318.0C460.4,318.7 464.0,318.4 457.7,319.5C451.4,320.6 455.0,320.4 446.9,321.2C438.8,322.0 441.8,322.1 433.5,321.9C425.2,321.7 429.2,321.8 422.0,320.5C414.8,319.2 416.7,325.8 412.0,318.0C407.3,310.2 406.7,303.4 408.0,297.0Z" fill="none" stroke="#000" stroke-width="2" stroke-linejoin="round"/>
</g>
<path d="M450.30,326.60 V300.00 H512.50" fill="none" stroke="#111" stroke-width="1.4"/>
<text x="510.90" y="325.10" font-size="12.4" font-weight="bold" text-anchor="end">6.91</text>
<g clip-path="url(#cp30)">
<clipPath id="b16"><path d="M61.0,400.8C62.1,398.2 62.3,400.0 63.7,397.7C65.1,395.4 63.9,395.7 65.2,393.8C66.5,391.9 65.4,392.0 67.5,391.9C69.6,391.8 69.1,393.2 71.4,393.5C73.7,393.8 72.7,392.5 74.5,392.7C76.3,392.9 75.3,392.8 76.8,394.2C78.3,395.6 77.2,395.0 79.1,396.9C81.0,398.8 80.2,397.7 82.5,400.0C84.8,402.3 84.1,401.2 86.0,403.8C87.9,406.4 88.3,405.4 88.3,407.7C88.3,410.0 88.6,409.0 86.0,410.8C83.4,412.6 85.0,412.0 80.6,413.1C76.2,414.2 78.0,414.2 72.9,414.2C67.8,414.2 69.0,414.2 65.2,413.1C61.4,412.0 63.0,413.4 61.4,410.8C59.8,408.2 60.5,408.7 60.4,405.4C60.3,402.1 59.9,403.4 61.0,400.8Z"/></clipPath><g clip-path="url(#b16)"><path d="M61.0,400.8C62.1,398.2 62.3,400.0 63.7,397.7C65.1,395.4 63.9,395.7 65.2,393.8C66.5,391.9 65.4,392.0 67.5,391.9C69.6,391.8 69.1,393.2 71.4,393.5C73.7,393.8 72.7,392.5 74.5,392.7C76.3,392.9 75.3,392.8 76.8,394.2C78.3,395.6 77.2,395.0 79.1,396.9C81.0,398.8 80.2,397.7 82.5,400.0C84.8,402.3 84.1,401.2 86.0,403.8C87.9,406.4 88.3,405.4 88.3,407.7C88.3,410.0 88.6,409.0 86.0,410.8C83.4,412.6 85.0,412.0 80.6,413.1C76.2,414.2 78.0,414.2 72.9,414.2C67.8,414.2 69.0,414.2 65.2,413.1C61.4,412.0 63.0,413.4 61.4,410.8C59.8,408.2 60.5,408.7 60.4,405.4C60.3,402.1 59.9,403.4 61.0,400.8Z" fill="#eeeeee"/><path d="M61.9,401.3C63.1,399.1 63.1,400.6 64.5,398.7C66.0,396.8 64.9,397.1 66.1,395.5C67.3,393.9 66.3,394.1 68.1,394.0C70.0,393.9 69.5,395.0 71.5,395.2C73.6,395.5 72.7,394.4 74.3,394.6C75.8,394.8 74.9,394.7 76.3,395.8C77.7,396.9 76.6,396.4 78.4,398.0C80.3,399.6 79.5,398.6 81.7,400.6C84.0,402.6 83.4,401.7 85.3,404.0C87.2,406.4 87.4,405.5 87.4,407.7C87.5,409.9 87.8,408.9 85.4,410.7C83.1,412.4 84.6,411.8 80.4,413.0C76.2,414.1 77.9,414.1 72.9,414.1C67.9,414.1 69.1,414.1 65.3,413.0C61.5,411.9 63.1,413.3 61.6,410.8C60.0,408.2 60.6,408.6 60.7,405.5C60.8,402.3 60.6,403.6 61.9,401.3Z" fill="#c6c6c6"/><path d="M62.6,401.8C64.1,399.8 63.9,401.2 65.3,399.6C66.7,398.0 65.7,398.3 66.9,397.1C68.0,395.8 67.1,395.9 68.7,395.8C70.3,395.8 69.9,396.6 71.7,396.8C73.4,397.0 72.6,396.2 74.0,396.3C75.4,396.5 74.6,396.4 75.8,397.3C77.1,398.2 76.1,397.7 77.8,399.0C79.6,400.3 78.8,399.4 81.0,401.2C83.3,402.9 82.7,402.1 84.6,404.2C86.5,406.4 86.6,405.6 86.7,407.7C86.8,409.8 87.0,408.9 84.9,410.6C82.8,412.3 84.3,411.7 80.3,412.9C76.2,414.0 77.8,414.0 72.9,414.0C67.9,414.1 69.1,414.1 65.4,412.9C61.7,411.8 63.2,413.2 61.7,410.7C60.2,408.2 60.7,408.5 61.0,405.5C61.3,402.6 61.2,403.8 62.6,401.8Z" fill="#989898"/><path d="M63.4,402.3C65.1,400.6 64.7,401.7 66.1,400.5C67.5,399.3 66.6,399.6 67.7,398.7C68.8,397.8 68.0,397.9 69.3,397.8C70.7,397.7 70.3,398.4 71.8,398.5C73.3,398.6 72.6,398.0 73.8,398.1C75.0,398.2 74.2,398.2 75.4,398.8C76.5,399.4 75.6,399.1 77.2,400.1C78.9,401.0 78.1,400.3 80.3,401.8C82.5,403.2 82.0,402.5 83.9,404.5C85.7,406.5 85.7,405.7 85.8,407.7C86.0,409.7 86.3,408.8 84.4,410.5C82.4,412.1 83.9,411.6 80.1,412.8C76.3,413.9 77.7,413.9 72.9,414.0C68.0,414.0 69.2,414.0 65.5,412.9C61.9,411.8 63.3,413.1 61.9,410.7C60.4,408.3 60.7,408.4 61.3,405.6C61.8,402.8 61.8,404.0 63.4,402.3Z" fill="#686868"/><path d="M64.3,402.9C66.2,401.5 65.6,402.4 67.0,401.6C68.4,400.8 67.6,401.0 68.6,400.5C69.6,400.0 68.9,400.1 70.0,400.0C71.1,399.9 70.7,400.2 71.9,400.3C73.1,400.3 72.6,400.1 73.5,400.1C74.5,400.2 73.8,400.1 74.8,400.5C75.8,400.9 75.0,400.6 76.5,401.2C78.1,401.9 77.3,401.3 79.5,402.4C81.7,403.6 81.3,402.9 83.1,404.7C84.9,406.5 84.7,405.9 84.9,407.8C85.2,409.6 85.4,408.7 83.8,410.3C82.1,412.0 83.5,411.5 79.9,412.7C76.3,413.8 77.6,413.8 72.9,413.9C68.1,413.9 69.3,413.9 65.6,412.8C62.0,411.7 63.4,413.0 62.0,410.6C60.7,408.3 60.8,408.2 61.6,405.7C62.4,403.1 62.5,404.3 64.3,402.9Z" fill="#3c3c3c"/><ellipse cx="72.5" cy="408.0" rx="11.5" ry="5.8" fill="#1c1c1c"/><ellipse cx="72.2" cy="408.0" rx="10.3" ry="5.8" fill="#1e1e1e" stroke="#c4c4c4" stroke-width="1.0"/><ellipse cx="72.2" cy="408.0" rx="7.0" ry="3.9" fill="#282828" stroke="#b4b4b4" stroke-width="1.0"/><ellipse cx="72.2" cy="408.0" rx="3.9" ry="2.2" fill="#1e1e1e" stroke="#9c9c9c" stroke-width="0.9"/><ellipse cx="72.2" cy="408.0" rx="1.3" ry="0.8" fill="#000"/></g><path d="M61.0,400.8C62.1,398.2 62.3,400.0 63.7,397.7C65.1,395.4 63.9,395.7 65.2,393.8C66.5,391.9 65.4,392.0 67.5,391.9C69.6,391.8 69.1,393.2 71.4,393.5C73.7,393.8 72.7,392.5 74.5,392.7C76.3,392.9 75.3,392.8 76.8,394.2C78.3,395.6 77.2,395.0 79.1,396.9C81.0,398.8 80.2,397.7 82.5,400.0C84.8,402.3 84.1,401.2 86.0,403.8C87.9,406.4 88.3,405.4 88.3,407.7C88.3,410.0 88.6,409.0 86.0,410.8C83.4,412.6 85.0,412.0 80.6,413.1C76.2,414.2 78.0,414.2 72.9,414.2C67.8,414.2 69.0,414.2 65.2,413.1C61.4,412.0 63.0,413.4 61.4,410.8C59.8,408.2 60.5,408.7 60.4,405.4C60.3,402.1 59.9,403.4 61.0,400.8Z" fill="none" stroke="#000" stroke-width="2" stroke-linejoin="round"/>
<path d="M92,404 L94,406.8" stroke="#000" stroke-width="1.3"/>
</g>
<path d="M86.40,417.30 V386.80 H150.50" fill="none" stroke="#111" stroke-width="1.4"/>
<text x="148.90" y="415.80" font-size="12.4" font-weight="bold" text-anchor="end">2.36</text>
<g clip-path="url(#cp31)">
<path d="M172.0,404.5C174.8,401.8 176.2,404.0 180.3,403.8C184.4,403.6 182.2,403.4 184.3,404.0C186.4,404.6 186.8,404.3 186.6,405.6C186.4,406.9 185.8,406.2 183.7,407.8C181.6,409.4 182.8,409.0 180.3,410.3C177.8,411.6 179.1,411.2 176.3,411.8C173.5,412.4 173.4,414.4 172.0,412.0C170.6,409.6 169.2,407.2 172.0,404.5Z" fill="#c8c8c8" stroke="#000" stroke-width="2.00" stroke-linejoin="round"/>
<clipPath id="b17"><path d="M144.0,397.0C145.6,391.7 146.7,395.5 150.7,394.1C154.7,392.7 152.5,393.0 156.1,392.8C159.7,392.6 158.1,392.8 161.5,393.5C164.9,394.2 163.7,393.0 166.2,394.8C168.7,396.6 166.9,396.3 168.9,398.8C170.9,401.3 170.2,400.2 172.2,402.2C174.2,404.2 173.6,403.0 174.9,404.9C176.2,406.8 175.8,405.8 176.0,408.0C176.2,410.2 176.3,409.7 175.5,411.6C174.7,413.5 176.0,412.4 173.6,413.6C171.2,414.8 172.7,414.6 168.2,415.3C163.7,416.0 165.0,416.3 160.1,415.7C155.2,415.1 158.1,415.5 153.4,413.6C148.7,411.7 149.1,415.5 146.0,410.0C142.9,404.5 142.4,402.3 144.0,397.0Z"/></clipPath><g clip-path="url(#b17)"><path d="M144.0,397.0C145.6,391.7 146.7,395.5 150.7,394.1C154.7,392.7 152.5,393.0 156.1,392.8C159.7,392.6 158.1,392.8 161.5,393.5C164.9,394.2 163.7,393.0 166.2,394.8C168.7,396.6 166.9,396.3 168.9,398.8C170.9,401.3 170.2,400.2 172.2,402.2C174.2,404.2 173.6,403.0 174.9,404.9C176.2,406.8 175.8,405.8 176.0,408.0C176.2,410.2 176.3,409.7 175.5,411.6C174.7,413.5 176.0,412.4 173.6,413.6C171.2,414.8 172.7,414.6 168.2,415.3C163.7,416.0 165.0,416.3 160.1,415.7C155.2,415.1 158.1,415.5 153.4,413.6C148.7,411.7 149.1,415.5 146.0,410.0C142.9,404.5 142.4,402.3 144.0,397.0Z" fill="#eeeeee"/><path d="M146.0,398.3C147.7,393.6 148.4,397.0 151.9,395.8C155.5,394.6 153.5,394.8 156.7,394.7C159.9,394.5 158.5,394.7 161.4,395.2C164.4,395.7 163.3,394.8 165.6,396.3C167.9,397.7 166.3,397.5 168.2,399.5C170.2,401.6 169.6,400.7 171.6,402.5C173.5,404.4 173.0,403.2 174.2,405.1C175.4,406.9 175.1,405.9 175.2,408.0C175.3,410.1 175.4,409.6 174.6,411.4C173.7,413.1 175.0,412.0 172.7,413.2C170.5,414.4 171.9,414.1 167.8,414.8C163.6,415.5 164.8,415.8 160.1,415.3C155.5,414.8 158.1,415.2 153.7,413.4C149.2,411.6 149.4,414.9 146.9,409.9C144.3,404.8 144.3,403.0 146.0,398.3Z" fill="#c6c6c6"/><path d="M147.8,399.4C149.6,395.2 149.9,398.3 153.1,397.3C156.2,396.2 154.5,396.5 157.3,396.3C160.0,396.2 158.8,396.3 161.4,396.7C164.0,397.1 163.0,396.4 165.1,397.6C167.2,398.7 165.7,398.5 167.7,400.2C169.6,402.0 169.0,401.2 171.0,402.8C172.9,404.5 172.3,403.5 173.5,405.2C174.7,406.9 174.4,406.0 174.5,408.0C174.6,410.0 174.6,409.5 173.7,411.1C172.9,412.8 174.1,411.8 172.0,412.8C169.8,413.9 171.3,413.7 167.4,414.4C163.4,415.1 164.7,415.3 160.2,414.9C155.7,414.5 158.1,414.9 153.9,413.2C149.7,411.5 149.7,414.4 147.7,409.8C145.6,405.2 146.0,403.6 147.8,399.4Z" fill="#989898"/><path d="M149.7,400.6C151.6,397.0 151.5,399.7 154.3,398.8C157.0,398.0 155.5,398.3 157.8,398.1C160.2,397.9 159.1,398.1 161.3,398.3C163.6,398.6 162.6,398.1 164.5,399.0C166.4,399.8 165.1,399.5 167.0,400.9C169.0,402.3 168.4,401.6 170.4,403.1C172.3,404.6 171.7,403.7 172.8,405.3C173.9,407.0 173.7,406.1 173.7,408.0C173.7,409.8 173.7,409.4 172.8,410.9C172.0,412.4 173.1,411.4 171.1,412.5C169.2,413.5 170.6,413.3 166.9,414.0C163.3,414.7 164.5,414.8 160.2,414.5C156.0,414.2 158.1,414.6 154.2,413.0C150.3,411.4 150.0,413.8 148.5,409.6C147.0,405.5 147.8,404.2 149.7,400.6Z" fill="#686868"/><path d="M151.8,401.9C153.8,399.0 153.3,401.2 155.6,400.6C157.8,399.9 156.6,400.2 158.5,400.0C160.4,399.9 159.5,400.0 161.3,400.1C163.1,400.3 162.2,400.0 163.9,400.5C165.6,401.0 164.4,400.7 166.3,401.7C168.3,402.7 167.8,402.2 169.7,403.5C171.6,404.7 171.0,404.0 172.0,405.5C173.1,407.0 172.9,406.2 172.9,408.0C172.8,409.7 172.8,409.3 171.9,410.6C171.0,412.0 172.0,411.1 170.2,412.1C168.4,413.0 169.8,412.8 166.5,413.5C163.1,414.2 164.3,414.3 160.3,414.1C156.3,413.8 158.1,414.3 154.5,412.8C150.8,411.3 150.3,413.1 149.4,409.5C148.5,405.9 149.7,404.9 151.8,401.9Z" fill="#3c3c3c"/><ellipse cx="161.0" cy="407.8" rx="11.0" ry="5.8" fill="#1c1c1c"/><ellipse cx="160.1" cy="407.6" rx="9.0" ry="5.8" fill="#1e1e1e" stroke="#c4c4c4" stroke-width="1.0"/><ellipse cx="160.1" cy="407.6" rx="6.1" ry="3.9" fill="#282828" stroke="#b4b4b4" stroke-width="1.0"/><ellipse cx="160.1" cy="407.6" rx="3.4" ry="2.2" fill="#1e1e1e" stroke="#9c9c9c" stroke-width="0.9"/><ellipse cx="160.1" cy="407.6" rx="1.2" ry="0.8" fill="#000"/></g><path d="M144.0,397.0C145.6,391.7 146.7,395.5 150.7,394.1C154.7,392.7 152.5,393.0 156.1,392.8C159.7,392.6 158.1,392.8 161.5,393.5C164.9,394.2 163.7,393.0 166.2,394.8C168.7,396.6 166.9,396.3 168.9,398.8C170.9,401.3 170.2,400.2 172.2,402.2C174.2,404.2 173.6,403.0 174.9,404.9C176.2,406.8 175.8,405.8 176.0,408.0C176.2,410.2 176.3,409.7 175.5,411.6C174.7,413.5 176.0,412.4 173.6,413.6C171.2,414.8 172.7,414.6 168.2,415.3C163.7,416.0 165.0,416.3 160.1,415.7C155.2,415.1 158.1,415.5 153.4,413.6C148.7,411.7 149.1,415.5 146.0,410.0C142.9,404.5 142.4,402.3 144.0,397.0Z" fill="none" stroke="#000" stroke-width="2" stroke-linejoin="round"/>
<path d="M189.0,404.3C190.1,404.1 191.0,405.8 194.4,405.3C197.8,404.8 195.7,404.7 199.1,402.9C202.5,401.1 201.3,401.0 204.5,399.9C207.7,398.8 206.5,398.7 208.6,399.5C210.7,400.3 210.3,400.0 210.7,402.2C211.1,404.4 211.5,403.5 209.9,406.2C208.3,408.9 208.8,408.3 205.9,410.3C203.0,412.3 203.9,412.3 201.2,412.3C198.5,412.3 199.8,411.9 197.8,410.3C195.8,408.7 197.4,409.1 195.1,407.6C192.8,406.1 193.0,406.9 191.0,405.8C189.0,404.7 187.9,404.5 189.0,404.3Z" fill="#bdbdbd" stroke="#000" stroke-width="2.00" stroke-linejoin="round"/>
</g>
<path d="M175.30,417.30 V386.10 H241.00" fill="none" stroke="#111" stroke-width="1.4"/>
<text x="239.40" y="415.80" font-size="12.4" font-weight="bold" text-anchor="end">6.39</text>
<g clip-path="url(#cp32)">
<clipPath id="b18"><path d="M236.0,403.0C236.6,398.7 238.1,398.6 241.7,396.0C245.3,393.4 242.8,396.3 246.7,395.1C250.6,393.9 249.0,393.4 253.5,392.4C258.0,391.4 256.2,391.6 260.2,392.0C264.2,392.4 261.1,393.0 265.6,393.7C270.1,394.4 267.8,393.5 273.6,394.2C279.4,394.9 276.3,394.8 283.0,395.8C289.7,396.8 287.9,396.0 293.8,397.1C299.7,398.2 297.0,397.3 300.6,399.1C304.2,400.9 303.0,400.2 304.6,402.5C306.2,404.8 305.7,403.7 305.3,405.9C304.9,408.1 305.8,407.4 303.3,409.2C300.8,411.0 303.3,410.3 297.9,411.2C292.5,412.1 295.2,411.4 287.1,411.9C279.0,412.4 282.6,412.4 273.6,412.6C264.6,412.8 268.7,413.1 260.2,412.6C251.7,412.1 254.8,412.4 248.1,411.2C241.4,410.0 244.0,411.7 240.0,409.0C236.0,406.3 235.4,407.3 236.0,403.0Z"/></clipPath><g clip-path="url(#b18)"><path d="M236.0,403.0C236.6,398.7 238.1,398.6 241.7,396.0C245.3,393.4 242.8,396.3 246.7,395.1C250.6,393.9 249.0,393.4 253.5,392.4C258.0,391.4 256.2,391.6 260.2,392.0C264.2,392.4 261.1,393.0 265.6,393.7C270.1,394.4 267.8,393.5 273.6,394.2C279.4,394.9 276.3,394.8 283.0,395.8C289.7,396.8 287.9,396.0 293.8,397.1C299.7,398.2 297.0,397.3 300.6,399.1C304.2,400.9 303.0,400.2 304.6,402.5C306.2,404.8 305.7,403.7 305.3,405.9C304.9,408.1 305.8,407.4 303.3,409.2C300.8,411.0 303.3,410.3 297.9,411.2C292.5,412.1 295.2,411.4 287.1,411.9C279.0,412.4 282.6,412.4 273.6,412.6C264.6,412.8 268.7,413.1 260.2,412.6C251.7,412.1 254.8,412.4 248.1,411.2C241.4,410.0 244.0,411.7 240.0,409.0C236.0,406.3 235.4,407.3 236.0,403.0Z" fill="#eeeeee"/><path d="M237.9,403.1C239.0,399.2 241.0,399.3 244.8,397.0C248.7,394.6 245.8,397.2 249.4,396.2C253.1,395.2 251.7,394.8 255.8,393.9C259.9,393.1 258.2,393.3 261.7,393.6C265.2,393.9 262.4,394.4 266.4,394.9C270.3,395.5 268.3,394.8 273.5,395.3C278.8,395.9 275.9,395.8 282.1,396.6C288.3,397.5 286.6,396.8 292.1,397.8C297.7,398.7 295.0,397.9 298.8,399.5C302.6,401.1 301.5,400.5 303.5,402.6C305.4,404.7 305.1,403.7 304.6,405.9C304.2,408.0 304.8,407.4 302.1,409.1C299.5,410.7 301.9,410.1 296.7,410.9C291.5,411.8 294.2,411.2 286.6,411.7C278.9,412.1 282.1,412.1 273.6,412.3C265.0,412.5 268.9,412.7 260.9,412.2C252.8,411.8 255.8,412.0 249.3,410.9C242.9,409.8 245.3,411.4 241.5,408.8C237.7,406.2 236.8,407.1 237.9,403.1Z" fill="#c6c6c6"/><path d="M239.7,403.2C241.3,399.6 243.6,399.9 247.7,397.8C251.7,395.8 248.5,398.0 251.9,397.1C255.3,396.3 254.1,396.0 257.9,395.3C261.6,394.6 260.0,394.8 263.1,395.0C266.2,395.3 263.6,395.6 267.1,396.1C270.6,396.5 268.7,395.9 273.5,396.4C278.2,396.8 275.6,396.7 281.4,397.4C287.1,398.1 285.4,397.5 290.6,398.4C295.9,399.2 293.2,398.5 297.2,399.9C301.1,401.3 300.2,400.7 302.5,402.7C304.8,404.7 304.5,403.8 304.0,405.9C303.6,408.0 303.9,407.3 301.1,408.9C298.3,410.5 300.6,409.8 295.5,410.7C290.5,411.5 293.4,411.0 286.1,411.4C278.7,411.9 281.8,411.9 273.6,412.0C265.3,412.2 269.1,412.4 261.4,411.9C253.7,411.5 256.6,411.7 250.5,410.7C244.3,409.6 246.5,411.2 242.9,408.7C239.3,406.2 238.1,406.9 239.7,403.2Z" fill="#989898"/><path d="M241.5,403.4C243.6,400.1 246.4,400.5 250.7,398.7C255.0,397.0 251.3,398.8 254.4,398.2C257.6,397.5 256.7,397.3 260.0,396.8C263.4,396.3 261.9,396.4 264.5,396.6C267.1,396.7 264.9,397.0 267.8,397.3C270.8,397.6 269.2,397.1 273.4,397.4C277.7,397.8 275.3,397.7 280.5,398.2C285.7,398.7 284.1,398.3 289.1,399.0C294.0,399.7 291.3,399.0 295.4,400.3C299.6,401.6 298.8,400.9 301.4,402.8C304.1,404.7 303.9,403.9 303.4,405.9C302.9,407.9 303.0,407.3 300.0,408.8C297.0,410.3 299.2,409.6 294.4,410.4C289.5,411.2 292.5,410.7 285.5,411.2C278.6,411.6 281.4,411.6 273.5,411.7C265.7,411.9 269.4,412.0 262.1,411.6C254.8,411.1 257.5,411.4 251.6,410.4C245.7,409.4 247.7,410.9 244.3,408.5C240.9,406.2 239.4,406.6 241.5,403.4Z" fill="#686868"/><path d="M243.5,403.5C246.2,400.6 249.4,401.1 254.0,399.7C258.6,398.3 254.5,399.7 257.3,399.3C260.1,398.9 259.5,398.8 262.5,398.4C265.4,398.1 264.0,398.2 266.1,398.2C268.2,398.3 266.2,398.4 268.7,398.6C271.1,398.7 269.7,398.5 273.4,398.6C277.0,398.8 275.0,398.7 279.6,399.1C284.3,399.4 282.7,399.2 287.3,399.7C292.0,400.3 289.2,399.7 293.5,400.7C297.9,401.8 297.2,401.2 300.3,402.9C303.3,404.6 303.2,404.0 302.7,405.9C302.2,407.8 302.0,407.2 298.8,408.6C295.6,410.1 297.7,409.3 293.1,410.1C288.5,410.9 291.5,410.5 285.0,410.9C278.4,411.4 280.9,411.3 273.5,411.4C266.1,411.5 269.6,411.6 262.7,411.2C255.9,410.7 258.5,411.0 252.9,410.1C247.3,409.2 249.1,410.6 245.9,408.4C242.8,406.2 240.8,406.4 243.5,403.5Z" fill="#3c3c3c"/><ellipse cx="273.0" cy="405.5" rx="29.0" ry="5.6" fill="#1c1c1c"/><ellipse cx="266.0" cy="405.6" rx="20.5" ry="5.6" fill="#1e1e1e" stroke="#c4c4c4" stroke-width="1.0"/><ellipse cx="266.0" cy="405.6" rx="13.9" ry="3.8" fill="#282828" stroke="#b4b4b4" stroke-width="1.0"/><ellipse cx="266.0" cy="405.6" rx="7.8" ry="2.1" fill="#1e1e1e" stroke="#9c9c9c" stroke-width="0.9"/><ellipse cx="266.0" cy="405.6" rx="2.7" ry="0.7" fill="#000"/><ellipse cx="257" cy="406" rx="6" ry="1.4" fill="#000"/><ellipse cx="275.5" cy="405.3" rx="5" ry="1.1" fill="#ddd"/><circle cx="297.6" cy="405" r="3.3" fill="#333" stroke="#bbb" stroke-width="0.9"/><circle cx="297.6" cy="405" r="1.6" fill="#000"/></g><path d="M236.0,403.0C236.6,398.7 238.1,398.6 241.7,396.0C245.3,393.4 242.8,396.3 246.7,395.1C250.6,393.9 249.0,393.4 253.5,392.4C258.0,391.4 256.2,391.6 260.2,392.0C264.2,392.4 261.1,393.0 265.6,393.7C270.1,394.4 267.8,393.5 273.6,394.2C279.4,394.9 276.3,394.8 283.0,395.8C289.7,396.8 287.9,396.0 293.8,397.1C299.7,398.2 297.0,397.3 300.6,399.1C304.2,400.9 303.0,400.2 304.6,402.5C306.2,404.8 305.7,403.7 305.3,405.9C304.9,408.1 305.8,407.4 303.3,409.2C300.8,411.0 303.3,410.3 297.9,411.2C292.5,412.1 295.2,411.4 287.1,411.9C279.0,412.4 282.6,412.4 273.6,412.6C264.6,412.8 268.7,413.1 260.2,412.6C251.7,412.1 254.8,412.4 248.1,411.2C241.4,410.0 244.0,411.7 240.0,409.0C236.0,406.3 235.4,407.3 236.0,403.0Z" fill="none" stroke="#000" stroke-width="2" stroke-linejoin="round"/>
</g>
<path d="M267.00,417.30 V386.60 H331.50" fill="none" stroke="#111" stroke-width="1.4"/>
<text x="329.90" y="415.80" font-size="12.4" font-weight="bold" text-anchor="end">52</text>
<g clip-path="url(#cp33)">
<clipPath id="b19"><path d="M335.1,405.2C335.3,402.4 335.1,403.4 337.4,400.5C339.7,397.6 338.7,398.7 342.1,396.4C345.5,394.1 343.5,394.6 347.5,393.7C351.5,392.8 350.4,394.1 354.2,393.7C358.0,393.3 355.3,392.2 358.9,392.4C362.5,392.6 360.7,393.8 365.0,394.2C369.3,394.6 366.8,393.3 371.7,393.7C376.6,394.1 374.9,393.9 379.8,395.5C384.7,397.1 382.7,396.4 386.5,398.5C390.3,400.6 388.9,399.6 391.2,401.8C393.5,404.0 393.5,402.7 393.5,405.2C393.5,407.7 394.4,407.1 391.2,409.2C388.0,411.3 390.7,410.3 383.8,411.6C376.9,412.9 380.3,412.5 370.4,413.0C360.5,413.5 363.6,413.5 354.2,413.0C344.8,412.5 347.9,412.9 342.1,411.6C336.3,410.3 339.0,411.1 336.7,409.0C334.4,406.9 334.9,408.0 335.1,405.2Z"/></clipPath><g clip-path="url(#b19)"><path d="M335.1,405.2C335.3,402.4 335.1,403.4 337.4,400.5C339.7,397.6 338.7,398.7 342.1,396.4C345.5,394.1 343.5,394.6 347.5,393.7C351.5,392.8 350.4,394.1 354.2,393.7C358.0,393.3 355.3,392.2 358.9,392.4C362.5,392.6 360.7,393.8 365.0,394.2C369.3,394.6 366.8,393.3 371.7,393.7C376.6,394.1 374.9,393.9 379.8,395.5C384.7,397.1 382.7,396.4 386.5,398.5C390.3,400.6 388.9,399.6 391.2,401.8C393.5,404.0 393.5,402.7 393.5,405.2C393.5,407.7 394.4,407.1 391.2,409.2C388.0,411.3 390.7,410.3 383.8,411.6C376.9,412.9 380.3,412.5 370.4,413.0C360.5,413.5 363.6,413.5 354.2,413.0C344.8,412.5 347.9,412.9 342.1,411.6C336.3,410.3 339.0,411.1 336.7,409.0C334.4,406.9 334.9,408.0 335.1,405.2Z" fill="#eeeeee"/><path d="M336.0,405.2C336.4,402.5 336.2,403.5 338.8,400.8C341.4,398.1 340.4,399.2 343.9,397.2C347.3,395.3 345.3,395.7 349.0,394.9C352.8,394.2 351.6,395.3 355.0,394.9C358.4,394.5 356.0,393.7 359.3,393.8C362.5,394.0 360.9,394.9 364.8,395.3C368.6,395.6 366.3,394.5 370.8,394.9C375.3,395.3 373.6,395.1 378.2,396.4C382.9,397.8 381.0,397.2 384.8,399.0C388.5,400.9 387.2,400.0 389.5,402.0C391.9,404.1 391.8,402.9 391.9,405.2C391.9,407.6 392.7,407.0 389.7,409.0C386.6,411.0 389.3,410.1 382.8,411.3C376.3,412.6 379.6,412.3 370.1,412.7C360.7,413.2 363.5,413.2 354.5,412.7C345.5,412.3 348.6,412.6 343.0,411.3C337.4,410.1 340.0,410.9 337.7,408.9C335.3,406.8 335.6,407.9 336.0,405.2Z" fill="#c6c6c6"/><path d="M336.8,405.2C337.3,402.7 337.2,403.5 340.1,401.1C342.9,398.6 342.0,399.6 345.4,397.9C348.9,396.3 347.0,396.7 350.4,396.1C353.9,395.4 352.7,396.3 355.8,396.0C358.8,395.7 356.7,395.1 359.6,395.1C362.6,395.2 361.1,396.0 364.6,396.3C368.0,396.5 365.9,395.7 370.0,396.0C374.1,396.3 372.4,396.1 376.8,397.3C381.2,398.4 379.4,397.9 383.2,399.5C386.9,401.2 385.6,400.3 388.1,402.2C390.5,404.2 390.4,403.1 390.4,405.3C390.5,407.5 391.2,406.9 388.3,408.9C385.4,410.8 388.0,409.8 381.9,411.1C375.7,412.3 378.9,412.0 369.9,412.5C360.8,413.0 363.4,413.0 354.8,412.5C346.1,412.0 349.2,412.4 343.8,411.1C338.4,409.9 340.9,410.7 338.6,408.8C336.2,406.8 336.3,407.8 336.8,405.2Z" fill="#989898"/><path d="M337.7,405.3C338.3,402.8 338.2,403.5 341.4,401.3C344.5,399.2 343.6,400.1 347.1,398.7C350.6,397.3 348.7,397.8 351.9,397.2C355.0,396.7 353.8,397.4 356.5,397.1C359.3,396.9 357.4,396.5 360.0,396.5C362.6,396.6 361.3,397.1 364.3,397.3C367.4,397.5 365.4,396.8 369.1,397.1C372.8,397.4 371.2,397.2 375.3,398.2C379.5,399.1 377.8,398.6 381.5,400.0C385.2,401.5 384.0,400.7 386.5,402.5C389.0,404.2 388.8,403.2 388.9,405.3C389.0,407.4 389.5,406.8 386.8,408.7C384.2,410.5 386.6,409.6 380.9,410.8C375.1,412.0 378.2,411.8 369.6,412.3C361.0,412.8 363.3,412.7 355.0,412.3C346.7,411.8 349.9,412.1 344.7,410.9C339.5,409.7 341.8,410.5 339.5,408.7C337.1,406.8 337.0,407.7 337.7,405.3Z" fill="#686868"/><path d="M338.6,405.3C339.4,403.0 339.4,403.6 342.9,401.7C346.3,399.7 345.4,400.6 349.0,399.6C352.5,398.5 350.7,398.9 353.5,398.6C356.3,398.2 355.1,398.6 357.4,398.4C359.7,398.2 358.2,398.0 360.4,398.0C362.6,398.0 361.5,398.3 364.1,398.4C366.7,398.5 364.9,398.2 368.1,398.4C371.3,398.6 369.9,398.4 373.7,399.1C377.6,399.9 376.0,399.4 379.7,400.6C383.4,401.8 382.2,401.1 384.8,402.7C387.3,404.3 387.1,403.4 387.2,405.3C387.4,407.3 387.7,406.8 385.2,408.5C382.8,410.2 385.1,409.3 379.8,410.5C374.5,411.7 377.5,411.5 369.3,412.0C361.2,412.5 363.2,412.5 355.4,412.0C347.5,411.5 350.6,411.7 345.7,410.6C340.7,409.4 342.9,410.3 340.5,408.5C338.2,406.8 337.8,407.6 338.6,405.3Z" fill="#3c3c3c"/><ellipse cx="362.5" cy="405.8" rx="23.0" ry="6.2" fill="#1c1c1c"/><ellipse cx="361.0" cy="405.9" rx="20.0" ry="6.2" fill="#1e1e1e" stroke="#c4c4c4" stroke-width="1.0"/><ellipse cx="361.0" cy="405.9" rx="13.6" ry="4.2" fill="#282828" stroke="#b4b4b4" stroke-width="1.0"/><ellipse cx="361.0" cy="405.9" rx="7.6" ry="2.4" fill="#1e1e1e" stroke="#9c9c9c" stroke-width="0.9"/><ellipse cx="361.0" cy="405.9" rx="2.6" ry="0.8" fill="#000"/></g><path d="M335.1,405.2C335.3,402.4 335.1,403.4 337.4,400.5C339.7,397.6 338.7,398.7 342.1,396.4C345.5,394.1 343.5,394.6 347.5,393.7C351.5,392.8 350.4,394.1 354.2,393.7C358.0,393.3 355.3,392.2 358.9,392.4C362.5,392.6 360.7,393.8 365.0,394.2C369.3,394.6 366.8,393.3 371.7,393.7C376.6,394.1 374.9,393.9 379.8,395.5C384.7,397.1 382.7,396.4 386.5,398.5C390.3,400.6 388.9,399.6 391.2,401.8C393.5,404.0 393.5,402.7 393.5,405.2C393.5,407.7 394.4,407.1 391.2,409.2C388.0,411.3 390.7,410.3 383.8,411.6C376.9,412.9 380.3,412.5 370.4,413.0C360.5,413.5 363.6,413.5 354.2,413.0C344.8,412.5 347.9,412.9 342.1,411.6C336.3,410.3 339.0,411.1 336.7,409.0C334.4,406.9 334.9,408.0 335.1,405.2Z" fill="none" stroke="#000" stroke-width="2" stroke-linejoin="round"/>
</g>
<path d="M357.00,417.30 V386.00 H422.00" fill="none" stroke="#111" stroke-width="1.4"/>
<text x="420.40" y="415.80" font-size="12.4" font-weight="bold" text-anchor="end">64.7</text>
<g clip-path="url(#cp34)">
<clipPath id="b20"><path d="M416.0,400.0C418.0,395.9 418.0,396.5 422.0,393.7C426.0,390.9 423.8,392.5 428.1,391.5C432.4,390.5 430.8,390.5 434.8,390.7C438.8,390.9 436.6,390.8 440.2,392.0C443.8,393.2 442.5,392.8 445.6,394.4C448.7,396.0 446.5,395.4 449.6,396.8C452.7,398.2 451.9,397.7 455.0,398.5C458.1,399.3 456.3,398.0 459.0,399.1C461.7,400.2 460.6,400.6 463.1,401.8C465.6,403.0 463.9,403.4 466.4,402.8C468.9,402.2 467.6,401.6 470.5,400.1C473.4,398.6 472.1,398.7 475.2,398.2C478.3,397.7 477.2,397.5 479.9,398.5C482.6,399.5 481.8,399.2 483.3,401.2C484.8,403.2 484.5,402.4 484.3,404.5C484.1,406.6 484.7,406.0 482.6,407.6C480.5,409.2 481.7,408.7 477.9,409.2C474.1,409.7 475.1,409.4 471.1,409.0C467.1,408.6 468.9,408.5 465.8,407.9C462.7,407.3 464.4,406.8 461.7,407.2C459.0,407.6 461.7,407.9 457.7,409.2C453.7,410.5 455.4,410.1 449.6,411.2C443.8,412.3 446.5,412.1 440.2,412.6C433.9,413.1 436.9,413.5 430.8,412.6C424.7,411.7 426.9,412.2 422.0,410.0C417.1,407.8 418.0,409.3 416.0,406.0C414.0,402.7 414.0,404.1 416.0,400.0Z"/></clipPath><g clip-path="url(#b20)"><path d="M416.0,400.0C418.0,395.9 418.0,396.5 422.0,393.7C426.0,390.9 423.8,392.5 428.1,391.5C432.4,390.5 430.8,390.5 434.8,390.7C438.8,390.9 436.6,390.8 440.2,392.0C443.8,393.2 442.5,392.8 445.6,394.4C448.7,396.0 446.5,395.4 449.6,396.8C452.7,398.2 451.9,397.7 455.0,398.5C458.1,399.3 456.3,398.0 459.0,399.1C461.7,400.2 460.6,400.6 463.1,401.8C465.6,403.0 463.9,403.4 466.4,402.8C468.9,402.2 467.6,401.6 470.5,400.1C473.4,398.6 472.1,398.7 475.2,398.2C478.3,397.7 477.2,397.5 479.9,398.5C482.6,399.5 481.8,399.2 483.3,401.2C484.8,403.2 484.5,402.4 484.3,404.5C484.1,406.6 484.7,406.0 482.6,407.6C480.5,409.2 481.7,408.7 477.9,409.2C474.1,409.7 475.1,409.4 471.1,409.0C467.1,408.6 468.9,408.5 465.8,407.9C462.7,407.3 464.4,406.8 461.7,407.2C459.0,407.6 461.7,407.9 457.7,409.2C453.7,410.5 455.4,410.1 449.6,411.2C443.8,412.3 446.5,412.1 440.2,412.6C433.9,413.1 436.9,413.5 430.8,412.6C424.7,411.7 426.9,412.2 422.0,410.0C417.1,407.8 418.0,409.3 416.0,406.0C414.0,402.7 414.0,404.1 416.0,400.0Z" fill="#eeeeee"/><path d="M417.4,400.5C419.5,396.8 419.5,397.4 423.2,394.9C427.0,392.4 424.9,393.9 428.7,393.0C432.6,392.2 431.1,392.2 434.7,392.4C438.3,392.5 436.3,392.4 439.6,393.4C442.8,394.5 441.6,394.1 444.5,395.5C447.4,396.9 445.4,396.4 448.2,397.6C451.0,398.9 450.2,398.5 452.9,399.2C455.6,400.0 454.0,398.8 456.2,399.8C458.5,400.9 457.7,401.2 459.7,402.3C461.8,403.4 460.4,403.6 462.4,403.2C464.4,402.7 463.3,402.2 465.6,400.9C467.9,399.6 466.8,399.7 469.3,399.3C471.8,398.9 470.9,398.7 473.1,399.6C475.3,400.4 474.7,400.2 475.9,401.9C477.1,403.6 476.9,402.9 476.7,404.7C476.6,406.5 477.1,406.0 475.4,407.3C473.7,408.7 474.7,408.3 471.6,408.7C468.5,409.1 469.4,408.9 466.1,408.6C462.9,408.2 464.4,408.2 461.9,407.6C459.4,407.1 460.8,406.6 458.6,407.0C456.5,407.5 458.7,407.6 455.4,408.9C452.0,410.1 453.7,409.7 448.6,410.9C443.5,412.0 446.0,411.9 440.1,412.5C434.1,413.0 436.7,413.4 430.8,412.6C424.9,411.7 426.9,412.1 422.3,409.9C417.7,407.7 418.7,409.1 417.1,406.0C415.5,402.8 415.4,404.2 417.4,400.5Z" fill="#c6c6c6"/><path d="M418.8,400.9C420.8,397.6 420.8,398.2 424.3,396.0C427.8,393.9 425.9,395.1 429.3,394.4C432.7,393.7 431.4,393.7 434.6,393.9C437.9,394.0 436.0,393.9 439.0,394.7C441.9,395.6 440.8,395.3 443.5,396.5C446.1,397.7 444.4,397.2 446.9,398.3C449.4,399.5 448.7,399.2 451.0,399.9C453.3,400.6 451.9,399.6 453.8,400.5C455.6,401.4 455.0,401.7 456.6,402.7C458.3,403.7 457.3,403.9 458.8,403.5C460.3,403.1 459.4,402.6 461.2,401.6C463.0,400.5 462.1,400.6 464.0,400.3C466.0,399.9 465.3,399.8 467.0,400.5C468.8,401.3 468.3,401.1 469.2,402.5C470.2,404.0 470.1,403.3 469.9,404.9C469.8,406.4 470.2,406.0 468.9,407.1C467.5,408.2 468.3,407.9 465.9,408.3C463.5,408.6 464.2,408.5 461.7,408.2C459.2,407.9 460.4,407.8 458.4,407.4C456.5,407.0 457.6,406.5 455.9,406.9C454.2,407.3 456.0,407.4 453.3,408.6C450.5,409.8 452.1,409.3 447.7,410.5C443.2,411.8 445.6,411.7 440.0,412.3C434.3,413.0 436.6,413.4 430.8,412.5C425.0,411.7 426.8,412.0 422.6,409.8C418.3,407.6 419.4,408.9 418.1,406.0C416.8,403.0 416.7,404.2 418.8,400.9Z" fill="#989898"/><path d="M420.1,401.3C422.2,398.4 422.2,399.0 425.5,397.2C428.7,395.4 426.9,396.5 429.9,395.9C432.9,395.3 431.7,395.4 434.5,395.4C437.4,395.5 435.7,395.4 438.4,396.1C441.0,396.8 440.0,396.5 442.4,397.5C444.9,398.5 443.4,398.1 445.6,399.1C447.8,400.1 447.2,399.9 449.0,400.6C450.9,401.3 449.7,400.4 451.1,401.2C452.6,402.1 452.1,402.2 453.4,403.1C454.7,404.0 453.9,404.1 455.0,403.9C456.0,403.6 455.4,403.1 456.5,402.3C457.7,401.4 457.1,401.5 458.5,401.3C459.8,401.1 459.3,400.9 460.6,401.6C461.8,402.2 461.5,402.0 462.2,403.2C462.9,404.3 462.8,403.8 462.7,405.1C462.7,406.3 462.9,405.9 462.0,406.8C461.1,407.8 461.6,407.5 459.9,407.8C458.3,408.1 458.7,408.0 457.0,407.8C455.3,407.6 456.1,407.5 454.7,407.2C453.4,406.8 454.2,406.4 453.0,406.8C451.8,407.1 453.2,407.1 451.1,408.3C449.0,409.4 450.5,408.9 446.7,410.2C443.0,411.5 445.1,411.4 439.8,412.2C434.5,413.0 436.5,413.3 430.9,412.5C425.2,411.6 426.8,411.9 422.8,409.7C418.9,407.5 420.0,408.8 419.1,406.0C418.2,403.2 418.0,404.3 420.1,401.3Z" fill="#686868"/><path d="M421.7,401.8C423.8,399.3 423.8,399.9 426.7,398.5C429.7,397.0 428.0,397.9 430.6,397.5C433.1,397.0 432.1,397.1 434.5,397.2C436.8,397.2 435.4,397.1 437.7,397.6C440.0,398.1 439.1,397.9 441.3,398.7C443.4,399.4 442.3,399.1 444.1,400.0C446.0,400.9 445.5,400.7 446.8,401.3C448.2,402.0 447.2,401.2 448.2,402.0C449.3,402.7 449.0,402.9 449.9,403.6C450.7,404.4 450.2,404.4 450.7,404.3C451.3,404.1 450.9,403.7 451.4,403.1C451.9,402.5 451.6,402.6 452.3,402.4C453.0,402.3 452.7,402.2 453.5,402.7C454.2,403.2 454.0,403.0 454.5,403.9C454.9,404.7 454.8,404.4 454.8,405.3C454.8,406.2 454.9,405.9 454.4,406.6C453.9,407.2 454.2,407.0 453.3,407.3C452.4,407.6 452.7,407.5 451.8,407.3C450.9,407.2 451.3,407.1 450.7,406.9C450.0,406.7 450.5,406.3 449.8,406.6C449.1,406.9 450.0,406.8 448.6,407.9C447.3,409.0 448.6,408.5 445.7,409.8C442.7,411.2 444.6,411.2 439.7,412.0C434.8,412.9 436.4,413.3 430.9,412.4C425.4,411.6 426.7,411.8 423.2,409.6C419.6,407.4 420.8,408.5 420.3,406.0C419.8,403.4 419.5,404.3 421.7,401.8Z" fill="#3c3c3c"/><ellipse cx="434.0" cy="405.8" rx="12.5" ry="6.8" fill="#1c1c1c"/><ellipse cx="432.8" cy="405.5" rx="11.0" ry="6.8" fill="#1e1e1e" stroke="#c4c4c4" stroke-width="1.0"/><ellipse cx="432.8" cy="405.5" rx="7.5" ry="4.6" fill="#282828" stroke="#b4b4b4" stroke-width="1.0"/><ellipse cx="432.8" cy="405.5" rx="4.2" ry="2.6" fill="#1e1e1e" stroke="#9c9c9c" stroke-width="0.9"/><ellipse cx="432.8" cy="405.5" rx="1.4" ry="0.9" fill="#000"/><rect x="447" y="388" width="40" height="28" fill="#909090"/><ellipse cx="456" cy="404.6" rx="11" ry="5.6" fill="url(#rg)"/><ellipse cx="476.5" cy="404" rx="8" ry="5.3" fill="url(#rg)"/></g><path d="M416.0,400.0C418.0,395.9 418.0,396.5 422.0,393.7C426.0,390.9 423.8,392.5 428.1,391.5C432.4,390.5 430.8,390.5 434.8,390.7C438.8,390.9 436.6,390.8 440.2,392.0C443.8,393.2 442.5,392.8 445.6,394.4C448.7,396.0 446.5,395.4 449.6,396.8C452.7,398.2 451.9,397.7 455.0,398.5C458.1,399.3 456.3,398.0 459.0,399.1C461.7,400.2 460.6,400.6 463.1,401.8C465.6,403.0 463.9,403.4 466.4,402.8C468.9,402.2 467.6,401.6 470.5,400.1C473.4,398.6 472.1,398.7 475.2,398.2C478.3,397.7 477.2,397.5 479.9,398.5C482.6,399.5 481.8,399.2 483.3,401.2C484.8,403.2 484.5,402.4 484.3,404.5C484.1,406.6 484.7,406.0 482.6,407.6C480.5,409.2 481.7,408.7 477.9,409.2C474.1,409.7 475.1,409.4 471.1,409.0C467.1,408.6 468.9,408.5 465.8,407.9C462.7,407.3 464.4,406.8 461.7,407.2C459.0,407.6 461.7,407.9 457.7,409.2C453.7,410.5 455.4,410.1 449.6,411.2C443.8,412.3 446.5,412.1 440.2,412.6C433.9,413.1 436.9,413.5 430.8,412.6C424.7,411.7 426.9,412.2 422.0,410.0C417.1,407.8 418.0,409.3 416.0,406.0C414.0,402.7 414.0,404.1 416.0,400.0Z" fill="none" stroke="#000" stroke-width="2" stroke-linejoin="round"/>
</g>
<path d="M447.50,417.30 V386.00 H512.50" fill="none" stroke="#111" stroke-width="1.4"/>
<text x="510.90" y="415.80" font-size="12.4" font-weight="bold" text-anchor="end">14.7</text>
<line x1="60.00" y1="54.50" x2="60.00" y2="417.30" stroke="#9a9a9a" stroke-width="1" stroke-dasharray="1.5 1"/>
<line x1="150.50" y1="54.50" x2="150.50" y2="417.30" stroke="#8a8a8a" stroke-width="1"/>
<line x1="241.00" y1="54.50" x2="241.00" y2="417.30" stroke="#8a8a8a" stroke-width="1"/>
<line x1="331.50" y1="54.50" x2="331.50" y2="417.30" stroke="#8a8a8a" stroke-width="1"/>
<line x1="422.00" y1="54.50" x2="422.00" y2="417.30" stroke="#8a8a8a" stroke-width="1"/>
<line x1="512.50" y1="54.50" x2="512.50" y2="417.30" stroke="#8a8a8a" stroke-width="1"/>
<line x1="60.00" y1="54.50" x2="512.50" y2="54.50" stroke="#8a8a8a" stroke-width="1"/>
<line x1="60.00" y1="145.20" x2="512.50" y2="145.20" stroke="#8a8a8a" stroke-width="1"/>
<line x1="60.00" y1="235.90" x2="512.50" y2="235.90" stroke="#8a8a8a" stroke-width="1"/>
<line x1="60.00" y1="326.60" x2="512.50" y2="326.60" stroke="#8a8a8a" stroke-width="1"/>
<line x1="60.00" y1="417.30" x2="512.50" y2="417.30" stroke="#8a8a8a" stroke-width="1"/>
<text x="41.8" y="66.40" font-size="8.3" fill="#111" textLength="14" lengthAdjust="spacingAndGlyphs">30K</text>
<line x1="57" y1="63.40" x2="60" y2="63.40" stroke="#888" stroke-width="0.8"/>
<text x="41.8" y="93.70" font-size="8.3" fill="#111" textLength="14" lengthAdjust="spacingAndGlyphs">20K</text>
<line x1="57" y1="90.70" x2="60" y2="90.70" stroke="#888" stroke-width="0.8"/>
<text x="41.8" y="121.20" font-size="8.3" fill="#111" textLength="14" lengthAdjust="spacingAndGlyphs">10K</text>
<line x1="57" y1="118.20" x2="60" y2="118.20" stroke="#888" stroke-width="0.8"/>
<path d="M52.2,145.00 L54.1,142.80 L56,145.00" fill="none" stroke="#222" stroke-width="0.9"/>
<text x="41.8" y="157.10" font-size="8.3" fill="#111" textLength="14" lengthAdjust="spacingAndGlyphs">30K</text>
<line x1="57" y1="154.10" x2="60" y2="154.10" stroke="#888" stroke-width="0.8"/>
<text x="41.8" y="184.40" font-size="8.3" fill="#111" textLength="14" lengthAdjust="spacingAndGlyphs">20K</text>
<line x1="57" y1="181.40" x2="60" y2="181.40" stroke="#888" stroke-width="0.8"/>
<text x="41.8" y="211.90" font-size="8.3" fill="#111" textLength="14" lengthAdjust="spacingAndGlyphs">10K</text>
<line x1="57" y1="208.90" x2="60" y2="208.90" stroke="#888" stroke-width="0.8"/>
<path d="M52.2,235.70 L54.1,233.50 L56,235.70" fill="none" stroke="#222" stroke-width="0.9"/>
<text x="41.8" y="247.80" font-size="8.3" fill="#111" textLength="14" lengthAdjust="spacingAndGlyphs">30K</text>
<line x1="57" y1="244.80" x2="60" y2="244.80" stroke="#888" stroke-width="0.8"/>
<text x="41.8" y="275.10" font-size="8.3" fill="#111" textLength="14" lengthAdjust="spacingAndGlyphs">20K</text>
<line x1="57" y1="272.10" x2="60" y2="272.10" stroke="#888" stroke-width="0.8"/>
<text x="41.8" y="302.60" font-size="8.3" fill="#111" textLength="14" lengthAdjust="spacingAndGlyphs">10K</text>
<line x1="57" y1="299.60" x2="60" y2="299.60" stroke="#888" stroke-width="0.8"/>
<path d="M52.2,326.40 L54.1,324.20 L56,326.40" fill="none" stroke="#222" stroke-width="0.9"/>
<text x="41.8" y="338.50" font-size="8.3" fill="#111" textLength="14" lengthAdjust="spacingAndGlyphs">30K</text>
<line x1="57" y1="335.50" x2="60" y2="335.50" stroke="#888" stroke-width="0.8"/>
<text x="41.8" y="365.80" font-size="8.3" fill="#111" textLength="14" lengthAdjust="spacingAndGlyphs">20K</text>
<line x1="57" y1="362.80" x2="60" y2="362.80" stroke="#888" stroke-width="0.8"/>
<text x="41.8" y="393.30" font-size="8.3" fill="#111" textLength="14" lengthAdjust="spacingAndGlyphs">10K</text>
<line x1="57" y1="390.30" x2="60" y2="390.30" stroke="#888" stroke-width="0.8"/>
<text x="52" y="421" font-size="8.3" fill="#111">0</text>
<g clip-path="url(#cl0)" font-size="8.2" fill="#111">
<text x="74.40" y="430.9">0</text>
<text x="81.30" y="430.9">10<tspan dy="-3.3" font-size="5.8">1</tspan></text>
<text x="104.60" y="430.9">10<tspan dy="-3.3" font-size="5.8">2</tspan></text>
<text x="125.40" y="430.9">10<tspan dy="-3.3" font-size="5.8">3</tspan></text>
<text x="144.80" y="430.9">10<tspan dy="-3.3" font-size="5.8">4</tspan></text>
</g>
<line x1="77.00" y1="417.5" x2="77.00" y2="420" stroke="#aaa" stroke-width="0.6"/>
<line x1="82.00" y1="417.5" x2="82.00" y2="420" stroke="#aaa" stroke-width="0.6"/>
<line x1="105.00" y1="417.5" x2="105.00" y2="420" stroke="#aaa" stroke-width="0.6"/>
<line x1="128.00" y1="417.5" x2="128.00" y2="420" stroke="#aaa" stroke-width="0.6"/>
<g clip-path="url(#cl1)" font-size="8.2" fill="#111">
<text x="164.90" y="430.9">0</text>
<text x="171.80" y="430.9">10<tspan dy="-3.3" font-size="5.8">1</tspan></text>
<text x="195.10" y="430.9">10<tspan dy="-3.3" font-size="5.8">2</tspan></text>
<text x="215.90" y="430.9">10<tspan dy="-3.3" font-size="5.8">3</tspan></text>
<text x="235.30" y="430.9">10<tspan dy="-3.3" font-size="5.8">4</tspan></text>
</g>
<line x1="167.50" y1="417.5" x2="167.50" y2="420" stroke="#aaa" stroke-width="0.6"/>
<line x1="172.50" y1="417.5" x2="172.50" y2="420" stroke="#aaa" stroke-width="0.6"/>
<line x1="195.50" y1="417.5" x2="195.50" y2="420" stroke="#aaa" stroke-width="0.6"/>
<line x1="218.50" y1="417.5" x2="218.50" y2="420" stroke="#aaa" stroke-width="0.6"/>
<g clip-path="url(#cl2)" font-size="8.2" fill="#111">
<text x="255.40" y="430.9">0</text>
<text x="262.30" y="430.9">10<tspan dy="-3.3" font-size="5.8">1</tspan></text>
<text x="285.60" y="430.9">10<tspan dy="-3.3" font-size="5.8">2</tspan></text>
<text x="306.40" y="430.9">10<tspan dy="-3.3" font-size="5.8">3</tspan></text>
<text x="325.80" y="430.9">10<tspan dy="-3.3" font-size="5.8">4</tspan></text>
</g>
<line x1="258.00" y1="417.5" x2="258.00" y2="420" stroke="#aaa" stroke-width="0.6"/>
<line x1="263.00" y1="417.5" x2="263.00" y2="420" stroke="#aaa" stroke-width="0.6"/>
<line x1="286.00" y1="417.5" x2="286.00" y2="420" stroke="#aaa" stroke-width="0.6"/>
<line x1="309.00" y1="417.5" x2="309.00" y2="420" stroke="#aaa" stroke-width="0.6"/>
<g clip-path="url(#cl3)" font-size="8.2" fill="#111">
<text x="345.90" y="430.9">0</text>
<text x="352.80" y="430.9">10<tspan dy="-3.3" font-size="5.8">1</tspan></text>
<text x="376.10" y="430.9">10<tspan dy="-3.3" font-size="5.8">2</tspan></text>
<text x="396.90" y="430.9">10<tspan dy="-3.3" font-size="5.8">3</tspan></text>
<text x="416.30" y="430.9">10<tspan dy="-3.3" font-size="5.8">4</tspan></text>
</g>
<line x1="348.50" y1="417.5" x2="348.50" y2="420" stroke="#aaa" stroke-width="0.6"/>
<line x1="353.50" y1="417.5" x2="353.50" y2="420" stroke="#aaa" stroke-width="0.6"/>
<line x1="376.50" y1="417.5" x2="376.50" y2="420" stroke="#aaa" stroke-width="0.6"/>
<line x1="399.50" y1="417.5" x2="399.50" y2="420" stroke="#aaa" stroke-width="0.6"/>
<g clip-path="url(#cl4)" font-size="8.2" fill="#111">
<text x="436.40" y="430.9">0</text>
<text x="443.30" y="430.9">10<tspan dy="-3.3" font-size="5.8">1</tspan></text>
<text x="466.60" y="430.9">10<tspan dy="-3.3" font-size="5.8">2</tspan></text>
<text x="487.40" y="430.9">10<tspan dy="-3.3" font-size="5.8">3</tspan></text>
<text x="506.80" y="430.9">10<tspan dy="-3.3" font-size="5.8">4</tspan></text>
</g>
<line x1="439.00" y1="417.5" x2="439.00" y2="420" stroke="#aaa" stroke-width="0.6"/>
<line x1="444.00" y1="417.5" x2="444.00" y2="420" stroke="#aaa" stroke-width="0.6"/>
<line x1="467.00" y1="417.5" x2="467.00" y2="420" stroke="#aaa" stroke-width="0.6"/>
<line x1="490.00" y1="417.5" x2="490.00" y2="420" stroke="#aaa" stroke-width="0.6"/>
<text x="0" y="497.3" font-size="24" font-weight="bold">B</text>
<path d="M51.2,494.2 H352 V625" fill="none" stroke="#111" stroke-width="1.7"/>
<path d="M51.2,493.4 V625.9" fill="none" stroke="#111" stroke-width="1.9"/>
<path d="M50.3,625 H353.3" fill="none" stroke="#111" stroke-width="1.9"/>
<line x1="47.3" y1="625.00" x2="51.2" y2="625.00" stroke="#111" stroke-width="1.5"/>
<text x="46.2" y="628.20" font-size="9" font-weight="bold" text-anchor="end">0</text>
<line x1="47.3" y1="598.84" x2="51.2" y2="598.84" stroke="#111" stroke-width="1.5"/>
<text x="46.2" y="602.04" font-size="9" font-weight="bold" text-anchor="end">10</text>
<line x1="47.3" y1="572.68" x2="51.2" y2="572.68" stroke="#111" stroke-width="1.5"/>
<text x="46.2" y="575.88" font-size="9" font-weight="bold" text-anchor="end">20</text>
<line x1="47.3" y1="546.52" x2="51.2" y2="546.52" stroke="#111" stroke-width="1.5"/>
<text x="46.2" y="549.72" font-size="9" font-weight="bold" text-anchor="end">30</text>
<line x1="47.3" y1="520.36" x2="51.2" y2="520.36" stroke="#111" stroke-width="1.5"/>
<text x="46.2" y="523.56" font-size="9" font-weight="bold" text-anchor="end">40</text>
<line x1="47.3" y1="494.20" x2="51.2" y2="494.20" stroke="#111" stroke-width="1.5"/>
<text x="46.2" y="497.40" font-size="9" font-weight="bold" text-anchor="end">50</text>
<text transform="translate(32,586.3) rotate(-90)" font-size="10" font-weight="bold" stroke="#000" stroke-width="0.25">% CXCR3<tspan dy="-3.8" font-size="7">+</tspan></text>
<path d="M62.70,615.80 V613.30 M58.40,613.30 H67.00" stroke="#111" stroke-width="1.60" fill="none"/>
<rect x="55.85" y="615.65" width="13.70" height="9.35" fill="#fff" stroke="#111" stroke-width="1.70"/>
<path d="M78.95,590.30 V585.90 M74.65,585.90 H83.25" stroke="#111" stroke-width="1.60" fill="none"/>
<rect x="71.25" y="590.15" width="15.40" height="34.85" fill="#141414" stroke="#111" stroke-width="1.70"/>
<path d="M98.60,577.30 V570.30 M94.30,570.30 H102.90" stroke="#111" stroke-width="1.60" fill="none"/>
<rect x="91.25" y="577.15" width="14.70" height="47.85" fill="url(#chk)" stroke="#111" stroke-width="1.70"/>
<path d="M114.70,613.30 V610.10 M110.40,610.10 H119.00" stroke="#111" stroke-width="1.60" fill="none"/>
<rect x="107.65" y="613.15" width="14.10" height="11.85" fill="#a6a6a6" stroke="#111" stroke-width="1.70"/>
<path d="M63.60,609.50 V580.70 H78.30 V583.30" stroke="#111" stroke-width="1.75" fill="none"/>
<text x="71.40" y="583.00" font-size="11.5" font-weight="bold" text-anchor="middle" fill="#222">*</text>
<path d="M98.50,568.60 V565.10 H114.60 V605.40" stroke="#111" stroke-width="1.75" fill="none"/>
<text x="106.50" y="566.00" font-size="11.5" font-weight="bold" text-anchor="middle" fill="#222">*</text>
<rect x="55.00" y="629.6" width="67.6" height="1.9" fill="#111"/>
<text x="88.20" y="644.2" font-size="11.6" font-weight="bold" text-anchor="middle">CD4</text>
<path d="M137.50,620.30 V617.50 M133.20,617.50 H141.80" stroke="#111" stroke-width="1.60" fill="none"/>
<rect x="130.65" y="620.15" width="13.70" height="4.85" fill="#fff" stroke="#111" stroke-width="1.70"/>
<path d="M153.75,593.80 V592.30 M149.45,592.30 H158.05" stroke="#111" stroke-width="1.60" fill="none"/>
<rect x="146.05" y="593.65" width="15.40" height="31.35" fill="#141414" stroke="#111" stroke-width="1.70"/>
<path d="M173.40,576.80 V566.80 M169.10,566.80 H177.70" stroke="#111" stroke-width="1.60" fill="none"/>
<rect x="166.05" y="576.65" width="14.70" height="48.35" fill="url(#chk)" stroke="#111" stroke-width="1.70"/>
<path d="M189.50,619.20 V616.20 M185.20,616.20 H193.80" stroke="#111" stroke-width="1.60" fill="none"/>
<rect x="182.45" y="619.05" width="14.10" height="5.95" fill="#a6a6a6" stroke="#111" stroke-width="1.70"/>
<path d="M138.40,614.50 V585.30 H153.20 V588.50" stroke="#111" stroke-width="1.75" fill="none"/>
<text x="146.20" y="587.30" font-size="11.5" font-weight="bold" text-anchor="middle" fill="#222">*</text>
<path d="M173.90,563.40 V559.90 H190.40 V612.30" stroke="#111" stroke-width="1.75" fill="none"/>
<text x="181.70" y="562.00" font-size="11.5" font-weight="bold" text-anchor="middle" fill="#222">*</text>
<rect x="129.80" y="629.6" width="67.6" height="1.9" fill="#111"/>
<text x="163.00" y="644.2" font-size="11.6" font-weight="bold" text-anchor="middle">CD8</text>
<path d="M212.50,613.30 V609.80 M208.20,609.80 H216.80" stroke="#111" stroke-width="1.60" fill="none"/>
<rect x="205.65" y="613.15" width="13.70" height="11.85" fill="#fff" stroke="#111" stroke-width="1.70"/>
<path d="M228.75,570.00 V544.10 M224.45,544.10 H233.05" stroke="#111" stroke-width="1.60" fill="none"/>
<rect x="221.05" y="569.85" width="15.40" height="55.15" fill="#141414" stroke="#111" stroke-width="1.70"/>
<path d="M248.40,562.40 V535.40 M244.10,535.40 H252.70" stroke="#111" stroke-width="1.60" fill="none"/>
<rect x="241.05" y="562.25" width="14.70" height="62.75" fill="url(#chk)" stroke="#111" stroke-width="1.70"/>
<path d="M264.50,617.80 V615.00 M260.20,615.00 H268.80" stroke="#111" stroke-width="1.60" fill="none"/>
<rect x="257.45" y="617.65" width="14.10" height="7.35" fill="#a6a6a6" stroke="#111" stroke-width="1.70"/>
<path d="M213.80,605.00 V537.20 H228.00 V539.60" stroke="#111" stroke-width="1.75" fill="none"/>
<text x="221.60" y="539.30" font-size="11.5" font-weight="bold" text-anchor="middle" fill="#222">*</text>
<path d="M247.60,532.30 V529.40 H263.80 V605.30" stroke="#111" stroke-width="1.75" fill="none"/>
<text x="255.70" y="531.10" font-size="11.5" font-weight="bold" text-anchor="middle" fill="#222">*</text>
<rect x="204.80" y="629.6" width="67.6" height="1.9" fill="#111"/>
<text x="238.00" y="644.2" font-size="11.6" font-weight="bold" text-anchor="middle">NK</text>
<path d="M287.40,588.50 V577.80 M283.10,577.80 H291.70" stroke="#111" stroke-width="1.60" fill="none"/>
<rect x="280.55" y="588.35" width="13.70" height="36.65" fill="#fff" stroke="#111" stroke-width="1.70"/>
<path d="M303.65,552.70 V540.60 M299.35,540.60 H307.95" stroke="#111" stroke-width="1.60" fill="none"/>
<rect x="295.95" y="552.55" width="15.40" height="72.45" fill="#141414" stroke="#111" stroke-width="1.70"/>
<path d="M323.30,527.00 V504.60 M319.00,504.60 H327.60" stroke="#111" stroke-width="1.60" fill="none"/>
<rect x="315.95" y="526.85" width="14.70" height="98.15" fill="url(#chk)" stroke="#111" stroke-width="1.70"/>
<path d="M339.40,590.80 V581.00 M335.10,581.00 H343.70" stroke="#111" stroke-width="1.60" fill="none"/>
<rect x="332.35" y="590.65" width="14.10" height="34.35" fill="#a6a6a6" stroke="#111" stroke-width="1.70"/>
<path d="M287.80,572.80 V535.60 H302.00 V538.50" stroke="#111" stroke-width="1.75" fill="none"/>
<text x="295.60" y="537.40" font-size="11.5" font-weight="bold" text-anchor="middle" fill="#222">*</text>
<path d="M322.80,504.40 V501.00 H339.60 V578.00" stroke="#111" stroke-width="1.75" fill="none"/>
<text x="330.60" y="504.80" font-size="11.5" font-weight="bold" text-anchor="middle" fill="#222">*</text>
<rect x="279.70" y="629.6" width="67.6" height="1.9" fill="#111"/>
<text x="312.90" y="644.2" font-size="11.6" font-weight="bold" text-anchor="middle">iNKT</text>
<text x="358" y="497.5" font-size="24" font-weight="bold">C</text>
<rect x="410.2" y="488.5" width="102.3" height="152" fill="none" stroke="#111" stroke-width="2.1"/>
<line x1="405.3" y1="640.50" x2="410.2" y2="640.50" stroke="#111" stroke-width="1.7"/>
<text x="404.3" y="644.10" font-size="10" font-weight="bold" text-anchor="end">0</text>
<line x1="405.3" y1="602.50" x2="410.2" y2="602.50" stroke="#111" stroke-width="1.7"/>
<text x="404.3" y="606.10" font-size="10" font-weight="bold" text-anchor="end">2</text>
<line x1="405.3" y1="564.50" x2="410.2" y2="564.50" stroke="#111" stroke-width="1.7"/>
<text x="404.3" y="568.10" font-size="10" font-weight="bold" text-anchor="end">4</text>
<line x1="405.3" y1="526.50" x2="410.2" y2="526.50" stroke="#111" stroke-width="1.7"/>
<text x="404.3" y="530.10" font-size="10" font-weight="bold" text-anchor="end">6</text>
<line x1="405.3" y1="488.50" x2="410.2" y2="488.50" stroke="#111" stroke-width="1.7"/>
<text x="404.3" y="492.10" font-size="10" font-weight="bold" text-anchor="end">8</text>
<line x1="425.30" y1="640.5" x2="425.30" y2="645.2" stroke="#111" stroke-width="1.6"/>
<line x1="445.80" y1="640.5" x2="445.80" y2="645.2" stroke="#111" stroke-width="1.6"/>
<line x1="476.40" y1="640.5" x2="476.40" y2="645.2" stroke="#111" stroke-width="1.6"/>
<line x1="496.70" y1="640.5" x2="496.70" y2="645.2" stroke="#111" stroke-width="1.6"/>
<text transform="translate(389.3,648) rotate(-90)" font-size="11.8" font-weight="bold" textLength="164" lengthAdjust="spacingAndGlyphs">IFN&#947; (pg/mL X10<tspan dy="-4.2" font-size="7.6">3</tspan><tspan dy="4.2">) (left lobe)</tspan></text>
<path d="M425.15,609.40 V603.00 M419.75,603.00 H430.55" stroke="#111" stroke-width="1.80" fill="none"/>
<rect x="416.05" y="609.35" width="18.20" height="31.15" fill="#fff" stroke="#111" stroke-width="1.90"/>
<path d="M445.90,544.30 V536.40 M440.50,536.40 H451.30" stroke="#111" stroke-width="1.80" fill="none"/>
<rect x="436.15" y="544.25" width="19.50" height="96.25" fill="#141414" stroke="#111" stroke-width="1.90"/>
<path d="M476.10,530.70 V521.20 M470.70,521.20 H481.50" stroke="#111" stroke-width="1.80" fill="none"/>
<rect x="466.55" y="530.65" width="19.10" height="109.85" fill="url(#chk)" stroke="#111" stroke-width="1.90"/>
<path d="M496.85,521.40 V509.00 M491.45,509.00 H502.25" stroke="#111" stroke-width="1.80" fill="none"/>
<rect x="487.55" y="521.35" width="18.60" height="119.15" fill="#a6a6a6" stroke="#111" stroke-width="1.90"/>
<path d="M425.30,599.10 V528.30 H446.10 V536.00" stroke="#111" stroke-width="1.90" fill="none"/>
<text x="436.30" y="528.80" font-size="11.5" font-weight="bold" text-anchor="middle" fill="#222">*</text>
<rect x="11.4" y="679.80" width="21.6" height="10.2" rx="1" fill="#fff" stroke="#1a1a1a" stroke-width="2"/>
<text x="44.2" y="689.60" font-size="14.8" textLength="104.3" lengthAdjust="spacingAndGlyphs" fill="#111">C57BL/6 (n=8)</text>
<rect x="11.4" y="701.80" width="21.6" height="10.2" rx="1" fill="#161616" stroke="#1a1a1a" stroke-width="2"/>
<text x="44.2" y="711.70" font-size="14.8" textLength="95.0" lengthAdjust="spacingAndGlyphs" fill="#111">NY1DD (n=8)</text>
<rect x="11.4" y="723.80" width="21.6" height="10.2" rx="1" fill="url(#chk)" stroke="#1a1a1a" stroke-width="2"/>
<text x="44.2" y="733.30" font-size="14.8" textLength="146.0" lengthAdjust="spacingAndGlyphs" fill="#111">NY1DD Serum (n=6)</text>
<rect x="11.4" y="745.60" width="21.6" height="10.2" rx="1" fill="#a6a6a6" stroke="#1a1a1a" stroke-width="2"/>
<text x="44.2" y="755.30" font-size="14.8" textLength="185.3" lengthAdjust="spacingAndGlyphs" fill="#111">NY1DD anti-CXCR3 (n=6)</text>
<text x="243.9" y="681.4" font-size="24" font-weight="bold">D</text>
<path d="M288,677 H508.5 V824.2" fill="none" stroke="#111" stroke-width="2"/>
<path d="M288,676 V745.3 M288,756.2 V825.3" fill="none" stroke="#111" stroke-width="2.2"/>
<path d="M286.9,824.2 H509.5" fill="none" stroke="#111" stroke-width="2.2"/>
<line x1="282.4" y1="687.80" x2="288" y2="687.80" stroke="#111" stroke-width="1.8"/>
<text x="281.5" y="691.40" font-size="10.2" font-weight="bold" text-anchor="end">120</text>
<line x1="282.4" y1="704.40" x2="288" y2="704.40" stroke="#111" stroke-width="1.8"/>
<text x="281.5" y="708.00" font-size="10.2" font-weight="bold" text-anchor="end">90</text>
<line x1="282.4" y1="720.70" x2="288" y2="720.70" stroke="#111" stroke-width="1.8"/>
<text x="281.5" y="724.30" font-size="10.2" font-weight="bold" text-anchor="end">60</text>
<line x1="282.4" y1="737.20" x2="288" y2="737.20" stroke="#111" stroke-width="1.8"/>
<text x="281.5" y="740.80" font-size="10.2" font-weight="bold" text-anchor="end">30</text>
<line x1="282.4" y1="756.20" x2="288" y2="756.20" stroke="#111" stroke-width="1.8"/>
<text x="281.5" y="759.80" font-size="10.2" font-weight="bold" text-anchor="end">10</text>
<line x1="282.4" y1="790.20" x2="288" y2="790.20" stroke="#111" stroke-width="1.8"/>
<text x="281.5" y="793.80" font-size="10.2" font-weight="bold" text-anchor="end">5</text>
<line x1="282.4" y1="824.00" x2="288" y2="824.00" stroke="#111" stroke-width="1.8"/>
<text x="281.5" y="827.60" font-size="10.2" font-weight="bold" text-anchor="end">0</text>
<line x1="284.6" y1="745.2" x2="291" y2="745.2" stroke="#111" stroke-width="1.8"/>
<line x1="287" y1="756.2" x2="290.4" y2="756.2" stroke="#111" stroke-width="1.8"/>
<text transform="translate(256.5,810.7) rotate(-90)" font-size="11.2" font-weight="bold" textLength="121.5" lengthAdjust="spacingAndGlyphs">pg/mL X 10<tspan dy="-3.8" font-size="7.2">2</tspan><tspan dy="3.8"> (left lobe)</tspan></text>
<path d="M298.30,808.70 V806.30 M294.50,806.30 H302.10" stroke="#111" stroke-width="1.80" fill="none"/>
<rect x="291.75" y="808.65" width="13.10" height="15.55" fill="#fff" stroke="#111" stroke-width="1.90"/>
<path d="M314.20,779.50 V774.60 M310.40,774.60 H318.00" stroke="#111" stroke-width="1.80" fill="none"/>
<rect x="306.75" y="779.45" width="14.90" height="44.75" fill="#141414" stroke="#111" stroke-width="1.90"/>
<path d="M333.35,782.30 V776.50 M329.55,776.50 H337.15" stroke="#111" stroke-width="1.80" fill="none"/>
<rect x="326.25" y="782.25" width="14.20" height="41.95" fill="url(#chk)" stroke="#111" stroke-width="1.90"/>
<path d="M349.35,762.60 V758.60 M345.55,758.60 H353.15" stroke="#111" stroke-width="1.80" fill="none"/>
<rect x="342.35" y="762.55" width="14.00" height="61.65" fill="#a6a6a6" stroke="#111" stroke-width="1.90"/>
<path d="M299.30,802.50 V766.40 H314.30 V773.50" stroke="#111" stroke-width="2.00" fill="none"/>
<text x="307.20" y="767.10" font-size="11.5" font-weight="bold" text-anchor="middle" fill="#222">*</text>
<path d="M333.60,775.80 V752.20 H348.40 V757.50" stroke="#111" stroke-width="2.00" fill="none"/>
<text x="340.50" y="753.90" font-size="11.5" font-weight="bold" text-anchor="middle" fill="#222">*</text>
<rect x="290.80" y="829.4" width="66.50" height="2.2" fill="#111"/>
<text x="323.75" y="844.6" font-size="11.8" font-weight="bold" text-anchor="middle">CXCL9</text>
<path d="M371.30,736.40 V734.60 M367.50,734.60 H375.10" stroke="#111" stroke-width="1.80" fill="none"/>
<rect x="364.75" y="736.35" width="13.10" height="87.85" fill="#fff" stroke="#111" stroke-width="1.90"/>
<path d="M387.20,719.90 V716.30 M383.40,716.30 H391.00" stroke="#111" stroke-width="1.80" fill="none"/>
<rect x="379.75" y="719.85" width="14.90" height="104.35" fill="#141414" stroke="#111" stroke-width="1.90"/>
<path d="M406.35,714.80 V708.20 M402.55,708.20 H410.15" stroke="#111" stroke-width="1.80" fill="none"/>
<rect x="399.25" y="714.75" width="14.20" height="109.45" fill="url(#chk)" stroke="#111" stroke-width="1.90"/>
<path d="M422.35,697.30 V691.50 M418.55,691.50 H426.15" stroke="#111" stroke-width="1.80" fill="none"/>
<rect x="415.35" y="697.25" width="14.00" height="126.95" fill="#a6a6a6" stroke="#111" stroke-width="1.90"/>
<rect x="361" y="745.4" width="72" height="10.6" fill="#fff"/>
<path d="M372.60,730.00 V708.20 H387.20 V715.00" stroke="#111" stroke-width="2.00" fill="none"/>
<text x="380.30" y="708.90" font-size="11.5" font-weight="bold" text-anchor="middle" fill="#222">*</text>
<path d="M407.00,702.00 V685.00 H421.40 V690.50" stroke="#111" stroke-width="2.00" fill="none"/>
<text x="414.20" y="686.60" font-size="11.5" font-weight="bold" text-anchor="middle" fill="#222">*</text>
<rect x="363.80" y="829.4" width="66.50" height="2.2" fill="#111"/>
<text x="396.75" y="844.6" font-size="11.8" font-weight="bold" text-anchor="middle">CXCL10</text>
<path d="M444.10,812.70 V811.00 M440.30,811.00 H447.90" stroke="#111" stroke-width="1.80" fill="none"/>
<rect x="437.55" y="812.65" width="13.10" height="11.55" fill="#fff" stroke="#111" stroke-width="1.90"/>
<path d="M460.00,810.80 V807.70 M456.20,807.70 H463.80" stroke="#111" stroke-width="1.80" fill="none"/>
<rect x="452.55" y="810.75" width="14.90" height="13.45" fill="#141414" stroke="#111" stroke-width="1.90"/>
<path d="M479.15,814.20 V812.60 M475.35,812.60 H482.95" stroke="#111" stroke-width="1.80" fill="none"/>
<rect x="472.05" y="814.15" width="14.20" height="10.05" fill="url(#chk)" stroke="#111" stroke-width="1.90"/>
<path d="M495.15,816.50 V815.00 M491.35,815.00 H498.95" stroke="#111" stroke-width="1.80" fill="none"/>
<rect x="488.15" y="816.45" width="14.00" height="7.75" fill="#a6a6a6" stroke="#111" stroke-width="1.90"/>
<rect x="436.60" y="829.4" width="66.50" height="2.2" fill="#111"/>
<text x="469.55" y="844.6" font-size="11.8" font-weight="bold" text-anchor="middle">CXCL11</text>
</svg></body></html>
